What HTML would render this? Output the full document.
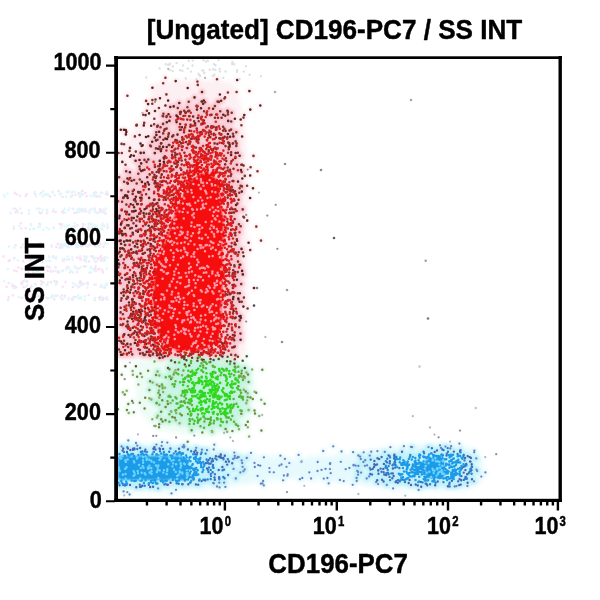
<!DOCTYPE html>
<html><head><meta charset="utf-8"><style>
html,body{margin:0;padding:0;background:#fff;width:600px;height:600px;overflow:hidden}
svg{display:block}
text{font-family:"Liberation Sans",Arial,sans-serif;font-weight:bold;fill:#000;stroke:#000;stroke-width:0.45px;stroke-linejoin:round}
</style></head><body>
<svg width="600" height="600" viewBox="0 0 600 600">
<rect width="600" height="600" fill="#fff"/>
<defs><filter id="b2" x="-20%" y="-20%" width="140%" height="140%"><feGaussianBlur stdDeviation="2.5"/></filter><filter id="b1" x="-20%" y="-20%" width="140%" height="140%"><feGaussianBlur stdDeviation="1.2"/></filter><filter id="bh" x="-5%" y="-5%" width="110%" height="110%"><feGaussianBlur stdDeviation="1.6"/></filter><filter id="b05"><feGaussianBlur stdDeviation="0.55"/></filter></defs>
<g opacity="0.55" filter="url(#b05)"><path d="M58.6 191.1h0m23.2 .1h0m.8 -.2h0m-48 1.4h0m18.2 -.2h0m15.7 -.3h0m4 -.2h0m23.1 .5h0m11 -.1h0m-92 .8h0m26.6 .2h0m37.5 0h0m6.7 -.1h0m8.5 .3h0m7.3 -.5h0m-84.6 1.5h0m10 -.2h0m8.6 0h0m47.3 .3h0m23.4 -.3h0m1.8 .3h0m-32 .4h0m-55.9 1h0m5.9 .1h0m46.8 -.4h0m14.1 .7h0m9.4 .2h0m4 .1h0m-49.9 .1h0m12.5 .3h0m8.4 -.1h0m8.9 -.1h0m17.9 -.1h0m-58.2 11.9h0m-24.2 .3h0m57.5 0h0m5.8 0h0m5.3 .3h0m10.6 -.5h0m5.3 .7h0m-18.2 .2h0m8.7 .5h0m11.9 .2h0m.1 -.2h0m1.6 -.2h0m-86.8 .9h0m35.9 .7h0m29.2 -.7h0m3.1 .7h0m9.2 -.2h0m-79 1.1h0m40.2 -.3h0m6.4 -.2h0m33.3 .2h0m4.4 -.2h0m2.5 .5h0m-80.7 .9h0m18.3 .1h0m1.5 -.4h0m5.6 .4h0m16.3 -.5h0m11.1 .2h0m2.3 -.4h0m28 0h0m.7 1.1h0m-84.7 9.5h0m10 1h0m8.4 -.4h0m.8 .4h0m19.5 -.3h0m.8 .6h0m1.5 0h0m.1 -.2h0m20.8 -.3h0m8.1 .3h0m.1 -.2h0m-30.3 .6h0m.6 .5h0m16.3 .1h0m25 0h0m-28.2 1.1h0m29.7 -.6h0m-21 .8h0m9.3 .4h0m15.5 -.2h0m-82 1.5h0m27.9 -.8h0m34.4 .3h0m19.4 .2h0m-93.7 .6h0m7.6 0h0m71.4 .5h0m4.7 -.6h0m.1 .9h0m-8.9 .3h0m2.7 -.1h0m.2 .3h0m-51 13.4h0m50.3 0h0m-51.9 .4h0m18.8 .2h0m8.9 .5h0m8.8 -.4h0m.2 .2h0m.4 -.2h0m9.4 .3h0m5 .1h0m1.8 -.1h0m8.3 -.5h0m4 .1h0m-89 1.4h0m44.9 -.8h0m6.6 .4h0m1.2 0h0m3.3 .2h0m6.6 .1h0m6.3 -.5h0m4.2 .8h0m.6 0h0m.2 -.4h0m-37.8 1.1h0m9.7 .1h0m19.7 -.1h0m.8 -.5h0m.9 -.1h0m4.9 .8h0m7.3 -.2h0m3.7 -.1h0m-77.7 1.3h0m19.9 -.3h0m2.9 -.2h0m12.5 0h0m20.2 .2h0m27 -.3h0m-43.9 1h0m-56.1 8.6h0m49.4 0h0m31.7 .1h0m6.7 0h0m1.2 -.3h0m8.8 -.2h0m-52.2 .9h0m51.3 .3h0m-85.9 .7h0m28.1 0h0m34.5 -.3h0m2.4 .7h0m.9 -.5h0m13.1 -.2h0m4.7 .6h0m5.8 .2h0m-74.1 1.1h0m1.8 -.1h0m.4 -.6h0m32.2 .6h0m4.7 -.1h0m16.7 -.2h0m12.4 -.1h0m4.3 -.3h0m-92.5 1.7h0m70.9 -.6h0m3.6 .4h0m16.5 .2h0m4 -.1h0m-96.2 .8h0m14.6 .2h0m39.3 -.7h0m-19.8 1.2h0m46.2 -.3h0m6.5 .2h0m-48.5 4.8h0m37.3 -.1h0m11.4 -.2h0m-46.5 .7h0m6.4 .4h0m11.8 -.3h0m7.6 -.1h0m-56.6 .7h0m49.8 .5h0m7.3 -.3h0m3.1 .4h0m-56.7 .7h0m10.6 .4h0m3.8 -.3h0m41.8 .1h0m16.9 -.5h0m2.9 .6h0m1.5 -.5h0m-85.2 1.8h0m13.1 -.2h0m35.6 .2h0m39.2 -.6h0m-85.5 1.3h0m20.9 .3h0m10.2 -.6h0m5.9 .4h0m4.6 0h0m4.4 -.4h0m33.1 .1h0m-44.9 .6h0m19.3 .6h0m7.1 0h0m25.6 -.5h0m.2 .7h0m-74.7 .2h0m5.1 0h0m24.5 0h0m31.8 .2h0m-66.7 8.6h0m4.2 0h0m14 -.3h0m13.1 0h0m1.8 .3h0m24.1 -.2h0m-38.5 .9h0m1.7 .3h0m7.6 0h0m6.3 -.2h0m8.3 -.3h0m-56.9 1.1h0m12.6 0h0m34.5 -.2h0m23.8 .2h0m1.3 .1h0m6.8 -.4h0m-65.7 1.3h0m13.4 0h0m12 .2h0m35.3 .1h0m5.1 -.4h0m7.9 .6h0m-54.3 .1h0m6 -.1h0m8.5 0h0m26.2 .3h0m-69.5 1.1h0m1.6 0h0m17.4 .1h0m-25 .8h0m9.6 .5h0m7.5 -.2h0m39 -.4h0m10.2 .3h0m4.8 -.5h0m1 .5h0m22.1 -.4h0m3.9 .5h0m-90.2 .8h0m16.7 -.1h0m73.7 -.1h0m-92 7.7h0m15.6 -.1h0m3.9 .1h0m1.1 -.2h0m55.1 -.2h0m-63.8 1.5h0m7.9 -.1h0m5.6 -.5h0m14.2 -.3h0m3.4 .1h0m5.9 -.1h0m3.2 .3h0m-56.3 1.3h0m22.8 -.2h0m43.3 0h0m25.9 .1h0m-78.9 .7h0m20.9 -.2h0m3.9 .2h0m33.1 -.1h0m15.5 .3h0m4.1 -.4h0m.5 .7h0m3.3 -.2h0m3 .1h0m-79.9 .7h0m15.3 -.3h0m12.8 .7h0m7.9 -.2h0m9.5 .2h0m23.3 0h0m4.9 .1h0m7.5 .1h0m-99.3 .5h0m64.8 -.4h0m21.6 .1h0m.3 .2h0m8.1 -.2h0" stroke="#f6c8ee" stroke-width="2.6" stroke-linecap="round" fill="none"/>
<path d="M43 191.2h0m25.3 0h0m-15.8 .6h0m13.9 .3h0m5.7 -.2h0m2.6 -.1h0m32.6 .6h0m-72.6 .2h0m25.7 .6h0m20.8 .3h0m15.4 -.4h0m5.9 .1h0m-95 .4h0m32.7 .5h0m5.6 -.4h0m1.8 .6h0m13.6 -.2h0m10.7 -.6h0m8.6 .3h0m13.8 .6h0m-90.5 .7h0m40.4 -.1h0m2.5 -.1h0m8.1 .5h0m4.6 -.9h0m19.9 .3h0m2.2 .2h0m-45.5 1.3h0m6.9 .1h0m6.1 -.8h0m22.6 .7h0m18.7 -.8h0m2.4 .7h0m6.7 -.3h0m.2 .2h0m-95 .6h0m61.4 0h0m-52.8 11.8h0m56.3 -.3h0m16 .3h0m-65.2 .1h0m16.5 .2h0m28 -.1h0m8.4 .8h0m6.6 -.5h0m4.3 .3h0m7.8 -.5h0m3 .4h0m11.2 -.6h0m-76.9 1.7h0m13.5 -.3h0m4.1 -.2h0m6.7 -.2h0m9.9 .7h0m4.9 0h0m9.1 0h0m.5 -.4h0m25 0h0m-55.6 1.6h0m33 -.9h0m-41.2 1.3h0m40 0h0m2.7 -.2h0m6.7 .1h0m6.8 -.1h0m10.1 .7h0m-95 .1h0m.3 .9h0m7.3 -.6h0m.1 .2h0m11 .4h0m36 -.6h0m24.3 .2h0m7.9 .2h0m.9 -.5h0m-23.4 10.6h0m14 .2h0m2.6 .4h0m11 -.3h0m4.8 .6h0m-76.1 .7h0m37.9 .1h0m16.3 -.4h0m3.5 0h0m5.6 .4h0m8.4 .1h0m-88.8 1.4h0m5.3 -.6h0m48 .1h0m29.3 .3h0m-58.4 .9h0m.9 -.5h0m.8 -.1h0m24.3 -.1h0m8.6 0h0m2.5 .7h0m13.5 .2h0m-42.2 .3h0m7.3 .2h0m7.2 .4h0m30.5 0h0m4.6 -.2h0m5 -.4h0m6.5 .1h0m-77.9 1.6h0m3.1 -.6h0m1.4 .1h0m14.5 .1h0m51.8 -.2h0m2.1 .4h0m-59.5 .6h0m23.2 0h0m.2 -.2h0m11.4 13.5h0m13.3 .2h0m14 .1h0m-44.8 .6h0m4.7 -.3h0m3.2 .6h0m4.8 -.3h0m22.6 .3h0m1.8 -.6h0m10.3 0h0m-85.2 .9h0m29 .6h0m11.5 -.6h0m1 .8h0m3.1 -.2h0m8.3 -.3h0m.5 .5h0m9.4 0h0m2.7 0h0m5.2 -.8h0m-84.6 1.8h0m54.1 -.2h0m-38.3 .9h0m42 -.3h0m1.9 .5h0m7.6 -.5h0m1.8 0h0m1.1 -.3h0m17.4 0h0m3.5 .2h0m-85.6 .9h0m47.7 .2h0m-13 8.5h0m31.1 .1h0m7.3 .1h0m-31.2 .2h0m11.4 -.2h0m4.7 .8h0m13.3 0h0m19.3 -.3h0m-68.5 .6h0m2.7 .3h0m14.9 -.2h0m30.8 .6h0m1.9 -.7h0m9 .2h0m11.6 -.1h0m-93.5 1.1h0m19.7 0h0m22.6 0h0m6.8 -.1h0m31.5 0h0m-76.6 1.6h0m11.6 .1h0m37.3 -.8h0m5.9 .3h0m21.3 -.3h0m9.1 .2h0m-66.9 .7h0m3 .3h0m7.4 .1h0m2.7 -.3h0m.9 .6h0m13.9 0h0m32.6 0h0m6.7 0h0m-17.1 .6h0m-45.3 5.2h0m27.7 .1h0m6.2 -.4h0m6.2 .3h0m5.2 -.4h0m5.1 .1h0m-59.5 1.2h0m11.3 -.3h0m7.3 .7h0m25.8 0h0m14.4 -.4h0m.6 .2h0m-83.3 1h0m21.8 -.3h0m36.1 .4h0m12.6 -.6h0m14.7 .7h0m13.7 -.7h0m-70.1 1.4h0m1.1 0h0m32.7 .2h0m-37.4 .5h0m22.7 .1h0m6.9 .5h0m9.2 0h0m22.8 -.1h0m-35 1.1h0m31.3 .1h0m-54.2 .1h0m3.4 .5h0m33.1 -.1h0m17.6 -.3h0m-86.8 8.7h0m20.8 -.2h0m23.3 1.1h0m7.1 -.5h0m27 .8h0m-40.9 .7h0m31.6 0h0m-61.1 1.1h0m73.5 -.6h0m20.6 .1h0m1.4 .3h0m-61 1.3h0m9.7 -.9h0m19.1 0h0m.3 .6h0m18.7 -.3h0m7 .2h0m6.2 -.5h0m-80.2 1.1h0m52.7 .4h0m21.7 -.4h0m3.8 .5h0m-79.4 .6h0m52.2 .6h0m-64.8 .4h0m21.8 .1h0m52.2 -.2h0m15.8 0h0m-25 7.6h0m-51.5 1.1h0m9.5 -.6h0m5 .7h0m16.4 -.8h0m27.5 .9h0m-66.3 .6h0m20.9 .4h0m2.1 -.7h0m9.7 -.2h0m1.9 .3h0m19.7 .4h0m3.3 0h0m4.8 0h0m3.3 -.8h0m17.2 .1h0m5 .5h0m-75.6 1.4h0m17.4 -.5h0m2.8 0h0m9 -.4h0m4.1 .1h0m4.4 0h0m-20.9 1.1h0m31 -.1h0m2.4 0h0m13.6 .2h0m10.4 -.1h0m.2 -.2h0m-37.4 1.1h0m16.8 .3h0m16.1 -.2h0" stroke="#c4f4fa" stroke-width="2.6" stroke-linecap="round" fill="none"/>
</g>
<path d="M172 80h50v2h-50zM157 82h74v2h-74zM152 84h82v2h-82zM151 86h85v2h-85zM150 88h86v2h-86zM151 90h86v2h-86zM151 92h86v2h-86zM151 94h87v2h-87zM150 96h89v2h-89zM149 98h90v2h-90zM148 100h92v2h-92zM147 102h93v2h-93zM147 104h94v2h-94zM146 106h95v2h-95zM146 108h96v2h-96zM145 110h97v2h-97zM144 112h98v2h-98zM144 114h99v2h-99zM143 116h100v2h-100zM143 118h100v2h-100zM142 120h102v2h-102zM140 122h104v2h-104zM138 124h106v2h-106zM137 126h107v2h-107zM135 128h110v2h-110zM134 130h111v2h-111zM132 132h113v2h-113zM131 134h114v2h-114zM130 136h115v2h-115zM128 138h118v2h-118zM126 140h120v2h-120zM124 142h122v2h-122zM122 144h124v2h-124zM120 146h126v2h-126zM118 148h128v2h-128zM118 150h129v2h-129zM118 152h129v2h-129zM118 154h129v2h-129zM118 156h129v2h-129zM118 158h129v2h-129zM118 160h129v2h-129zM118 162h129v2h-129zM118 164h129v2h-129zM118 166h129v2h-129zM118 168h129v2h-129zM118 170h129v2h-129zM118 172h129v2h-129zM118 174h130v2h-130zM118 176h130v2h-130zM118 178h130v2h-130zM118 180h130v2h-130zM118 182h130v2h-130zM118 184h130v2h-130zM118 186h130v2h-130zM118 188h130v2h-130zM118 190h130v2h-130zM118 192h130v2h-130zM118 194h130v2h-130zM118 196h130v2h-130zM118 198h130v2h-130zM118 200h130v2h-130zM118 202h130v2h-130zM118 204h130v2h-130zM118 206h130v2h-130zM118 208h130v2h-130zM118 210h130v2h-130zM118 212h130v2h-130zM118 214h130v2h-130zM118 216h130v2h-130zM118 218h130v2h-130zM118 220h130v2h-130zM118 222h130v2h-130zM118 224h130v2h-130zM118 226h130v2h-130zM118 228h130v2h-130zM118 230h130v2h-130zM118 232h130v2h-130zM118 234h130v2h-130zM118 236h130v2h-130zM118 238h130v2h-130zM118 240h130v2h-130zM118 242h130v2h-130zM118 244h130v2h-130zM118 246h130v2h-130zM118 248h130v2h-130zM118 250h130v2h-130zM118 252h130v2h-130zM118 254h130v2h-130zM118 256h130v2h-130zM118 258h130v2h-130zM118 260h130v2h-130zM118 262h130v2h-130zM118 264h130v2h-130zM118 266h130v2h-130zM118 268h130v2h-130zM118 270h130v2h-130zM118 272h130v2h-130zM118 274h130v2h-130zM118 276h130v2h-130zM118 278h130v2h-130zM118 280h130v2h-130zM118 282h130v2h-130zM118 284h130v2h-130zM118 286h130v2h-130zM118 288h130v2h-130zM118 290h130v2h-130zM118 292h130v2h-130zM118 294h130v2h-130zM118 296h130v2h-130zM118 298h130v2h-130zM118 300h130v2h-130zM118 302h130v2h-130zM118 304h130v2h-130zM118 306h130v2h-130zM118 308h130v2h-130zM118 310h130v2h-130zM118 312h129v2h-129zM118 314h129v2h-129zM118 316h129v2h-129zM118 318h129v2h-129zM118 320h129v2h-129zM118 322h129v2h-129zM118 324h129v2h-129zM118 326h129v2h-129zM118 328h129v2h-129zM118 330h129v2h-129zM118 332h129v2h-129zM118 334h129v2h-129zM118 336h129v2h-129zM118 338h129v2h-129zM118 340h128v2h-128zM118 342h128v2h-128zM118 344h128v2h-128zM118 346h128v2h-128zM118 348h128v2h-128zM118 350h128v2h-128zM118 352h127v2h-127zM118 354h126v2h-126zM118 356h123v2h-123zM118 358h116v2h-116z" fill="#fdf0f3" filter="url(#b2)"/>
<path d="M199 102h10v2h-10zM189 104h27v2h-27zM185 106h34v2h-34zM181 108h40v2h-40zM178 110h45v2h-45zM175 112h50v2h-50zM173 114h53v2h-53zM172 116h55v2h-55zM170 118h58v2h-58zM169 120h60v2h-60zM168 122h61v2h-61zM166 124h64v2h-64zM165 126h66v2h-66zM164 128h67v2h-67zM163 130h69v2h-69zM162 132h70v2h-70zM161 134h72v2h-72zM160 136h73v2h-73zM158 138h76v2h-76zM157 140h77v2h-77zM156 142h78v2h-78zM155 144h80v2h-80zM154 146h81v2h-81zM153 148h82v2h-82zM152 150h84v2h-84zM150 152h86v2h-86zM149 154h87v2h-87zM148 156h89v2h-89zM147 158h90v2h-90zM145 160h92v2h-92zM144 162h93v2h-93zM142 164h96v2h-96zM141 166h97v2h-97zM139 168h99v2h-99zM137 170h101v2h-101zM135 172h104v2h-104zM133 174h106v2h-106zM132 176h107v2h-107zM130 178h109v2h-109zM128 180h111v2h-111zM126 182h113v2h-113zM125 184h114v2h-114zM124 186h116v2h-116zM123 188h117v2h-117zM121 190h119v2h-119zM120 192h120v2h-120zM118 194h122v2h-122zM118 196h122v2h-122zM118 198h122v2h-122zM118 200h122v2h-122zM118 202h122v2h-122zM118 204h122v2h-122zM118 206h122v2h-122zM118 208h122v2h-122zM118 210h122v2h-122zM118 212h122v2h-122zM118 214h123v2h-123zM118 216h123v2h-123zM118 218h123v2h-123zM118 220h123v2h-123zM118 222h123v2h-123zM118 224h123v2h-123zM118 226h123v2h-123zM118 228h123v2h-123zM118 230h123v2h-123zM118 232h123v2h-123zM118 234h123v2h-123zM118 236h122v2h-122zM118 238h122v2h-122zM118 240h122v2h-122zM118 242h122v2h-122zM118 244h122v2h-122zM118 246h122v2h-122zM118 248h122v2h-122zM118 250h122v2h-122zM118 252h122v2h-122zM118 254h122v2h-122zM118 256h122v2h-122zM118 258h122v2h-122zM118 260h122v2h-122zM118 262h122v2h-122zM118 264h122v2h-122zM118 266h122v2h-122zM118 268h122v2h-122zM118 270h122v2h-122zM118 272h122v2h-122zM118 274h122v2h-122zM118 276h122v2h-122zM118 278h122v2h-122zM118 280h122v2h-122zM118 282h122v2h-122zM118 284h122v2h-122zM118 286h122v2h-122zM118 288h122v2h-122zM118 290h122v2h-122zM118 292h122v2h-122zM118 294h122v2h-122zM118 296h122v2h-122zM118 298h122v2h-122zM118 300h122v2h-122zM118 302h122v2h-122zM118 304h121v2h-121zM118 306h121v2h-121zM118 308h121v2h-121zM118 310h121v2h-121zM118 312h121v2h-121zM118 314h121v2h-121zM118 316h121v2h-121zM118 318h121v2h-121zM118 320h121v2h-121zM118 322h121v2h-121zM118 324h121v2h-121zM118 326h121v2h-121zM118 328h120v2h-120zM118 330h120v2h-120zM118 332h120v2h-120zM118 334h120v2h-120zM118 336h120v2h-120zM118 338h120v2h-120zM118 340h119v2h-119zM118 342h119v2h-119zM118 344h119v2h-119zM118 346h119v2h-119zM118 348h118v2h-118zM118 350h117v2h-117zM118 352h116v2h-116zM118 354h114v2h-114zM141 356h85v2h-85z" fill="#fbdde4" filter="url(#b2)"/>
<path d="M183 356h43v2h-43zM148 358h93v2h-93zM136 360h111v2h-111zM135 362h114v2h-114zM135 364h116v2h-116zM136 366h115v2h-115zM137 368h115v2h-115zM137 370h116v2h-116zM137 372h116v2h-116zM137 374h117v2h-117zM137 376h117v2h-117zM136 378h118v2h-118zM136 380h118v2h-118zM136 382h119v2h-119zM136 384h119v2h-119zM136 386h119v2h-119zM136 388h119v2h-119zM136 390h119v2h-119zM136 392h119v2h-119zM136 394h119v2h-119zM137 396h117v2h-117zM137 398h117v2h-117zM137 400h117v2h-117zM138 402h116v2h-116zM138 404h115v2h-115zM138 406h115v2h-115zM139 408h114v2h-114zM140 410h112v2h-112zM141 412h111v2h-111zM143 414h108v2h-108zM144 416h107v2h-107zM146 418h104v2h-104zM147 420h102v2h-102zM149 422h100v2h-100zM151 424h97v2h-97zM155 426h91v2h-91zM160 428h84v2h-84zM167 430h73v2h-73zM179 432h55v2h-55zM197 434h14v2h-14z" fill="#eefcf5" filter="url(#b2)"/>
<path d="M188 360h36v2h-36zM178 362h56v2h-56zM174 364h64v2h-64zM172 366h69v2h-69zM170 368h73v2h-73zM168 370h76v2h-76zM168 372h77v2h-77zM167 374h78v2h-78zM167 376h78v2h-78zM166 378h79v2h-79zM166 380h80v2h-80zM165 382h81v2h-81zM165 384h81v2h-81zM165 386h81v2h-81zM164 388h82v2h-82zM165 390h81v2h-81zM165 392h81v2h-81zM165 394h81v2h-81zM165 396h81v2h-81zM166 398h79v2h-79zM166 400h79v2h-79zM166 402h79v2h-79zM167 404h78v2h-78zM167 406h78v2h-78zM168 408h76v2h-76zM169 410h75v2h-75zM170 412h73v2h-73zM172 414h70v2h-70zM174 416h67v2h-67zM175 418h65v2h-65zM177 420h62v2h-62zM180 422h57v2h-57zM184 424h51v2h-51zM191 426h39v2h-39z" fill="#cdf6e4" filter="url(#b2)"/>
<path d="M118 444h76v2h-76zM410 444h45v2h-45zM118 446h91v2h-91zM392 446h75v2h-75zM118 448h105v2h-105zM379 448h93v2h-93zM118 450h115v2h-115zM369 450h106v2h-106zM118 452h128v2h-128zM356 452h122v2h-122zM118 454h140v2h-140zM336 454h144v2h-144zM118 456h160v2h-160zM308 456h173v2h-173zM118 458h171v2h-171zM292 458h190v2h-190zM118 460h365v2h-365zM118 462h365v2h-365zM118 464h365v2h-365zM118 466h365v2h-365zM118 468h365v2h-365zM118 470h365v2h-365zM118 472h365v2h-365zM118 474h365v2h-365zM118 476h365v2h-365zM118 478h167v2h-167zM298 478h184v2h-184zM118 480h148v2h-148zM323 480h158v2h-158zM118 482h134v2h-134zM350 482h129v2h-129zM118 484h120v2h-120zM364 484h112v2h-112zM118 486h107v2h-107zM377 486h96v2h-96zM118 488h89v2h-89zM394 488h72v2h-72zM118 490h58v2h-58z" fill="#e6fafd" filter="url(#b2)"/>
<path d="M118 450h62v2h-62zM118 452h78v2h-78zM408 452h50v2h-50zM118 454h88v2h-88zM395 454h70v2h-70zM118 456h95v2h-95zM388 456h81v2h-81zM118 458h98v2h-98zM385 458h85v2h-85zM118 460h98v2h-98zM385 460h85v2h-85zM118 462h98v2h-98zM385 462h85v2h-85zM118 464h98v2h-98zM385 464h85v2h-85zM118 466h98v2h-98zM385 466h85v2h-85zM118 468h98v2h-98zM385 468h85v2h-85zM118 470h98v2h-98zM385 470h85v2h-85zM118 472h98v2h-98zM385 472h85v2h-85zM118 474h98v2h-98zM385 474h85v2h-85zM118 476h98v2h-98zM385 476h85v2h-85zM118 478h97v2h-97zM386 478h83v2h-83zM118 480h92v2h-92zM391 480h76v2h-76zM118 482h83v2h-83zM401 482h61v2h-61zM118 484h70v2h-70zM425 484h19v2h-19z" fill="#c4f1fb" filter="url(#b2)"/>
<g filter="url(#bh)"><path d="M165.4 77.8h0m51.6 1.5h0m20.2 .7h0m-61.5 1.1h0m21.7 .4h0m-34.2 1.7h0m34.6 1.7h0m-45.4 2.8h0m35.3 .3h0m61.7 3.1h0m-12.8 .9h0m-8.7 .5h0m-61.5 1.9h0m53.5 .1h0m-92.5 1.3h0m97.7 1.6h0m-65.1 .8h0m-4.5 1.3h0m68.9 -1h0m-72 1.6h0m-6.3 .8h0m22 -.3h0m-20 3.5h0m4.2 -.4h0m13.1 1.8h0m94.9 0h0m-101.4 2.5h0m91.4 1.6h0m-103.4 1.1h0m8.1 .3h0m-6 2.4h0m-5.7 1.3h0m2.2 .4h0m98.8 -.1h0m-.8 2.6h0m-89.2 1.2h0m80.6 -.1h0m5.8 .8h0m-96.5 3.4h0m9.9 1.3h0m-17.6 1.2h0m.3 -.5h0m7 .5h0m97.6 -.1h0m-90.2 .5h0m-30.4 3.9h0m3.1 0h0m1.9 .4h0m.5 1.8h0m-.4 2.5h0m13.7 .6h0m-4.7 1.4h0m13.4 -.2h0m93.8 .3h0m-96.1 .5h0m-24.4 6.9h0m2.5 .4h0m16.4 -.8h0m2.2 1.8h0m-1 .6h0m-11.7 2h0m-.5 3h0m6.3 .7h0m-17.3 1.4h0m3.3 0h0m9.4 2.3h0m2.7 .5h0m119.6 .1h0m-123.4 .8h0m-7.8 5.2h0m3.2 2.8h0m115.8 0h0m.6 -.1h0m1.7 1h0m7 1.6h0m6.9 4h0m-12.7 4.7h0m5.4 -.4h0m-7.9 3h0m4.8 7.2h0m5.9 2.6h0m-2.9 9.7h0m-6.7 18.7h0m.6 .7h0m3.2 3.2h0m9.1 6h0m4.7 14h0m-12.4 2.1h0m1.6 7.3h0m-7.2 2.5h0m.6 3.7h0m10.4 31.8h0m-10.1 9.6h0m-.5 9h0m4.2 1.9h0m-12.2 46.8h0m2.5 1.4h0m-27.4 2.3h0m24.3 .3h0m-31.2 .7h0" stroke="#fce6eb" stroke-width="5.5" stroke-linecap="round" fill="none"/>
<path d="M202 92h0m-7.5 5.4h0m9.3 3.1h0m17.3 .2h0m-32.4 1h0m13 -.2h0m3.3 .7h0m12.6 -.6h0m1.3 .3h0m-39.6 1.1h0m23.8 .7h0m-29.4 2.7h0m23 -.5h0m.2 .5h0m.1 -.3h0m.6 .1h0m17.3 -.1h0m-44.6 .9h0m17.1 .3h0m-9.6 .7h0m23.2 .3h0m8 .1h0m4.1 .3h0m-16.1 .9h0m-12.8 1.1h0m3.8 .5h0m1 -.2h0m.2 -.2h0m14.9 .5h0m3.1 -.1h0m13 0h0m7.3 -.5h0m-47.5 1.7h0m1 -.6h0m4.3 .7h0m42.6 -.5h0m-47.2 .5h0m5.1 .1h0m5 .1h0m15.8 .3h0m25.1 -.3h0m-68.3 1h0m5.1 .6h0m11.8 -.3h0m35.9 .5h0m11.7 -.1h0m-29.4 1.1h0m8.6 -.7h0m3.1 .3h0m1.2 -.3h0m5.7 -.2h0m6.2 .2h0m-60.6 1.3h0m.5 .2h0m3.5 -.3h0m9.8 -.4h0m7 .4h0m1.7 -.3h0m3.9 .5h0m.4 0h0m3.6 .3h0m32.1 -.8h0m-58.7 1.2h0m3.7 -.1h0m7.5 -.1h0m24.1 0h0m3.9 .3h0m-27.8 .7h0m19.9 .3h0m2.9 -.3h0m.8 -.1h0m13.5 .2h0m3 -.1h0m3.6 .1h0m-43.8 1.1h0m2.6 -.3h0m1.4 .5h0m19.5 .1h0m-25.1 1h0m7.3 -.7h0m3.8 .1h0m3.1 .3h0m-21 1h0m24.7 .3h0m4.6 0h0m4.2 -.7h0m.9 .1h0m24.4 .3h0m3 .6h0m-64.4 .8h0m9.8 -.2h0m39.2 -.3h0m-20.7 1.5h0m8.2 .1h0m1.3 -.1h0m-41.5 .6h0m17 .2h0m21.2 .3h0m.4 -.7h0m.5 .2h0m-16.5 .8h0m.1 .1h0m4.8 0h0m3.3 .7h0m1.3 -.2h0m-37.5 .4h0m34.4 0h0m15.7 .7h0m3.7 -.1h0m7.3 .1h0m-61.6 .4h0m3.3 .4h0m19.1 -.2h0m2.3 .3h0m3.2 .1h0m5.3 -.6h0m15.7 .7h0m4.9 -.2h0m1 -.2h0m.7 -.2h0m.9 0h0m2.8 .4h0m6.7 -.6h0m-11.5 1.2h0m4.7 .1h0m-51.6 1.2h0m1.9 -.6h0m17.5 .7h0m12.6 -.7h0m23.1 .1h0m4.6 .1h0m-44.4 .9h0m.8 .1h0m16.2 .4h0m6 -.2h0m.4 0h0m12.5 -.3h0m.7 -.1h0m14.5 0h0m-67 1.1h0m20 -.1h0m5.4 .2h0m1.7 .2h0m3.1 .5h0m9.8 -.5h0m.5 -.1h0m4.9 -.3h0m13.7 0h0m2.4 .3h0m3.9 -.3h0m-73.2 1.7h0m2.8 -.5h0m24.9 .4h0m17.2 -.2h0m5.4 .4h0m4.1 -.6h0m25.6 .4h0m-73.1 1.2h0m5.6 -.2h0m28.5 -.6h0m2.3 0h0m2.4 .1h0m6.8 -.1h0m10.6 .8h0m-27.7 .6h0m9.4 -.4h0m.8 .5h0m3.7 -.3h0m5.7 .3h0m2.5 -.2h0m7.6 .5h0m6.5 -.3h0m5.1 -.4h0m-76.6 1.3h0m12.1 -.4h0m4.8 .8h0m4.2 -.8h0m11.2 .3h0m1.2 -.1h0m2.8 .1h0m7.8 -.3h0m8.5 .8h0m4.8 -.5h0m1.4 -.2h0m5.4 0h0m-35 1.6h0m.4 -.3h0m12 -.1h0m1.7 -.2h0m33.7 .7h0m-78.7 1.1h0m5.2 -.4h0m8.2 -.3h0m4.2 -.3h0m9.9 .9h0m4.9 .1h0m1.6 -.8h0m3.6 .4h0m1.2 -.4h0m3.6 .4h0m1.4 .2h0m6.2 -.7h0m5.7 .6h0m14.3 -.3h0m2.7 .5h0m2.7 -.7h0m-34.6 1.2h0m.6 .6h0m12 -.5h0m7.8 -.5h0m3.5 .7h0m3.2 -.4h0m1.1 0h0m-58.3 .8h0m1.6 .4h0m16.4 -.1h0m.1 .4h0m7.3 -.5h0m1 -.1h0m2.5 0h0m4.3 .7h0m14.4 -.1h0m1.6 -.3h0m5.6 -.4h0m6.9 -.1h0m.1 .1h0m-71.2 1.8h0m1.5 -.7h0m5.9 0h0m12.2 .3h0m6.8 -.2h0m14.4 -.2h0m10.1 .4h0m.3 .4h0m15.2 -.9h0m.6 .9h0m-47.9 .9h0m1.9 -.8h0m12.2 .6h0m7.3 .1h0m27.3 .1h0m11.8 .1h0m-83.4 .4h0m27.5 0h0m3.7 .7h0m2.8 -.4h0m4.2 -.3h0m7.4 .2h0m-36.8 1.4h0m.4 -.1h0m11.8 -.5h0m3.5 .2h0m.6 -.3h0m.2 0h0m3.6 .7h0m1.9 -.6h0m6.5 .5h0m.1 -.3h0m8.7 -.1h0m10.7 .4h0m.9 -.3h0m4.7 .4h0m5.1 -.6h0m2.3 .2h0m6.1 -.4h0m1.1 .5h0m3.8 .3h0m3.6 0h0m-48.5 1h0m1.7 -.7h0m27.6 .2h0m6.1 -.3h0m9.2 0h0m-63.9 1.4h0m.6 .1h0m9.4 .1h0m27.7 0h0m1.3 -.1h0m21.8 -.4h0m-79.4 .8h0m.7 .7h0m22.1 -.4h0m6 0h0m13.8 -.1h0m10.3 .4h0m22.4 0h0m10.8 -.2h0m-76.6 .7h0m3.4 .3h0m3.6 .1h0m5.3 0h0m9.8 -.3h0m.1 -.2h0m.8 0h0m9.1 .1h0m1.9 .3h0m13.5 .3h0m1.7 -.2h0m1.1 -.1h0m18.7 .2h0m1 -.5h0m-73.7 1.8h0m22 0h0m8.6 -.4h0m.5 0h0m6.3 -.1h0m2.6 -.3h0m3.6 .4h0m.9 0h0m.4 .3h0m13.9 -.6h0m.7 .4h0m2.2 .1h0m-59.6 .6h0m2.1 .5h0m1.1 -.3h0m14.2 -.3h0m24.3 .2h0m6.4 .2h0m4.8 -.3h0m2.4 .4h0m2.9 -.2h0m.2 .1h0m12.3 .1h0m-54.5 .7h0m7.7 0h0m10.1 .5h0m.7 -.2h0m.4 .2h0m8.6 -.8h0m6.9 .7h0m3.1 -.5h0m-50.9 1.3h0m5.5 -.6h0m5.1 .7h0m1 .3h0m27.7 0h0m2.7 0h0m.2 -.4h0m9.7 -.3h0m10.6 -.2h0m-30.2 1.8h0m1 -.8h0m1.7 .4h0m3.1 -.3h0m5.6 .7h0m4.1 -.8h0m3.9 .7h0m3 -.3h0m15.5 .4h0m-90.4 .5h0m3.1 -.2h0m11 .4h0m20.3 -.3h0m9.3 -.1h0m9.9 .6h0m4 .1h0m6.8 -.3h0m5.3 .1h0m6.6 -.1h0m.1 .1h0m2.9 .2h0m1.8 .1h0m6.2 -.7h0m7.7 .2h0m2.1 -.3h0m-60.5 1.5h0m2.4 -.6h0m16.7 .9h0m4.7 -.3h0m5.6 .2h0m1.2 -.5h0m8.2 .2h0m-44 .8h0m3.1 .4h0m14.2 -.5h0m.6 -.2h0m6.4 .7h0m6 -.3h0m15.4 .5h0m.9 -.2h0m2.2 .1h0m10.2 -.5h0m-66.2 1.3h0m16 -.4h0m4.3 .1h0m1.6 .2h0m3.1 -.6h0m11.3 .1h0m1.1 .3h0m2.3 -.1h0m1.3 .2h0m4.6 .2h0m1.1 -.2h0m4.5 -.3h0m7.9 0h0m15.6 .1h0m-67.3 1.2h0m1.2 .2h0m1.8 .3h0m19.9 -.6h0m2.9 -.1h0m17.3 0h0m20.1 .1h0m-71.8 .9h0m2.5 0h0m.1 0h0m5.6 .1h0m.6 .3h0m8.6 -.4h0m9.6 -.2h0m3 .1h0m6.2 -.1h0m2.2 .6h0m2.4 -.3h0m1.1 -.2h0m1.1 .1h0m4.8 -.2h0m5.9 .9h0m8.5 -.2h0m9.4 -.3h0m-71.1 .8h0m14.7 -.3h0m10.7 .2h0m14.1 .4h0m1.6 .3h0m3.7 -.8h0m13.4 -.1h0m-82.9 1.5h0m5 -.1h0m3.8 -.4h0m27.5 .9h0m3.5 -.4h0m6.1 -.2h0m8.5 -.3h0m1.1 .7h0m2.9 -.6h0m6 .1h0m3.5 .1h0m3.4 -.1h0m13.5 .1h0m8.7 0h0m-97.4 1h0m24.2 .1h0m9.1 -.2h0m8 .6h0m4.8 -.8h0m13.6 .7h0m.7 -.3h0m1 -.4h0m3.4 .1h0m.4 .8h0m7.4 -.4h0m5.8 -.4h0m6.8 .6h0m5.5 -.2h0m5.2 .4h0m-84.9 .5h0m7 0h0m10.3 0h0m4 .1h0m.2 -.3h0m1.8 .3h0m.6 -.1h0m7.5 .2h0m8.3 .2h0m.7 .2h0m7.4 -.7h0m6.5 .2h0m3.6 .5h0m1.6 -.3h0m8 .2h0m1.6 -.8h0m.7 .9h0m2.9 -1h0m-78.1 1.9h0m26.5 -.8h0m6.3 0h0m2.4 .9h0m11.7 -.9h0m8.9 -.1h0m.8 .7h0m1 -.1h0m.3 -.3h0m-39.1 1.6h0m4.3 -.4h0m10.4 -.5h0m7 1h0m4.7 -.2h0m2.4 -.7h0m.3 .5h0m7.5 -.2h0m1.2 0h0m9.3 .6h0m4.4 -.8h0m4.1 .2h0m2.2 .1h0m7.4 .4h0m5.6 -.9h0m-76 1.2h0m8.8 .2h0m14.1 .1h0m6.5 .3h0m2.7 -.3h0m4.2 .5h0m3.9 -.5h0m.7 .2h0m1.6 .3h0m4.6 -.4h0m7 -.6h0m4.8 .5h0m5.7 -.1h0m17.5 -.2h0m-97.4 1.8h0m18.4 -.3h0m1.6 -.2h0m5.5 -.1h0m2.1 -.1h0m4.5 .4h0m18.6 -.6h0m2.7 .2h0m.5 -.2h0m.2 .3h0m3 0h0m-41.7 1.1h0m8 .2h0m13.3 -.1h0m.8 -.5h0m11 .7h0m4.7 -.6h0m6.3 .5h0m1.3 .1h0m5.9 -.6h0m1.2 .3h0m4.1 -.1h0m.9 -.1h0m0 -.2h0m6.4 .9h0m-71.5 .1h0m15.2 .6h0m18 .1h0m9.5 -.7h0m5.2 .8h0m1.6 -.2h0m1.1 -.5h0m3.2 .1h0m16.5 .4h0m3.1 -.5h0m.5 .7h0m3.3 -.7h0m3.2 -.1h0m-87.8 1.7h0m9.3 0h0m10.4 -.6h0m9.9 -.1h0m1.3 0h0m.6 .3h0m2.1 .5h0m23.9 -.7h0m6.3 -.1h0m3.8 .5h0m15.7 0h0m10.3 -.3h0m-90.4 1.5h0m1.4 -.6h0m13.9 .2h0m2.2 .2h0m11.6 .1h0m9.1 -.3h0m8.8 .5h0m.2 .1h0m4.2 -.4h0m2.6 .3h0m5.8 -.4h0m2.6 -.2h0m7.9 .3h0m3 -.3h0m.5 0h0m10.7 .7h0m2.4 -.8h0m7.9 .6h0m3.1 -.2h0m-114.8 1.2h0m15.1 -.3h0m17.9 0h0m4.6 .1h0m2.7 .3h0m4.8 -.7h0m15.9 .1h0m5.8 .3h0m3.9 -.3h0m2.2 -.1h0m8.8 -.1h0m8.3 .5h0m-86.3 1.1h0m22.3 .1h0m.1 .2h0m4.4 -.5h0m2.2 -.2h0m.1 .6h0m11.2 -.6h0m13.5 .6h0m7.2 -.1h0m4.3 -.2h0m.6 .3h0m2.6 -.9h0m1.6 .4h0m1.5 -.3h0m3.6 0h0m7.7 .4h0m2.6 .4h0m2 -.1h0m7.7 0h0m.6 -.8h0m3.3 0h0m1.3 .4h0m11.3 .1h0m-64.8 1h0m8.1 .1h0m1.8 -.2h0m1 0h0m2.1 -.4h0m16.2 .1h0m0 .3h0m1.4 -.1h0m4.3 .5h0m3.6 -.4h0m4.6 .5h0m0 -.5h0m.9 .3h0m1.9 .2h0m.1 -.2h0m1.9 -.2h0m.9 -.1h0m-87.3 .8h0m11.4 .7h0m12.1 0h0m14.4 -.3h0m9.6 -.5h0m2.8 .8h0m4.9 -.9h0m4.6 .5h0m8.9 .2h0m4.5 .1h0m2 -.1h0m.5 -.2h0m8.1 -.2h0m9.1 .5h0m-76.8 .5h0m7.2 .2h0m6.6 .5h0m3.7 -.8h0m4.6 .3h0m2.2 .5h0m2.3 -1h0m2.4 .1h0m4.6 .6h0m6.2 -.6h0m7.3 .3h0m4.5 .2h0m4.8 -.2h0m2.7 .2h0m6.3 -.1h0m.3 .1h0m-63.7 1.1h0m16.1 -.6h0m3 .4h0m3.7 -.2h0m10.7 -.1h0m2.4 .1h0m6.4 -.2h0m9.9 .1h0m.4 .2h0m4.4 -.1h0m5.1 .4h0m4.6 0h0m1.5 -.7h0m3.6 .7h0m2.4 -.3h0m-111.5 1.4h0m28.1 0h0m6.2 -.1h0m.9 -.2h0m9.7 .3h0m7.6 -.7h0m3.8 0h0m.2 .1h0m9.6 .8h0m3.3 -.8h0m1.9 .6h0m11.6 -.4h0m1.4 .2h0m15.3 -.2h0m-91.2 1.6h0m2.6 -.4h0m25.1 -.6h0m.6 .5h0m5 -.4h0m6.5 .3h0m1.3 .2h0m8.7 .4h0m1.6 -.4h0m3.9 -.6h0m2 1h0m12.5 -.6h0m1.4 -.3h0m.9 .2h0m.6 -.3h0m1.3 .3h0m2.6 .5h0m5.4 -.1h0m.3 -.1h0m-70 1.4h0m37.4 -.8h0m11.9 .2h0m1.7 .4h0m.6 -.2h0m3.3 .2h0m.1 -.6h0m.7 .5h0m5 -.3h0m6.3 .1h0m.5 .4h0m3.7 -.5h0m2.5 .2h0m11.8 -.3h0m-96.5 .8h0m5.3 .4h0m18.8 -.4h0m22.8 .5h0m13.3 .3h0m5.4 .1h0m1.6 -.1h0m9.3 0h0m11.7 -.3h0m8.7 -.5h0m-94.1 1.2h0m23.6 .3h0m7.4 -.1h0m1.3 .1h0m7 -.1h0m3.4 .2h0m3.1 -.2h0m7.3 .1h0m2.3 -.3h0m8.4 -.1h0m3.7 .3h0m3.7 .1h0m7.8 .1h0m3.3 -.4h0m3.8 .5h0m1.1 .1h0m1.2 -.7h0m.6 .1h0m3 .6h0m8.9 -.4h0m.9 .1h0m-109.3 .7h0m17.8 .1h0m5.8 .4h0m7.3 -.6h0m5.3 -.2h0m1.7 .3h0m4 -.2h0m9.1 .2h0m3.3 .7h0m.5 -.9h0m1.2 .5h0m1.3 -.2h0m1.8 .6h0m7 -.8h0m5 .5h0m3.8 -.2h0m4.4 .4h0m5.1 -.5h0m4.9 .6h0m2.2 -.3h0m7.7 -.4h0m1.6 .2h0m4.5 .3h0m8.6 -.7h0m-110.8 1.2h0m27.4 .6h0m.4 -.6h0m.5 .4h0m12 0h0m2.4 -.4h0m9.3 0h0m1 .1h0m6.5 .3h0m5.2 .1h0m10.9 -.7h0m.4 .4h0m8.7 .3h0m3.6 -.5h0m1.3 -.2h0m2.4 .6h0m3.1 -.5h0m-94.5 .9h0m8.9 -.1h0m8.4 .3h0m11.7 -.2h0m1.3 0h0m19.9 .6h0m4.9 -.4h0m5 -.3h0m.5 .6h0m12.9 -.3h0m9.2 .5h0m4.3 -.7h0m2.8 .5h0m.7 .2h0m.9 .2h0m.8 -.3h0m-74.7 .9h0m3.6 -.6h0m8.7 .4h0m2.7 -.4h0m2 .8h0m10.6 .2h0m8 -.8h0m2.3 .4h0m.5 -.1h0m.3 -.1h0m10.4 -.4h0m1.2 .9h0m1.3 -.3h0m14.2 .3h0m3.5 0h0m6.3 -.6h0m.5 0h0m.2 .4h0m2.2 -.5h0m.8 0h0m2.1 -.1h0m.4 .1h0m1.6 .4h0m-85.6 1.3h0m2.2 -.4h0m11.4 .2h0m.9 -.7h0m29.6 .3h0m3.1 0h0m1.1 .5h0m9.3 -.6h0m13.4 .7h0m6 -.1h0m1.1 -.3h0m1.9 .2h0m5.4 -.6h0m12.1 .2h0m1.3 .6h0m-96.6 .7h0m10.4 -.5h0m.3 0h0m2.4 -.1h0m1.6 .6h0m8.4 0h0m3.3 -.4h0m3.7 -.2h0m6 .1h0m1.2 0h0m2.9 0h0m.4 .5h0m.1 .3h0m3.8 -.3h0m4.9 .1h0m3 0h0m13.9 -.6h0m15.5 .2h0m2.2 -.1h0m2.4 .2h0m.1 .4h0m-74.1 .6h0m10.9 .6h0m5.7 -.3h0m.5 -.7h0m1.1 .8h0m4 .1h0m4 -.8h0m.6 .7h0m2 0h0m1.3 -.7h0m3 .9h0m2 -.6h0m1.7 -.3h0m.1 .3h0m29.4 .1h0m5.3 .4h0m1.3 -.7h0m9 .5h0m-90.7 1.1h0m9.3 .1h0m.7 -.7h0m8.5 -.1h0m2.5 -.1h0m4.4 .2h0m22.2 .3h0m16.4 0h0m3.4 .4h0m.3 -.2h0m.2 -.2h0m1.7 .1h0m1.5 -.2h0m4.4 .4h0m.3 -.5h0m2.2 .5h0m-105.5 1h0m12.5 -.4h0m9.7 .2h0m14.6 .3h0m5.5 -.1h0m3.7 -.5h0m2.6 .5h0m.1 -.7h0m3.2 .1h0m3.3 .5h0m2.8 -.5h0m1.3 -.1h0m3.3 .4h0m6.1 .1h0m2.7 -.5h0m1.2 .8h0m29.7 0h0m4.9 -.5h0m1.8 -.3h0m2.5 .5h0m-100.1 1.1h0m33.5 .2h0m.7 -.1h0m5 .1h0m6.6 -.4h0m4.1 -.2h0m1.1 .3h0m.4 -.2h0m5.5 .6h0m1.3 -.8h0m1.8 .3h0m26 .2h0m11 -.6h0m1.1 .8h0m4.2 0h0m-106.8 .4h0m9.9 .2h0m1.2 .3h0m1 -.2h0m13.8 -.2h0m9.9 .1h0m2.7 0h0m3.7 -.3h0m6.8 .5h0m.3 -.4h0m8.7 -.1h0m.4 .5h0m28.3 -.6h0m2.5 .5h0m7.9 .1h0m.2 .2h0m1.3 -.4h0m.2 .3h0m6.4 0h0m8.3 -.7h0m-103 1.1h0m15.3 .6h0m9.7 .1h0m2.1 0h0m3.3 -.5h0m.2 0h0m6.5 -.2h0m2.5 .1h0m6.4 .4h0m1.8 -.4h0m5.1 .3h0m.1 -.6h0m24.5 1h0m9.6 -.8h0m13.4 0h0m-106.6 1.3h0m13.4 .3h0m11.8 -.3h0m9.6 -.5h0m6.4 .6h0m3.7 .4h0m2.8 -.7h0m10.1 0h0m26.6 .1h0m4.2 .2h0m.6 -.1h0m.8 -.4h0m7.1 .3h0m5.2 .2h0m.9 0h0m-110.3 1.1h0m16.2 -.3h0m16.9 -.3h0m8.9 .3h0m2.3 .6h0m2.2 -.5h0m1.6 -.4h0m4.5 0h0m6.4 .4h0m3.7 -.4h0m.9 .5h0m27.6 -.3h0m6.6 -.2h0m4.5 .6h0m2.2 .2h0m2 -.4h0m-107 .6h0m.9 .3h0m1.1 -.1h0m31.9 -.2h0m.1 .6h0m1.5 -.1h0m1.4 .3h0m7.3 -.7h0m10.1 .7h0m.3 -.5h0m38.1 .2h0m4.3 -.6h0m14.1 .4h0m-100.3 .8h0m27.9 .7h0m2.1 -.8h0m10.1 .2h0m3.5 -.3h0m45.2 .7h0m-101.5 .8h0m.3 -.4h0m4.2 .3h0m12.5 -.1h0m1.3 .1h0m7.6 0h0m16.2 0h0m2.9 .4h0m5.6 -.6h0m3.3 .7h0m1.8 -.2h0m1.4 .1h0m8.5 -.5h0m28.8 .2h0m1.6 -.3h0m.8 .5h0m7.7 -.6h0m-92.7 1.4h0m36.6 -.3h0m2 .7h0m2.5 -.5h0m1.4 -.2h0m3.6 .3h0m2.1 .4h0m.9 -.4h0m.4 -.2h0m3.3 .1h0m0 -.1h0m35.1 .2h0m2 .4h0m.4 0h0m5.4 -.3h0m.4 -.3h0m2.8 .6h0m-99.9 .5h0m7.5 -.2h0m12.4 .2h0m.7 -.4h0m4.4 .4h0m.1 -.2h0m4.5 .2h0m2.4 -.1h0m3.9 .5h0m3.1 0h0m5 -.3h0m40.7 .5h0m2.8 -.3h0m10.4 .1h0m6.7 -.6h0m-120.4 1.5h0m17.5 .2h0m5.1 -.8h0m35.2 .1h0m44.7 -.2h0m2.7 .9h0m1.7 -.7h0m7.8 .2h0m1.5 -.4h0m-112.3 1.2h0m49.1 .7h0m4.3 -.5h0m5.8 -.4h0m5.3 .8h0m36.3 -.2h0m8.4 .3h0m-78.7 .8h0m4.8 -.2h0m13.5 -.3h0m5.3 .6h0m5.5 -.5h0m3.3 .4h0m37.4 -.6h0m5.4 .4h0m-97.1 1.3h0m6.4 -.2h0m.9 0h0m3.3 .3h0m.4 -.4h0m8.7 -.1h0m.5 .6h0m4.2 -.2h0m1.1 -.4h0m8.6 .4h0m7.8 -.5h0m1.4 .6h0m1.2 0h0m.3 -.1h0m10.4 -.5h0m33.2 .5h0m1.8 -.7h0m2.9 .2h0m4.1 .1h0m9.5 -.3h0m-111 1h0m6.7 .4h0m15.4 .5h0m33.7 -.4h0m45.8 -.3h0m8.1 .2h0m-86.8 1.2h0m4.3 -.6h0m4.7 .3h0m9.8 -.4h0m.7 .5h0m3.9 -.3h0m3.7 -.1h0m1.6 0h0m1 -.1h0m1.4 .1h0m-51.3 1h0m5 .6h0m12.8 -.6h0m5.9 0h0m21.8 .7h0m7.8 -.1h0m39 0h0m6.1 -.2h0m-81 1.1h0m12.6 -.4h0m2.2 .1h0m8.3 -.3h0m1.6 0h0m3.5 .4h0m5 .1h0m2.2 0h0m49.5 -.2h0m-91.4 1.1h0m4.6 .3h0m8.3 .2h0m3.5 -.4h0m6 -.4h0m0 .8h0m67.8 -.2h0m2.5 0h0m2.5 .2h0m7.5 0h0m-121 .9h0m.1 -.7h0m39.8 .2h0m.2 -.1h0m4.7 .4h0m2.6 -.5h0m2.1 .7h0m4.4 0h0m6.1 -.7h0m.8 .4h0m40.3 -.3h0m.7 .3h0m2.9 -.3h0m-94.3 1.7h0m1.7 0h0m1.8 -.7h0m5.4 .3h0m9.7 -.3h0m1.7 .7h0m4.5 -.5h0m1.5 .4h0m.4 -.4h0m1.5 .1h0m5.1 -.2h0m7.6 .4h0m50.9 -.6h0m12.5 .4h0m.1 0h0m-111.4 .6h0m1.8 .3h0m28.1 .1h0m4.3 0h0m5.2 .4h0m5.8 -.3h0m12.7 -.2h0m36.7 -.2h0m5.6 .4h0m8.8 .4h0m-93.8 .2h0m3.3 .4h0m12.8 .3h0m12.9 -.8h0m1.8 .1h0m.5 .6h0m47.7 -.7h0m6.5 .4h0m3.4 .1h0m.7 -.4h0m1.7 0h0m2.1 -.2h0m-107.5 1.4h0m.5 .4h0m2.5 .2h0m9.9 -.7h0m1 -.1h0m6.3 .1h0m2.8 .1h0m.3 -.3h0m3.5 .8h0m2.6 -.8h0m3.7 .1h0m5.2 .5h0m3.9 -.1h0m7.4 -.6h0m-18.7 1.3h0m2.6 .7h0m2.1 -.2h0m4.7 -.4h0m-46.9 1h0m24.4 -.4h0m7.5 .9h0m7.5 -.1h0m1.2 -.6h0m3.7 .6h0m3.8 -.2h0m52.5 -.3h0m1.1 .3h0m10.2 .4h0m-94.1 .1h0m6.9 .3h0m4.7 -.1h0m3 .2h0m4.9 -.4h0m8.6 .5h0m1.4 .2h0m11.3 .1h0m42.9 -.6h0m3.5 -.2h0m.8 .6h0m5.1 -.6h0m-111.2 1.7h0m12.4 -.4h0m2 .1h0m17.8 0h0m.3 .2h0m9.2 -.6h0m2.5 .8h0m6.6 -.6h0m50 .4h0m-95.6 1.2h0m4.2 -.5h0m10.8 .3h0m.8 -.4h0m1.6 .1h0m6.7 .2h0m.4 .1h0m3.1 -.2h0m8.8 -.5h0m6.8 .1h0m.2 .6h0m54.3 0h0m5.2 -.1h0m3.4 -.2h0m3.8 .2h0m-107.8 .9h0m4.8 .3h0m22.1 -.8h0m2 .4h0m.8 .5h0m4.9 -.8h0m6.3 .1h0m.8 .1h0m8.8 .3h0m43.1 .2h0m.1 0h0m2.7 0h0m.6 -.4h0m.5 .1h0m6.6 0h0m-94.5 .5h0m3.4 .9h0m3.8 -.2h0m8.7 .3h0m1.2 -.7h0m1.2 .6h0m3.9 -.6h0m7.3 -.3h0m.6 .4h0m3.4 -.4h0m2.6 .1h0m1 .7h0m2.7 -.7h0m.8 0h0m.4 .4h0m42.8 .2h0m3.9 -.7h0m8.5 .6h0m-110.4 .4h0m27.6 .4h0m5.8 -.3h0m4.7 .8h0m.8 -.7h0m6.7 .3h0m7.3 -.3h0m52.2 -.1h0m5.7 .9h0m-111.7 .7h0m12.2 0h0m11.6 .2h0m1.7 -.8h0m8.5 .3h0m1 .3h0m4.1 -.3h0m1.9 -.3h0m10.1 0h0m2.5 .7h0m1.3 -.3h0m52.1 .4h0m2.4 0h0m.5 -.1h0m1.7 -.6h0m-87.4 1.7h0m9.1 -.6h0m0 .1h0m2.6 -.2h0m.3 -.1h0m4.4 .4h0m2.3 -.5h0m7.2 .7h0m3.8 -.1h0m63.7 .1h0m-117.9 .4h0m6 .6h0m1.5 .2h0m42.6 -.7h0m1.4 .7h0m49.6 -.5h0m1.7 0h0m3 .3h0m2 -.7h0m1.8 .6h0m.5 -.2h0m-94.9 1h0m6.8 .2h0m5.7 -.4h0m5.9 .3h0m1.5 -.1h0m5.4 .6h0m2.8 -.8h0m.3 .7h0m1.8 -.5h0m3.3 -.3h0m2.5 .6h0m.2 -.5h0m3.5 .5h0m55.8 -.4h0m9 .4h0m-88.7 .5h0m13.3 .6h0m4.8 -.7h0m2.1 0h0m48.2 .1h0m.4 0h0m4.3 .5h0m11.2 -.2h0m-111.7 .9h0m.3 0h0m5.3 .6h0m1.7 -.5h0m18.1 .4h0m3.6 -.8h0m9 .3h0m2.4 -.1h0m8.1 .3h0m1.4 .2h0m51.2 -.3h0m2.1 .5h0m-108 .5h0m20.8 .1h0m9.5 .1h0m3.6 -.7h0m2 .8h0m2.5 -.4h0m1 .4h0m1.4 -.3h0m60.5 -.4h0m11.7 .7h0m3.4 -.4h0m-116.2 1.4h0m18.5 -.5h0m2.8 .3h0m6.5 .1h0m1.1 -.1h0m1.5 -.3h0m4.4 .2h0m4 -.2h0m3.8 0h0m6 .2h0m6.3 -.4h0m50.1 .5h0m.5 .3h0m5.6 -.6h0m3.8 .2h0m-113.2 1h0m14.5 -.3h0m9.1 .4h0m5.1 .2h0m.5 -.1h0m13 .2h0m.2 -.6h0m56.1 .4h0m-101.1 .9h0m.6 -.2h0m1.2 .6h0m16.9 -.8h0m7.7 .3h0m5.3 -.3h0m10 0h0m10.2 .7h0m55 -.2h0m13.5 .1h0m-106.8 .6h0m29.1 0h0m5.7 0h0m3.6 .5h0m1.5 -.4h0m50.6 -.4h0m.4 .4h0m6.8 -.3h0m4.3 .4h0m.7 -.3h0m-116.4 .7h0m2.8 .2h0m2.1 .3h0m1.5 .1h0m7.5 .3h0m11 -.4h0m1.8 .1h0m5 -.5h0m8.5 .1h0m1.4 .8h0m11 -.7h0m51 -.1h0m.1 -.1h0m6.9 .9h0m1.3 -.7h0m-108.4 1.5h0m3.6 .1h0m18.7 0h0m7 -.4h0m2.1 .1h0m.1 -.5h0m8 .2h0m.4 .6h0m60.7 -.7h0m2.5 .8h0m6.1 -.9h0m3.6 .7h0m-104.6 .8h0m9.6 .2h0m.1 -.7h0m1 0h0m.3 .6h0m.3 -.3h0m8.4 -.1h0m3.3 .2h0m3.5 .3h0m7.4 -.5h0m1.4 0h0m5 .3h0m52.3 -.5h0m.6 .3h0m7.5 -.2h0m-76.8 1h0m.7 .4h0m.1 -.3h0m.9 .4h0m14 -.5h0m49.8 .7h0m8.6 -.4h0m-81.5 1.1h0m12.5 0h0m6.2 -.3h0m2.3 .4h0m64.7 .3h0m-82.4 .3h0m1.1 .5h0m2.6 -.4h0m66.2 .4h0m8.7 0h0m7.7 0h0m-110.2 1.2h0m17.1 0h0m6.2 -.6h0m14.2 .1h0m56.1 0h0m.3 -.4h0m4.1 .3h0m-105 1h0m1.1 -.4h0m7 .2h0m2.4 -.1h0m5.5 .5h0m2.3 -.3h0m2.8 .3h0m3.2 .2h0m9.6 -.3h0m4.6 .3h0m1.4 -.7h0m2.1 0h0m1.4 .1h0m.8 .5h0m5.7 -.4h0m53.3 .2h0m2 .4h0m12.3 -.7h0m-113 .9h0m9 .8h0m7.8 -.7h0m4 .4h0m10.4 -.3h0m11.5 -.2h0m4 .7h0m50.2 -.1h0m1.6 -.3h0m-74.4 1.1h0m14.7 -.2h0m5.3 0h0m.2 .2h0m52.4 -.4h0m10.9 .5h0m3.1 -.6h0m-113.7 1.2h0m15.5 -.1h0m.5 .4h0m5.5 .2h0m1 -.5h0m2.5 .7h0m4.6 -.4h0m6.7 0h0m.2 0h0m67.8 .1h0m.8 -.4h0m8.5 .5h0m.8 .3h0m-110.6 .5h0m.3 0h0m4.4 -.1h0m11.5 .3h0m16.4 -.1h0m2.1 .2h0m3.8 -.8h0m4.9 .3h0m55.1 .4h0m-88.5 1.2h0m8.4 -.2h0m7.1 0h0m1.1 -.7h0m11 .4h0m4.4 0h0m61.9 .5h0m-91.3 .8h0m5.4 -.4h0m10.5 -.3h0m3.8 .7h0m5.7 0h0m5 0h0m52.2 -.1h0m11.2 -.5h0m-110.9 1.6h0m2.2 .2h0m32.2 -.7h0m.3 .3h0m8.3 -.1h0m2.3 .3h0m1 -.4h0m54.8 .4h0m3.3 -.5h0m-104.5 .9h0m3.7 .8h0m7.2 0h0m10.9 -.5h0m7.5 .4h0m2 -.8h0m9.3 .9h0m1 -.3h0m1 -.3h0m.1 .1h0m.6 -.2h0m.9 .4h0m62.6 .2h0m5.2 -.1h0m1.5 .2h0m7.7 -.5h0m-99.5 1.3h0m5.5 -.4h0m6.6 -.1h0m77.4 .5h0m-106.4 1.2h0m2.9 0h0m.8 -.8h0m10.3 .3h0m1.3 -.1h0m9.7 .1h0m5.7 .2h0m3.3 -.1h0m1.3 .1h0m70.1 .2h0m.5 -.7h0m.7 .6h0m1.6 .1h0m-113.6 .5h0m13.8 .6h0m3 -.8h0m23.3 .3h0m.2 .5h0m2.8 -.3h0m65.6 0h0m.6 0h0m6.7 .4h0m3 -.3h0m-120.3 1.2h0m10.2 -.2h0m1 -.5h0m2.4 .4h0m4 -.4h0m8.9 0h0m5.7 .6h0m71.7 -.3h0m12.2 .1h0m-97.4 .4h0m5.4 .3h0m.7 0h0m10.5 .2h0m8 .3h0m60.4 -.1h0m.1 -.1h0m.6 -.2h0m12.8 -.3h0m-114 1.6h0m5.2 0h0m.6 -.5h0m2.8 .8h0m19.8 -.2h0m7.6 -.6h0m3.7 0h0m2.3 .4h0m58.4 -.6h0m5.4 .1h0m10.6 .2h0m-117.6 1.7h0m6.9 -.9h0m2.3 .5h0m1.2 -.2h0m17.6 -.2h0m4.3 .4h0m2.4 .2h0m3.2 -.4h0m4.8 -.4h0m63.5 .4h0m4.5 .3h0m6.5 -.4h0m-111.3 1.4h0m22.6 .1h0m.6 .2h0m8.2 -.6h0m2.2 .5h0m66.8 -.9h0m-94.8 1.2h0m9.4 .2h0m11 -.1h0m4.2 -.2h0m1.8 .1h0m2.2 .6h0m-36.5 .9h0m7.2 -.4h0m7.5 0h0m12.9 .3h0m8.1 -.4h0m.3 -.1h0m1.5 0h0m64 .5h0m6 .1h0m-113.4 .8h0m15.6 -.3h0m6.6 0h0m2.7 .3h0m1.2 .2h0m1.2 .1h0m3.4 -.1h0m4 .1h0m3.8 -.2h0m66.6 .1h0m3.7 -.3h0m-76.1 1.3h0m69.9 -.4h0m8.1 -.1h0m-85.8 1.5h0m.5 -.4h0m.2 0h0m10.6 .6h0m2.8 0h0m63.8 -.4h0m17.1 -.4h0m-114.7 1.5h0m11.1 0h0m2.4 -.2h0m3.2 -.3h0m6.7 .4h0m2.1 .1h0m5.2 -.5h0m.9 .8h0m1.9 -.4h0m.4 .4h0m2.6 -.5h0m69.7 .5h0m-110.7 .2h0m.4 .8h0m14.4 -.8h0m4.5 .7h0m3.1 -.7h0m10 .9h0m8.1 -.3h0m62.5 .3h0m5.8 -.3h0m-102.4 1.2h0m9 -.3h0m.6 .3h0m20.1 -.2h0m2.8 .2h0m.7 0h0m.9 -.8h0m61.7 0h0m2.1 .7h0m3.1 -.4h0m4.5 0h0m3.7 .5h0m5.2 -.6h0m.7 -.1h0m-105.5 1h0m2.2 .2h0m2.1 -.3h0m4.2 .2h0m4.1 -.2h0m8.3 .2h0m.3 .4h0m1.3 -.3h0m.7 .6h0m65.7 -.8h0m1.3 0h0m9.5 .8h0m-116.1 .7h0m9.4 .1h0m5.1 .2h0m5.9 -.2h0m3.1 -.4h0m17.2 .3h0m.1 -.3h0m65.5 -.2h0m14.4 .7h0m-114.5 .4h0m.1 .3h0m22 -.1h0m4.3 -.3h0m.6 .2h0m.3 0h0m6.9 0h0m65.4 .5h0m1.6 -.3h0m3.6 -.1h0m-87.6 1.4h0m1.2 -.3h0m1.9 -.1h0m1.2 .4h0m8.6 -.1h0m69.8 .1h0m5 .1h0m-99.5 .6h0m15.4 -.3h0m76.3 0h0m2.3 .1h0m2.3 -.1h0m1.1 0h0m5.8 .5h0m-91.1 1h0m.4 -.6h0m1.6 .6h0m6 -.1h0m3.8 .3h0m2.2 -.2h0m3.5 -.2h0m65.5 .1h0m17 -.3h0m-124 1.5h0m16 0h0m7 -.8h0m4.8 .3h0m76.3 -.2h0m2.6 .6h0m1.8 -.5h0m8.3 .3h0m2.8 0h0m-110.4 1.1h0m7.9 .3h0m5.1 -.4h0m5.1 -.4h0m7.7 -.1h0m.1 0h0m3.2 0h0m.8 .8h0m1.6 -.4h0m63.1 -.4h0m.2 .5h0m.3 -.1h0m6.8 -.4h0m3.6 .8h0m-112.6 .5h0m6.7 -.1h0m16.7 -.1h0m5.5 -.1h0m5.5 .6h0m.3 0h0m1.9 -.6h0m1.4 .1h0m62.1 .8h0m.5 -.5h0m2.5 .3h0m11.8 -.4h0m7.7 .5h0m-123.6 .7h0m5.9 -.2h0m7.8 .4h0m7.8 -.7h0m.1 .2h0m5.6 -.3h0m3.9 .2h0m3.9 .2h0m68.9 0h0m.3 -.4h0m5.6 .6h0m3.5 -.1h0m-96.7 .8h0m5.2 0h0m3.1 .2h0m14.2 .3h0m64.1 -.4h0m1.1 .4h0m2.5 -.3h0m1 -.2h0m2.4 .2h0m3 .3h0m.9 -.8h0m1.7 1h0m-105.2 .9h0m3.2 -.2h0m11.4 -.4h0m7.8 -.2h0m68.5 .7h0m1.2 0h0m-100.2 .5h0m7.9 -.1h0m10 .3h0m1.3 .3h0m3.3 -.6h0m5.6 .1h0m.2 .7h0m1 -.5h0m1.7 .5h0m2.5 -.4h0m66.5 -.3h0m2.5 .4h0m8.8 -.1h0m-105.9 .7h0m1.1 .4h0m2 0h0m6.7 -.7h0m6.7 .4h0m7.3 .1h0m1.1 .2h0m5.4 -.6h0m.2 .9h0m63.4 -.8h0m3.5 .4h0m-104.7 1.4h0m5.7 -.9h0m7.7 .8h0m9.6 0h0m.4 -.9h0m6.1 .3h0m8.2 -.2h0m1 .2h0m66.6 -.3h0m8.9 .5h0m2.9 -.3h0m-103.5 1.3h0m.4 .2h0m3.8 -.7h0m2.5 .2h0m6.5 .4h0m1.2 0h0m78.5 -.4h0m-97.3 1.7h0m16.4 -.2h0m6.2 -.1h0m1.6 .3h0m5 -.9h0m0 .1h0m63.2 .8h0m3.4 -.1h0m3.5 -.8h0m-108.7 1.4h0m1 .3h0m16.8 .2h0m6.3 -.4h0m1.1 .3h0m13.1 .1h0m62.4 -.3h0m1.3 -.2h0m2.6 .3h0m5.3 -.1h0m-94.7 .7h0m5.5 .5h0m.4 0h0m7.8 -.6h0m1.2 .7h0m73.6 -.9h0m1.2 .3h0m16.7 .3h0m-113.9 1.1h0m5.6 -.7h0m17.6 .1h0m2.6 .2h0m2.9 -.2h0m64.7 .5h0m5.7 0h0m6.1 -.1h0m1.5 -.1h0m-102.5 1.6h0m11.5 -.4h0m6.1 .2h0m1.6 -.2h0m74.9 .1h0m9.7 -.3h0m-108 1.1h0m4.2 .2h0m2.8 .2h0m4.2 .1h0m6 -.5h0m3.8 .1h0m.1 .3h0m3.2 -.3h0m81.8 -.1h0m-105.6 1.2h0m11.4 -.4h0m6.2 .2h0m1.7 0h0m85.8 -.1h0m-109.2 1.6h0m14.7 -.5h0m88.6 -.2h0m-96.3 .9h0m15.6 .3h0m5 .4h0m1 -.4h0m75.9 .1h0m-101.3 .6h0m8.7 .5h0m7.7 -.2h0m6 0h0m5.6 .3h0m67.5 -.7h0m.5 .6h0m5 .2h0m-104.4 .6h0m.4 .1h0m4.3 -.4h0m10.1 .2h0m6.9 0h0m3.3 .6h0m.4 -.9h0m5.6 -.1h0m1.1 .3h0m1.6 .4h0m68 -.4h0m3.4 .5h0m4.6 -.2h0m-111.9 .9h0m4.5 -.4h0m4.2 0h0m3.5 .5h0m3.4 .2h0m6.3 .1h0m4.7 -.5h0m6.9 .1h0m77.1 -.4h0m2 .3h0m.4 -.2h0m3.5 .6h0m2 0h0m-99.6 .3h0m3.5 .7h0m7.7 .1h0m2.7 -.3h0m71.6 0h0m4.3 .1h0m.6 -.5h0m-91.1 1h0m7.6 -.2h0m1.4 .8h0m2.2 0h0m3.2 0h0m68.7 .1h0m.8 -.8h0m4 .1h0m-103.7 .9h0m10.7 .3h0m6.3 .6h0m8.6 -.7h0m6 .5h0m.3 -.3h0m65.4 .4h0m4.1 -.9h0m-97.6 1.2h0m.5 .7h0m10.9 0h0m2.1 -.4h0m1.9 .1h0m12.9 -.5h0m1.1 .3h0m65 -.1h0m1.3 -.2h0m10.2 .4h0m-111.8 1.2h0m18.2 -.5h0m1.6 .6h0m11.7 -.7h0m66.1 .3h0m.5 -.1h0m1.7 .4h0m-94.9 .7h0m5.9 .1h0m.3 .2h0m13.5 .1h0m2.2 -.1h0m5.7 .2h0m0 .1h0m1 -.7h0m2.2 .6h0m.1 -.5h0m62.6 -.1h0m.4 .5h0m.1 -.3h0m12.6 .1h0m5.2 -.5h0m.1 .6h0m-106.4 .3h0m14.2 .7h0m2.3 -.5h0m74.2 0h0m5.2 .5h0m.5 -.2h0m1.6 .3h0m-109 .3h0m11.3 .2h0m10 -.1h0m3.9 -.1h0m4.7 .4h0m6 .2h0m68.7 .2h0m1.2 -.2h0m1.5 -.6h0m-94.2 1.6h0m14.7 .2h0m2 -.4h0m.1 0h0m75.2 -.3h0m5.8 .3h0m7.7 -.2h0m2.1 0h0m-112.7 .7h0m3.5 .6h0m3.2 .3h0m9.6 -.5h0m3.6 .2h0m75.9 .1h0m.1 -.5h0m1.4 .3h0m5 -.3h0m.2 .7h0m-96 .6h0m4 .1h0m7.2 0h0m3.6 -.5h0m1.1 .6h0m4.4 -.3h0m69.3 -.1h0m-98.6 1.7h0m2.7 -.1h0m2.5 -.9h0m1.3 .8h0m7.6 .1h0m4 .1h0m.3 -.7h0m.8 -.1h0m75.5 .5h0m6.1 -.6h0m4.5 .3h0m-90.8 1.4h0m.9 .1h0m13.9 -.1h0m.7 0h0m75.7 -.6h0m1 -.2h0m-108.6 1.2h0m6.9 .2h0m12.9 -.2h0m7.1 .4h0m3.5 -.2h0m1.6 .4h0m67.9 -.1h0m1.2 -.2h0m6 -.1h0m-111 .8h0m10.1 0h0m3.3 .4h0m11 .3h0m2.8 -.5h0m.2 .5h0m4.2 -.3h0m.3 -.4h0m3.5 .2h0m-29.9 .7h0m104.6 .2h0m1.1 .2h0m1.3 -.1h0m2.7 -.2h0m-111.3 1.1h0m6.6 .3h0m7.9 -.1h0m1.9 -.4h0m8.2 .2h0m2.8 .4h0m1.8 .3h0m-27.3 .3h0m9.7 -.1h0m5.9 .2h0m9.3 .3h0m82.2 -.2h0m-113 1.4h0m12.7 -.7h0m2.6 0h0m2.2 .1h0m2 .5h0m4.8 -.8h0m4.8 .3h0m5.5 .5h0m.4 .1h0m.4 0h0m69.3 -.5h0m4.6 .4h0m6.4 -.5h0m-90.5 1.5h0m1.9 -.2h0m77.9 0h0m7.4 .3h0m-110.1 .8h0m8.3 -.5h0m1.8 .5h0m1.8 0h0m2.1 -.6h0m4.1 .2h0m13.8 .3h0m.7 -.5h0m63 .7h0m4.5 -.3h0m6.8 0h0m7.1 -.5h0m-106.1 1.5h0m7.4 0h0m2.7 0h0m4.7 -.3h0m1 .2h0m1.3 -.1h0m2.9 .1h0m5.3 .1h0m2.5 0h0m.2 .3h0m62 -.6h0m1.5 .4h0m4.3 -.2h0m-96.2 1.4h0m1.3 -.6h0m.6 .3h0m2.7 .5h0m.1 -.4h0m5.3 .1h0m8.6 -.2h0m6.8 -.5h0m64.2 .2h0m2.9 .7h0m16.5 -.2h0m1.2 -.2h0m-110.9 1.5h0m15.6 -.4h0m9.1 -.1h0m4 -.3h0m.7 .3h0m65.1 -.1h0m6.4 .4h0m.3 -.6h0m1.9 0h0m2.8 .8h0m-106.9 .2h0m5.6 .7h0m1.2 -.9h0m.4 .2h0m2.4 .6h0m1.2 -.5h0m5.2 .7h0m7.6 -.8h0m2 -.2h0m1.8 .1h0m1.4 0h0m63.8 0h0m5.8 .2h0m5.4 .3h0m2.3 .1h0m6 -.2h0m-120.3 .6h0m.6 .3h0m2.9 -.1h0m8 0h0m3.6 .7h0m2 -.5h0m.4 0h0m3.1 .2h0m79.1 .1h0m3.3 -.3h0m2.9 .5h0m-88.8 .7h0m8.1 .2h0m3.6 -.1h0m3.7 -.6h0m6.6 -.1h0m65.7 .6h0m14.4 .2h0m-106.5 .8h0m6.1 -.3h0m1.6 .2h0m2.8 -.2h0m5.4 0h0m.5 .2h0m.2 0h0m.4 .3h0m1.1 -.4h0m3.7 .2h0m3.2 .3h0m59.9 -.4h0m7.1 -.2h0m.9 .5h0m-98.6 .1h0m15.4 .5h0m7.3 .2h0m1.2 .2h0m.4 -.9h0m2.6 .5h0m1 -.1h0m3.5 -.3h0m67.6 .5h0m-88 1.1h0m3.7 -.7h0m3.5 .8h0m10.5 0h0m4.9 -.3h0m58 -.4h0m1.1 .6h0m-97 .8h0m22.9 .4h0m.2 -.4h0m1.4 -.3h0m.7 .6h0m2.2 -.2h0m3.3 -.5h0m1.4 .3h0m3.7 .4h0m2.5 -.1h0m55.8 0h0m.2 -.1h0m11.5 -.1h0m2.6 .3h0m3.9 0h0m-114.8 .5h0m1.7 .3h0m5.3 -.6h0m9.7 .3h0m.7 -.2h0m8.8 -.1h0m4.3 1h0m.8 -1h0m1.3 .4h0m2.9 .2h0m.2 -.5h0m.6 .2h0m1.9 0h0m2.9 -.1h0m57.8 .5h0m.1 .1h0m4 0h0m11.5 -.3h0m-109 1.2h0m2.4 .3h0m12.3 -.2h0m14.7 -.6h0m2.9 .1h0m3.5 .3h0m60 -.2h0m2.2 0h0m.5 -.2h0m3.9 .3h0m7 .3h0m-101.2 .4h0m8.4 .8h0m.1 -.4h0m4 .1h0m7.6 0h0m1.5 .2h0m4.8 -.7h0m58.7 .5h0m19.6 0h0m-111.2 .7h0m0 -.4h0m.2 .9h0m4.7 -.6h0m3.2 -.2h0m13.9 .7h0m1.7 0h0m68.8 -.5h0m.4 .4h0m11.2 -.6h0m-103.2 1.2h0m.6 0h0m.7 -.2h0m7.7 .3h0m24.8 -.3h0m54.7 .7h0m10.1 -.3h0m4.6 -.2h0m-101.7 1.2h0m9.3 .5h0m2.1 -.7h0m9.1 .3h0m2.4 .2h0m6.2 -.2h0m1.1 -.2h0m3.5 0h0m54.2 0h0m14.1 .4h0m-97.4 1.1h0m12.1 -.2h0m5 -.4h0m6.4 .3h0m-18.9 1h0m7.8 -.4h0m.6 .4h0m2.6 .3h0m3.2 -.1h0m4.8 -.1h0m4.7 -.4h0m.8 .5h0m55.9 -.6h0m3.4 .2h0m3.1 -.3h0m8.3 .8h0m-100.7 .7h0m3 -.5h0m2.6 .5h0m.4 -.1h0m5.1 .3h0m1.8 -.6h0m2.3 .5h0m1.4 -.2h0m.8 -.4h0m.3 .3h0m2.4 .5h0m.6 .1h0m7.2 -.7h0m55.6 .7h0m-93.2 .8h0m8.5 -.6h0m10.1 .8h0m3.4 -1h0m.7 1h0m6.6 -.9h0m67.7 .8h0m19.2 -.8h0m-116.9 1.7h0m.4 -.3h0m4.6 0h0m2.8 -.1h0m5.5 -.4h0m.7 .8h0m4.4 -.7h0m.6 .8h0m21.5 -.8h0m51.7 .4h0m11.7 .1h0m5.4 -.1h0m-88.5 .9h0m16.5 -.4h0m3.2 .9h0m3.4 -.2h0m46.5 -.1h0m.4 .2h0m3.1 -.5h0m17.1 -.2h0m-111.5 1.2h0m7.2 -.1h0m3.6 .8h0m4.8 -.4h0m12.3 -.6h0m1.7 .7h0m5.4 -.1h0m2.8 -.3h0m.3 -.1h0m4 .7h0m1.2 -.7h0m.1 -.1h0m49.9 .3h0m.5 .3h0m4.7 -.7h0m4.2 .9h0m4.3 -.4h0m-111 .8h0m35.9 -.3h0m3.2 .2h0m.3 .1h0m.3 .1h0m3.9 .5h0m1.8 -.6h0m54 .4h0m7.5 -.5h0m5.7 .5h0m1.6 -.3h0m-84.8 .7h0m2.9 0h0m.5 .6h0m1.9 -.1h0m4.1 -.4h0m3.5 .2h0m9.4 .6h0m40 -1h0m5.3 .9h0m4.3 -.1h0m0 -.3h0m4.9 -.2h0m3.3 .1h0m3 .5h0m-96.1 .6h0m3.9 .3h0m6.3 0h0m.4 0h0m6.7 0h0m2.8 -.8h0m1 .2h0m13.1 0h0m39.9 .5h0m.4 -.4h0m1 -.3h0m23 .2h0m.2 .5h0m6.4 -.4h0m-121.3 1h0m4.7 0h0m17.3 .5h0m3.3 -.6h0m.7 .3h0m4.5 .4h0m.3 -.8h0m4.6 .5h0m5.4 -.3h0m.5 .6h0m9.7 -.8h0m38.5 .6h0m1.7 -.6h0m2.4 .7h0m.8 -.5h0m2.7 .7h0m.9 -.2h0m7.9 -.1h0m-104.1 .3h0m17.1 .6h0m1 -.2h0m.7 -.3h0m.5 .2h0m.2 .4h0m.9 -.3h0m2.2 -.2h0m.6 0h0m.4 .2h0m19.3 -.3h0m5.8 .2h0m48.5 .5h0m.6 -.8h0m1.5 .2h0m.1 0h0m.2 .1h0m5.3 .4h0m-104.1 1h0m13 -.2h0m13.4 .2h0m1.3 .1h0m5.3 -.8h0m2 .6h0m.5 -.2h0m.5 .3h0m8 .2h0m1.8 -.4h0m.4 .5h0m2.1 -.7h0m41.8 .2h0m1.6 -.4h0m1.6 .8h0m6.8 -.4h0m2.4 .2h0m1.8 -.3h0m1.1 .2h0m2.8 .3h0m-106.6 .3h0m3.8 .2h0m3.3 .5h0m6.6 -.5h0m7.8 .5h0m1 -.5h0m12.8 .4h0m3.6 -.5h0m43.8 -.3h0m8.8 .1h0m.9 0h0m1.2 .4h0m-91.4 1.4h0m11.4 -.1h0m.3 -.1h0m.3 -.7h0m.7 .6h0m14.6 -.4h0m15.1 .2h0m4.8 .6h0m34.6 -.4h0m4.1 -.5h0m.2 0h0m4.3 .3h0m6.5 -.3h0m3.8 -.1h0m-75.2 1.1h0m3.7 0h0m6.7 .5h0m3 .3h0m1.4 -.6h0m.6 -.1h0m2.9 -.1h0m3 .2h0m12.5 .4h0m7.6 -.1h0m5.4 .3h0m4.7 -.5h0m.8 -.3h0m2.7 .3h0m5 .2h0m7.1 .4h0m1.5 -.7h0m3.6 -.2h0m.7 .8h0m3 .1h0m7.7 0h0m-111.5 .5h0m4.9 0h0m15.8 .1h0m1 .3h0m9.1 -.6h0m1.9 -.3h0m1.7 .1h0m4.3 .7h0m2.8 -.2h0m.6 .1h0m2 -.1h0m.3 -.5h0m5.7 .3h0m4.1 -.3h0m15.8 .8h0m2.9 -.7h0m8.6 .2h0m2.4 -.3h0m15.2 .1h0m9.8 .8h0m1.8 -.4h0m-87 .6h0m11.5 .4h0m4.3 .3h0m14 -.4h0m2.8 -.1h0m7.7 .5h0m5.4 -.3h0m.1 -.2h0m4 .4h0m15.2 -.2h0m8.2 -.1h0m4.7 -.2h0m-105.9 1.7h0m12 -.6h0m7.3 .3h0m15.2 0h0m3.5 .1h0m1.3 0h0m1.4 -.1h0m3.5 -.4h0m.2 .4h0m.9 -.6h0m4.4 .1h0m2 .7h0m.1 -.1h0m9.8 -.1h0m.8 -.5h0m.1 .7h0m2.1 -.7h0m3 .1h0m4.6 -.3h0m3.4 .7h0m.9 -.7h0m6.8 .3h0m8.9 .5h0m1 -.1h0m3.2 .2h0m7.7 -.4h0m2.2 .5h0m-100.3 .8h0m14.9 -.3h0m9.2 -.5h0m6.4 1h0m2.6 -.2h0m.1 -.7h0m5.7 0h0m2.1 .3h0m1 .3h0m.4 -.4h0m3 .5h0m16.4 -.5h0m21.8 -.1h0m5.3 .5h0m6.9 .2h0m-64.4 .5h0m4.3 0h0m8.9 .4h0m.5 -.2h0m7.5 .4h0m3.5 -.2h0m10.3 -.2h0m.5 -.2h0m1.3 0h0m1 -.4h0m.2 .2h0m3.9 .2h0m5.6 .1h0m7.1 .4h0m.5 -.6h0m3.4 .7h0m13.7 -.8h0m-108.1 1.3h0m10.5 -.3h0m15.8 .2h0m2.3 0h0m.5 -.3h0m1.5 0h0m8.9 .7h0m4.5 .1h0m4.8 0h0m10.1 -.8h0m5.2 .9h0m9.6 -.8h0m1.8 0h0m2.2 .4h0m5.4 0h0m1.5 .2h0m1.6 0h0m2.6 -.5h0m1.8 .2h0m9.9 0h0m.6 .3h0m-92.6 .5h0m13.7 .3h0m14 -.2h0m3 .6h0m3.8 -.2h0m2.3 -.3h0m4.1 .3h0m.9 -.5h0m.1 .1h0m15.4 .1h0m5.5 .4h0m1.4 0h0m8 -.3h0m1.6 .3h0m4 -.5h0m1.2 .6h0m5.4 -.7h0m4.1 -.1h0m.8 0h0m4.9 .8h0m.7 -.8h0m-100.4 1.1h0m3.4 0h0m5.3 .6h0m7.9 -.8h0m5.2 .9h0m7.5 -.1h0m.3 -.8h0m5.4 .9h0m10.6 0h0m20.8 -.4h0m.1 -.5h0m1.7 .7h0m17.7 -.5h0m-88.3 1h0m1.2 0h0m4.7 -.2h0m16.5 .1h0m.7 .3h0m5 -.1h0m7.9 .4h0m1.7 -.6h0m2.5 0h0m14 -.1h0m2.5 .6h0m2.7 -.6h0m.2 .5h0m9.1 -.2h0m9 .2h0m1.1 -.4h0m2.2 0h0m.1 -.1h0m7.8 .6h0m1.4 -.4h0m8.9 .1h0m.1 .1h0m10.7 -.2h0m4.4 .2h0m-85.3 .8h0m14.5 .4h0m3 -.3h0m16 .4h0m4.6 -.3h0m.9 -.3h0m20.8 0h0m5.8 .2h0m-53.1 1.5h0m19.3 -.9h0m2.4 .9h0m15.1 -.6h0m22.9 -.3h0m-62.8 1.4h0m22.2 -.4h0m10.3 .3h0m5.7 .3h0" stroke="#f8c4d0" stroke-width="6.5" stroke-linecap="round" fill="none"/>
<path d="M191 354.4h0m-5.6 .7h0m61.3 1.2h0m-19.1 .5h0m15.1 4h0m-88.2 .7h0m-29.1 4.8h0m10.5 0h0m116.2 3.1h0m10.2 .4h0m-129.7 1.3h0m15.5 -.4h0m-7.6 2.7h0m-18.8 1.3h0m11.2 0h0m4.2 2.1h0m4.9 .3h0m-3.6 7.5h0m-11.7 6.1h0m-3.9 1.5h0m131.8 -.4h0m1.6 .9h0m-131.5 1.7h0m20.5 3.4h0m4.1 .5h0m101.1 -.7h0m2.4 1.3h0m8.4 .9h0m-129.1 1.1h0m7.7 1.9h0m-11.5 1.1h0m136.3 -.1h0m-120 4.6h0m-26.6 .8h0m8.9 .8h0m127.6 .4h0m-120.7 1.8h0m-5.1 .9h0m126.3 .5h0m4.2 2.3h0m-102.3 1.5h0m-4.6 1.9h0m95.5 2.5h0m-88.6 2.4h0m86.6 .7h0m-90.2 1.2h0m3.4 1.2h0m88.8 0h0m-8.8 1.9h0m-6.6 1.7h0m29 -.4h0m-59.1 2h0m24.8 -.8h0m22 4.7h0m-61.4 5.4h0" stroke="#e4faf0" stroke-width="5.5" stroke-linecap="round" fill="none"/>
<path d="M198.9 357.2h0m-14.7 1.9h0m34.5 0h0m-32.3 1.2h0m15.4 -.7h0m11.8 .3h0m-42.4 .6h0m19.9 .6h0m6.3 -.3h0m6.2 .4h0m.5 .1h0m22.9 0h0m3.4 .1h0m-55.4 .8h0m30.4 0h0m.1 0h0m3.9 .1h0m.8 -.4h0m-31 .7h0m11.7 .4h0m10.6 .2h0m32.9 .3h0m-27.7 .3h0m23.3 .2h0m-45.2 .5h0m4.4 1h0m13.9 -.1h0m-2.8 .5h0m12.4 -.2h0m-26.8 .9h0m27.2 0h0m1.6 .4h0m20.2 .3h0m.1 -.5h0m3.2 -.1h0m-70.2 1.2h0m35.3 -.4h0m2.6 .7h0m29.6 -.4h0m9.3 .1h0m-75.4 1.4h0m28.8 -.6h0m20.9 .3h0m2.9 -.2h0m4.4 0h0m.4 .2h0m-51.3 1.3h0m2.7 -.8h0m5.2 .9h0m13.1 -.2h0m4.9 .2h0m.3 0h0m21.7 -.8h0m3.1 .8h0m6.9 -.1h0m1.3 -.1h0m-46.4 .6h0m4 -.1h0m27.3 -.1h0m.1 .5h0m4.2 -.4h0m5.4 .4h0m12.4 -.4h0m-84.2 .8h0m33.2 .4h0m12.5 0h0m9.4 .4h0m1 -.6h0m1.4 .7h0m20.3 -.5h0m3.2 -.2h0m7.9 .7h0m-72.1 .2h0m2.1 .4h0m16.7 .4h0m1.3 -.5h0m2 -.2h0m10.1 .5h0m8.9 -.5h0m6 .1h0m20 .7h0m-67.8 .9h0m4.7 -.2h0m32.3 -.4h0m1.7 -.3h0m.2 .6h0m16.6 -.3h0m2.3 .1h0m-75.3 1.2h0m26 .1h0m6.2 0h0m3.9 .3h0m2.5 -.8h0m.4 -.1h0m16.2 .8h0m9.3 -.1h0m3.3 -.3h0m1.7 .4h0m8.5 -.2h0m13.9 -.6h0m-88.7 1h0m10.1 .8h0m.7 0h0m17.2 0h0m.4 0h0m1.9 -.1h0m2.1 -.5h0m26.1 .6h0m21.5 -.6h0m1.4 .4h0m2.9 .1h0m-77.8 1h0m24.5 -.6h0m11.4 0h0m0 .8h0m4.4 -.8h0m5.7 .3h0m.4 -.5h0m.5 .6h0m4.5 .2h0m8.8 -.4h0m.2 .1h0m3.8 -.4h0m8.8 .6h0m5.8 0h0m-72.4 .5h0m12.9 .2h0m13.8 .5h0m16.7 -.5h0m20 .4h0m6.8 -.7h0m2.1 .3h0m-73.5 1.2h0m12.4 .3h0m1.8 -.8h0m5.8 .8h0m8.1 -.3h0m.1 0h0m7.4 -.6h0m9.9 .3h0m1.2 .5h0m9.1 -.4h0m-27.9 1.6h0m.3 -.6h0m11.3 0h0m24.9 -.4h0m1.8 .9h0m.3 -.3h0m5.5 0h0m-92.9 1.1h0m25.4 .1h0m12.8 -.6h0m11.4 .8h0m.1 -.7h0m1.6 .3h0m3.6 -.1h0m2 .3h0m1.4 -.1h0m17.7 -.5h0m-46 1.6h0m2.9 -.3h0m1.2 .1h0m5.1 -.3h0m13.2 .2h0m3.5 .3h0m.6 -.5h0m5 -.1h0m1.1 .2h0m19.4 -.4h0m6.5 .7h0m10 -.1h0m-96 .5h0m39.7 .1h0m.3 .6h0m.5 -.7h0m2.5 .6h0m1.8 -.6h0m1.5 .5h0m7.4 0h0m13.8 -.2h0m7.6 .2h0m-65.8 1.3h0m10.6 -.2h0m2.2 0h0m27.6 0h0m4.4 -.2h0m2.8 -.5h0m1.3 .2h0m3.4 -.1h0m3.1 .9h0m14.2 -.5h0m.8 .4h0m1.9 -.6h0m1.3 -.2h0m-78.5 1.2h0m26.1 .2h0m11.2 .4h0m11.6 -.3h0m.6 -.1h0m.9 .2h0m3.9 -.5h0m15.5 .5h0m.2 -.6h0m3.3 .5h0m-70.9 1.2h0m3.1 -.1h0m25.3 .1h0m17.7 -.3h0m2.9 -.5h0m5.9 .4h0m1.6 .3h0m22.5 0h0m-64.2 .3h0m30 .8h0m8.6 -.7h0m5.8 .2h0m12.6 .2h0m-68.6 1.3h0m2.4 -.6h0m28.7 .4h0m.1 -.4h0m10 .3h0m8.6 0h0m2.8 .3h0m3.6 -.5h0m4.5 .6h0m9.2 -.4h0m4.6 0h0m-47.8 1.3h0m2.9 -.7h0m24.8 .8h0m.4 -.4h0m20.6 .3h0m-88.6 .7h0m9.6 .4h0m31.8 0h0m18.9 -.7h0m2.1 .3h0m.5 .1h0m.5 0h0m1.8 .3h0m3.2 -.2h0m22.4 0h0m3.6 -.4h0m-61.1 1.1h0m2.2 -.3h0m1.8 0h0m6 0h0m.6 .7h0m.7 .1h0m1.1 -.8h0m5.4 .2h0m1.7 .7h0m8.1 -.5h0m11.7 -.5h0m-58.9 1.5h0m22.3 .2h0m1.8 -.1h0m4 -.1h0m1 .4h0m1.4 -.2h0m.7 -.6h0m.6 .3h0m4.7 0h0m2.1 .2h0m9.8 0h0m4.9 -.3h0m6.6 .2h0m8.4 -.5h0m.3 .8h0m2.7 -.6h0m11.3 -.2h0m-87.3 1.3h0m24.3 .3h0m1.8 -.5h0m18.4 .4h0m2 0h0m3.4 .1h0m2.7 -.4h0m3.3 .6h0m15.7 -.5h0m.3 .4h0m.7 -.7h0m1.3 .2h0m8.8 .1h0m6.5 .4h0m-50 1.3h0m5.1 -.3h0m13 .1h0m8.8 -.7h0m2.2 .7h0m-66.8 .6h0m21.5 .5h0m4 -.7h0m15.3 .2h0m4.2 .6h0m7.8 -.8h0m.9 0h0m1.6 .6h0m25.1 .1h0m-70.8 .4h0m14.8 .6h0m7.9 -.3h0m.7 .4h0m1.7 -.4h0m1.5 .2h0m6.3 -.5h0m1.6 .5h0m1.2 -.4h0m4.8 0h0m3.7 .3h0m4.8 -.3h0m6.4 -.1h0m2.5 .6h0m.7 -.6h0m.5 .5h0m1.3 0h0m-61.4 .3h0m2.1 .3h0m4.8 .4h0m24.5 -.6h0m0 .3h0m1.7 -.1h0m3.9 -.4h0m7.6 .8h0m1.4 -.2h0m2.3 -.5h0m2.7 -.1h0m.9 1h0m1.1 -.8h0m7.9 .1h0m9.7 0h0m3.2 .1h0m.6 .2h0m4.8 -.1h0m-88.5 .6h0m17.3 .9h0m21.3 -.5h0m43.7 -.2h0m-55.4 .7h0m5.1 .5h0m8.4 .3h0m7.5 -.3h0m10.5 -.3h0m.9 .2h0m.8 .4h0m7.5 .2h0m2.8 -.8h0m.3 .3h0m3.7 -.1h0m9.4 .6h0m-91.6 .1h0m10.9 .7h0m10.4 .2h0m16.6 -.7h0m.3 .5h0m1.7 .1h0m18.4 -.8h0m15.1 .7h0m1.3 -.6h0m-58.6 1.5h0m14 .3h0m2.9 -.4h0m7.1 -.1h0m9.6 .4h0m3 -.5h0m.8 -.3h0m4.5 .4h0m.2 .2h0m3.5 .2h0m34 -.9h0m-66.6 1.6h0m3.4 -.2h0m15.6 .6h0m2.2 -.6h0m3.4 .3h0m.8 -.7h0m10.3 .9h0m-59.6 .8h0m.1 -.4h0m13.8 .3h0m14.6 0h0m2.8 -.5h0m2.4 .2h0m9 -.1h0m6.7 0h0m8 .1h0m1 .5h0m5.1 -.5h0m26.2 .4h0m-78.4 .9h0m8.7 -.5h0m1 0h0m12 -.1h0m23.1 .1h0m1.5 .3h0m.1 -.1h0m4 .4h0m3.6 .3h0m.2 -.4h0m5 .3h0m9.3 -.7h0m-77.1 1.1h0m21.4 .7h0m11.2 -.5h0m9.3 -.2h0m11.7 -.1h0m17.6 .4h0m1 -.2h0m2.5 -.3h0m-51.4 1.2h0m29.9 .1h0m17.2 .4h0m3.6 .1h0m-67.7 .7h0m15 -.4h0m6.8 .6h0m9.7 -.7h0m11.8 0h0m4.4 .9h0m1.2 -.4h0m2.5 -.4h0m.4 -.1h0m10.3 -.1h0m.3 1h0m10 -.7h0m-59.4 1.1h0m23.9 .2h0m11.9 -.3h0m3.5 0h0m0 .3h0m4.5 .3h0m8.1 -.5h0m1.8 0h0m-43.2 1h0m4 0h0m3 .1h0m4.5 -.2h0m.7 .1h0m.7 .5h0m.8 -.1h0m3.1 .1h0m1.7 -.7h0m4.1 .4h0m8.1 0h0m5 .1h0m1.3 -.3h0m-50.8 1.5h0m.9 -.5h0m21.7 0h0m2.8 .5h0m30 -.1h0m17.9 -.3h0m-77.6 1.3h0m21.9 -.5h0m1.7 .1h0m11.8 .4h0m.5 0h0m13.6 0h0m4.6 -.2h0m5.2 -.1h0m10.2 -.5h0m1.2 .5h0m-80.6 .8h0m10.3 0h0m18.7 -.2h0m16.7 .1h0m1.9 .4h0m.2 -.1h0m4.9 .1h0m6.3 -.5h0m5.6 .8h0m4.8 .1h0m-54.3 .4h0m26 .5h0m10.6 -.9h0m10.3 .8h0m.5 -.7h0m4 .7h0m-58.2 .9h0m10.7 -.5h0m8 .3h0m3.2 -.3h0m6.7 .7h0m6.6 -.8h0m8.7 .1h0m4.2 .2h0m3.5 .1h0m2.9 -.2h0m17.4 0h0m-59.6 1.4h0m9 .2h0m.4 -.4h0m26.6 -.4h0m7.8 .3h0m-67.7 .8h0m45.9 .6h0m21.8 -.7h0m6.8 .3h0m-59.9 1h0m31.2 .2h0m7.3 .3h0m15.6 -.5h0m-51.7 .9h0m22.4 -.3h0m19.7 .7h0m.5 .2h0m9 -.8h0m2.1 .2h0m.4 -.2h0m-67.7 1.6h0m28.4 -.3h0m2.8 .3h0m8.2 -.4h0m4.9 -.1h0m2.4 .4h0m2.2 -.2h0m10.6 .2h0m10.2 .4h0m-65.4 .8h0m10.3 -.1h0m22.3 -.4h0m1.2 .5h0m11.6 -.3h0m6.5 -.4h0m-54.8 1.9h0m27.3 -.5h0m4.7 -.1h0m3.3 .5h0m16.2 -.6h0m7.1 .7h0m5.6 -.1h0m-57.4 .3h0m35 -.2h0m5.8 .8h0m12.7 -.2h0m3.9 .1h0m7.2 -.5h0m-54.4 1.5h0m18.2 -.4h0m12 .2h0m3.9 .3h0m-24.3 .8h0m4.5 -.4h0m16.7 0h0m25.1 .4h0m-26.6 1h0m11.4 .4h0m15.8 -.8h0m-35.8 1.5h0m37.6 -.1h0m-34.1 1.6h0m21.6 1.3h0m-34 1.3h0m20.3 .8h0m.3 .8h0" stroke="#bef3dc" stroke-width="6.5" stroke-linecap="round" fill="none"/>
<path d="M128.3 440.5h0m33.7 1.6h0m-26 .9h0m31.3 -.4h0m292.1 1h0m-303 1h0m27.4 .5h0m30.5 -.4h0m225.7 .6h0m-302.7 .3h0m24.3 .2h0m171.6 .5h0m70.7 -.1h0m47.2 0h0m-60.7 1h0m20.6 -.3h0m-197.3 2.6h0m109.5 1.5h0m54.2 .2h0m97 -.6h0m-132.9 .9h0m11.6 .7h0m10.6 .1h0m7.5 -.6h0m103 .6h0m-239.9 .3h0m16.7 .3h0m47.6 2h0m-18.2 .8h0m77.9 -.2h0m-94.4 1.8h0m21 1.6h0m16.5 2.9h0m16.3 .2h0m23.1 -.2h0m-86.3 1.1h0m34.8 .2h0m41 0h0m-.4 .5h0m.2 .5h0m-71.9 1.1h0m23.3 -.7h0m71.9 .8h0m.2 -.5h0m-93.3 .9h0m19.1 0h0m-24.6 1.3h0m31.7 -.2h0m-17.1 1.3h0m80 -.1h0m-23.9 .9h0m4.4 .2h0m15.8 .1h0m-24.2 .7h0m-4 1.1h0m-47.9 1.1h0m4.2 .2h0m35.5 0h0m176.1 .1h0m-154.7 .8h0m-43 1.3h0m-30.1 1.4h0m26.3 -.4h0m3.5 .2h0m193.9 .9h0m-179 1.4h0m25.1 0h0m-27.5 1.2h0m11.2 -.7h0m12.7 .1h0m-40.7 1.7h0m56.8 -.3h0m-76.8 1h0m80.6 .1h0m13 -.1h0m-94.3 2.4h0m66.3 0h0m-67.8 .3h0m117.2 .4h0m-114.3 1.3h0m88.9 -.6h0m114.7 1.2h0m-250.4 .5h0m2.5 .9h0m5.9 -.5h0m167.7 1.5h0m-217.1 1.4h0m242.6 .1h0m-295 1.5h0m47.9 2h0m-41.9 1.1h0" stroke="#dff7fc" stroke-width="5.5" stroke-linecap="round" fill="none"/>
<path d="M121.6 446.5h0m5.7 .7h0m27.2 -.1h0m28.1 -.2h0m1.8 -.2h0m227.7 .4h0m16.4 0h0m17 -.5h0m-317.6 1.9h0m12.2 -.5h0m43.8 -.4h0m12.3 .2h0m235.7 .4h0m9.1 -.3h0m6.7 .2h0m-324.4 .4h0m9.9 .2h0m1.2 -.2h0m.1 .8h0m2.8 -.3h0m16.1 -.2h0m2.1 .7h0m4 -1h0m.5 .6h0m3.1 -.1h0m7.3 -.5h0m8.6 .2h0m8.9 .7h0m254.5 .1h0m7.9 -1h0m-327.7 2h0m7.8 -.5h0m2.6 -.3h0m12.4 -.1h0m50.2 .8h0m6.3 -.7h0m5.1 .5h0m230 .2h0m6.6 -.3h0m16.9 0h0m-318 1.4h0m2.6 -.1h0m14.9 -.1h0m31.2 -.1h0m268.9 0h0m-336.2 .8h0m3.1 0h0m13.8 -.1h0m1.1 -.3h0m5.1 .5h0m6.7 0h0m.2 -.2h0m10 .1h0m5.3 -.3h0m6.5 -.2h0m3.9 .5h0m14.7 0h0m7.3 .5h0m183.2 -.6h0m17.2 -.1h0m21.6 -.1h0m11.1 .2h0m13.3 -.2h0m5.9 -.1h0m6.6 .8h0m-299.4 1h0m17.3 -.1h0m1.3 -.3h0m2.2 .4h0m.5 .1h0m.6 0h0m14.2 -.7h0m226.9 .4h0m7.1 0h0m.4 .2h0m-312.2 .6h0m8.4 .3h0m3.8 -.2h0m1.4 -.1h0m9.5 -.4h0m9.9 .6h0m3.9 .2h0m.4 -.2h0m7 .1h0m10.1 -.8h0m2.8 .8h0m.8 .1h0m15.8 -.1h0m1.8 -.2h0m5.9 0h0m4.7 -.5h0m15.2 .8h0m226 -.7h0m10.8 .3h0m-329.5 .5h0m.5 .9h0m2.2 -.7h0m7.6 .4h0m2.8 -.6h0m2.6 .6h0m1.9 -.6h0m1.4 1h0m11.7 0h0m7.1 -.3h0m.3 -.6h0m.7 .2h0m13.8 .6h0m16.2 -.8h0m191.6 .8h0m5.7 0h0m.2 -.6h0m15.9 .2h0m9.3 -.4h0m.6 .5h0m8.9 -.5h0m4.1 .4h0m1.4 .4h0m6.7 -.6h0m.4 -.3h0m.6 .7h0m.6 0h0m3.7 .3h0m2.4 -.5h0m1.8 -.3h0m1.1 .7h0m1.1 -.7h0m10.7 .2h0m-340.4 1h0m1.6 0h0m5.9 -.1h0m3.2 .1h0m30.6 -.4h0m6 .1h0m1.5 .1h0m14 -.1h0m9.6 .9h0m20.2 -.3h0m4.6 -.3h0m4.3 -.2h0m10 .2h0m134.9 -.3h0m19.9 .4h0m29.5 -.3h0m14.5 .4h0m3 0h0m2 -.2h0m.7 .6h0m3 -.7h0m8.8 .5h0m6.5 0h0m1.3 -.6h0m1.3 .4h0m3.2 .1h0m4.3 -.1h0m-277.2 1h0m5.4 -.4h0m22.6 -.1h0m1.5 .7h0m18.1 -.4h0m.6 .3h0m121.4 -.6h0m21.5 .4h0m8.5 .4h0m4.4 -.1h0m1.6 -.6h0m.3 .3h0m3.8 .4h0m9.7 -.6h0m2.9 .2h0m6.7 -.1h0m3.7 -.3h0m.8 .7h0m.8 -.3h0m2.5 .1h0m.9 -.5h0m5.2 .3h0m6.4 .2h0m9.8 .1h0m20.1 -.1h0m-286.1 .4h0m.4 .9h0m2.7 -.8h0m2.6 .5h0m4.7 0h0m1.9 -.2h0m4.4 0h0m9.8 .4h0m5.2 .1h0m5.9 -.7h0m2.1 .2h0m11.4 .2h0m2.3 -.2h0m9.8 .1h0m130.7 .2h0m37.8 -.1h0m4.3 -.4h0m6.9 .4h0m3.1 -.1h0m7 .2h0m1.9 -.3h0m4 .4h0m11.3 .1h0m8 -.4h0m.8 0h0m2.5 0h0m5.8 -.1h0m5.4 .5h0m-282.1 .3h0m1.4 .3h0m2.6 .2h0m8.4 .3h0m5.8 -.5h0m11.1 .2h0m4.3 0h0m5.4 -.2h0m127.6 0h0m18.4 .1h0m8.1 -.4h0m6.8 -.2h0m2.3 0h0m1.1 .5h0m2.2 .2h0m9.2 -.4h0m2.8 .7h0m17.8 -.7h0m1.3 .5h0m5.3 -.1h0m.3 -.7h0m1.1 .7h0m.7 -.7h0m2.1 .6h0m1.1 -.2h0m3.6 .3h0m1.3 .1h0m7 -.6h0m9.1 0h0m-275.6 1.6h0m2.1 -.2h0m11 -.5h0m8.7 .4h0m8.1 -.4h0m24.9 .8h0m123.6 -.2h0m5.5 -.6h0m24.5 .7h0m8.1 -.1h0m15.3 .1h0m12.5 -.4h0m5.9 .5h0m14.3 -.3h0m7 -.3h0m6.2 .6h0m-274.1 .8h0m5.6 .1h0m17 -.3h0m15.9 .4h0m145.5 -.4h0m11.5 .2h0m4 0h0m25.6 -.4h0m8 .6h0m7.7 -.4h0m7.2 -.3h0m13.2 .1h0m5 .1h0m1.4 .1h0m12.1 .5h0m-282.5 .7h0m10.8 -.4h0m1.7 .1h0m3.1 .1h0m4.3 -.2h0m4.2 -.3h0m14.2 .2h0m3 -.1h0m134.5 .4h0m23.8 .4h0m7.3 -.2h0m5.2 0h0m4.8 -.7h0m.2 .7h0m2.7 0h0m0 .3h0m.4 -.9h0m6.9 -.1h0m5 1h0m7.9 -.7h0m.9 .3h0m2.1 0h0m2.2 .2h0m6.6 -.6h0m9.9 -.2h0m.3 0h0m5.4 .8h0m2.1 .1h0m1.7 -.1h0m1.4 .2h0m10.3 -.9h0m-272.8 1.5h0m2 -.6h0m.8 .5h0m.9 0h0m4.5 .2h0m2.2 -.2h0m24.1 .3h0m10 -.3h0m147.5 .4h0m5.5 -.9h0m6.7 .9h0m1.3 -.5h0m.3 .4h0m11.6 -.2h0m1.4 .2h0m4.6 -.2h0m17.8 -.5h0m2.8 .9h0m.3 -.4h0m.9 -.1h0m9.4 .5h0m1.2 -.9h0m2.6 0h0m-263.4 1.5h0m11.4 -.1h0m4.9 -.4h0m1.6 0h0m163.7 .7h0m2.7 .1h0m6.9 -.5h0m9.4 .5h0m8.2 -.6h0m.2 0h0m1 .3h0m.9 -.6h0m3.1 .6h0m.9 .3h0m5.2 0h0m3.1 -.1h0m1.4 -.3h0m.9 -.5h0m4.7 .5h0m5.8 -.4h0m.1 .3h0m7.4 -.3h0m6.7 .6h0m3.3 -.5h0m.1 .5h0m3 .2h0m2.8 -.8h0m11.4 .6h0m2.7 -.3h0m5.5 .4h0m-285.5 .5h0m6.1 .1h0m8.9 0h0m11.7 0h0m.1 .2h0m14.2 -.5h0m139.9 .7h0m8.5 -.2h0m16.9 .2h0m2.5 -.6h0m.6 .2h0m5.7 -.1h0m1.5 -.1h0m1.6 -.1h0m2 .8h0m2.7 -.7h0m5.1 .7h0m6.4 -.3h0m2.1 .1h0m1.8 -.5h0m5.4 .8h0m11.4 -.3h0m.3 -.1h0m.4 -.6h0m6.1 .1h0m1.2 .4h0m6.7 .1h0m9.3 0h0m1 -.5h0m.1 .6h0m-279.7 .4h0m17.5 .5h0m151.4 -.4h0m2.8 .2h0m6.5 -.1h0m20.9 0h0m2.8 .3h0m19.5 -.6h0m5.8 .7h0m2 .2h0m6.2 -.2h0m8.9 .1h0m5.2 .2h0m1.2 -.5h0m8.5 -.4h0m8.3 .7h0m.2 .2h0m7.1 -.5h0m3.4 .3h0m-276.7 .3h0m1.8 .6h0m.3 -.5h0m10.8 .4h0m1.9 .4h0m6.1 -.1h0m3.7 -.3h0m.2 -.1h0m9.4 0h0m20.2 -.2h0m131.4 .2h0m21.4 .5h0m1.8 -.6h0m10.2 0h0m5 -.1h0m2.2 -.2h0m3.7 .5h0m1.8 -.2h0m2.7 .3h0m.8 -.5h0m.5 -.1h0m4.5 .2h0m4.2 .3h0m2.6 -.2h0m4.8 .2h0m2.4 0h0m.8 .1h0m7.8 -.5h0m1 .3h0m11.2 -.3h0m8.4 -.1h0m.3 .5h0m-283.8 .7h0m.9 .6h0m2.5 -.3h0m4.5 0h0m10.8 .3h0m6.5 -.5h0m156.3 .1h0m15.7 -.4h0m1.5 .4h0m5.9 .5h0m2 -.9h0m4.5 .5h0m3.5 -.2h0m4.5 0h0m4.5 .5h0m4.1 -.8h0m3.8 .8h0m2 -.7h0m5.5 -.1h0m.6 .8h0m4.4 0h0m2.1 -.5h0m2.9 -.3h0m1.4 .6h0m5.2 -.1h0m.2 -.4h0m5.4 0h0m10.6 .2h0m1.7 .5h0m-276.1 1h0m.7 0h0m.4 -.4h0m3 -.5h0m4.2 .3h0m.5 0h0m1.6 .3h0m37.4 -.2h0m11.2 .5h0m127.9 -.5h0m8 -.3h0m2.7 .3h0m23.4 .3h0m5 -.5h0m1.9 .8h0m3.7 -1h0m3.9 .8h0m1.2 .1h0m.2 -.6h0m5.9 .3h0m1.7 .3h0m8.7 -.2h0m1.4 -.2h0m1.2 -.1h0m1.2 .3h0m.2 .2h0m2.5 -.3h0m9.3 .3h0m3.5 -.7h0m12.2 .4h0m.3 -.5h0m-277.4 1.2h0m4.4 .4h0m5.6 -.3h0m4.6 -.1h0m2.8 .1h0m8 .1h0m3.8 .2h0m1.5 -.6h0m146.6 0h0m7.6 .9h0m.1 -.4h0m9.4 -.2h0m22.9 -.1h0m3.7 .1h0m1 .2h0m1.1 .2h0m.2 -.3h0m1.5 -.4h0m14.7 .1h0m3.1 .7h0m2.6 -.9h0m8.7 .9h0m5.5 -.5h0m3.5 0h0m4.5 .1h0m4.7 .1h0m6.1 0h0m5 -.5h0m-290.4 1h0m.6 .6h0m.2 -.4h0m.1 .1h0m.8 .1h0m2.9 .5h0m3.8 -.4h0m48.9 .2h0m113.9 -.4h0m61.1 -.1h0m5.4 -.2h0m3.6 0h0m2.2 .2h0m1.4 .4h0m22.1 -.2h0m.5 -.1h0m2 .4h0m15.2 -.6h0m6.4 .4h0m-291.6 .5h0m10.4 .6h0m6.4 -.1h0m6.1 -.1h0m4.1 .2h0m27.8 .2h0m117.8 -.3h0m23.3 -.3h0m2.1 .5h0m20.4 -.7h0m2.5 .2h0m4.8 .5h0m.4 0h0m.3 -.2h0m1.1 .4h0m2.9 -.1h0m2.3 -.6h0m1.7 .2h0m1.7 -.1h0m7.3 0h0m8.5 .1h0m.9 .2h0m6.2 -.2h0m1.7 -.4h0m2.3 0h0m3.7 .8h0m7.3 -.6h0m10 0h0m-283.5 1.4h0m3.5 .1h0m4.3 -.1h0m1.4 .2h0m.5 -.8h0m.6 .2h0m164.7 -.2h0m25.2 .6h0m1.7 -.4h0m3.3 .6h0m1.5 0h0m14.4 -.1h0m2 -.2h0m5.6 -.4h0m1 .2h0m1.7 .1h0m6.3 .5h0m.6 -1h0m.6 .3h0m3.6 .2h0m1.4 .4h0m1.9 .1h0m2.4 -.5h0m5 .3h0m1.5 -.1h0m1.3 0h0m4.7 .3h0m1 -.2h0m3.5 -.7h0m4.2 .1h0m0 .3h0m.9 .1h0m7.3 -.5h0m5 .6h0m-283.5 .7h0m.7 .2h0m3.8 -.4h0m5.3 .7h0m3.2 .1h0m12.6 -.5h0m4.1 .3h0m155.4 -.3h0m8.2 -.3h0m10.2 .5h0m10.1 -.5h0m1.8 .6h0m1.7 0h0m6.2 .1h0m7.5 -.5h0m2.1 .2h0m6 -.3h0m20.4 .2h0m6.6 .3h0m1.4 .1h0m1.8 -.4h0m3.2 0h0m2.3 -.2h0m7.4 .5h0m4.4 -.5h0m-279.1 1.4h0m2.3 -.3h0m.6 0h0m1.1 0h0m31.6 .1h0m129.9 -.3h0m14.1 -.2h0m12.2 .1h0m1.9 .4h0m13.9 -.2h0m14.4 .4h0m7.3 -.6h0m8.6 .1h0m2.3 .3h0m1.4 .3h0m1.1 -.4h0m6.5 .3h0m.8 .3h0m12.1 -.1h0m1.3 -.7h0m4.1 .7h0m-271.3 .8h0m.7 .2h0m3.8 -.3h0m17.8 0h0m158.2 .3h0m24.4 -.4h0m15.9 -.3h0m3.2 .3h0m1.7 .2h0m13.5 -.2h0m4.4 -.5h0m1.8 .4h0m1.7 0h0m25.6 .2h0m-276.2 1.3h0m2.8 -.6h0m1.3 0h0m.5 .5h0m2 -.1h0m.6 .2h0m22.1 0h0m4.7 -.1h0m4.1 -.3h0m166.3 -.1h0m11.6 .6h0m1.8 -.3h0m7 -.7h0m2.1 .1h0m7.2 .2h0m5.1 -.1h0m1.5 .5h0m2.2 -.6h0m3.7 .6h0m2.9 -.2h0m0 0h0m2.6 -.5h0m.6 .8h0m8.9 -.1h0m1.4 -.2h0m3 -.4h0m.7 .4h0m.4 0h0m0 -.1h0m1.1 .3h0m12.2 -.2h0m.2 .1h0m-282 .9h0m3.5 -.4h0m.8 .2h0m4.7 0h0m.9 .4h0m25.4 -.2h0m5.4 .2h0m11.3 .3h0m120.8 -.5h0m35.7 .3h0m15 0h0m.7 -.1h0m17.3 .2h0m14.2 -.5h0m1.8 -.4h0m4.3 .4h0m.7 .6h0m4.9 -.5h0m1.5 .5h0m.4 0h0m13.5 -.4h0m-282.1 .6h0m1.4 0h0m.5 .6h0m.8 -.6h0m.8 .7h0m.2 -.8h0m5.3 .9h0m.4 -.9h0m13.8 .8h0m3 -.4h0m8.7 .2h0m147.3 -.7h0m39.9 .6h0m17.1 -.1h0m10.3 .1h0m9.5 -.5h0m5.8 .2h0m4.4 .1h0m5.9 .2h0m5.2 -.1h0m1.9 -.2h0m5.3 .5h0m-326.5 .9h0m8 0h0m1.8 .1h0m7 0h0m10.5 -.3h0m5.7 -.1h0m.8 -.2h0m19.8 .8h0m.5 -.9h0m3.8 .2h0m1.8 -.1h0m0 .7h0m9.6 -.7h0m162.4 .6h0m4.9 -.6h0m8 .4h0m8.2 -.2h0m2.4 .1h0m1.6 -.5h0m1.9 .6h0m1.1 -.5h0m4.3 .4h0m5.9 0h0m9.4 .4h0m3.2 -.1h0m19 -.3h0m14.1 .3h0m2.6 -.4h0m-342.5 1.1h0m10.4 -.4h0m2.5 .3h0m1.5 -.2h0m4.8 -.2h0m1.2 .1h0m9.4 .1h0m9.8 .3h0m4 -.4h0m1.7 0h0m.1 .2h0m9.4 -.1h0m1.2 .5h0m1.6 -.6h0m6 -.1h0m6.4 .2h0m10.3 .4h0m182 .4h0m12.8 -.5h0m3.4 .2h0m19.2 .2h0m7.8 -.8h0m5.6 .6h0m1.1 -.5h0m.9 0h0m17.5 0h0m6.3 .6h0m15.8 0h0m-347.8 .5h0m24.8 .5h0m4.5 .1h0m7.6 -.2h0m213.1 -.2h0m19.4 0h0m9.4 0h0m13.3 -.1h0m2.5 0h0m1.8 .5h0m11.6 -.9h0m3.5 0h0m5.8 .6h0m-324.9 .7h0m3.2 .2h0m5.2 .5h0m16.9 -.4h0m4.9 .2h0m4 -.4h0m3.1 .1h0m1.5 .4h0m13.1 -.7h0m6.1 .5h0m13.5 -.7h0m.4 .1h0m22.8 .4h0m.5 .3h0m5.5 -.6h0m4.8 0h0m173.7 0h0m10.9 .3h0m16.9 .5h0m10 -.7h0m14.1 0h0m17.9 -.1h0m-344.5 1.2h0m.5 .3h0m2 .2h0m30.9 -.7h0m7.9 .7h0m1 -.6h0m13.3 -.1h0m3.6 .4h0m.2 .1h0m5.8 .1h0m7.6 .1h0m219.8 .1h0m10.8 -.5h0m3.6 .3h0m19.2 -.3h0m-329.7 1.2h0m3.6 -.3h0m3.4 -.2h0m3.4 .2h0m9.8 -.3h0m9 .2h0m18.1 -.2h0m.9 .1h0m30.4 0h0m188.6 .2h0m24.2 .1h0m6.8 .4h0m9.5 -.2h0m7.9 .1h0m24 -.2h0m1.5 -.5h0m-335.7 1h0m17.3 .1h0m2.4 .1h0m303.2 .5h0m1.7 .1h0m5.1 .1h0m1.8 -.4h0m-320.2 1.1h0m3.7 -.4h0m.9 -.1h0m9.3 .3h0m2.9 -.3h0m268.1 .1h0m-263.1 1.6h0" stroke="#bff0fa" stroke-width="6.5" stroke-linecap="round" fill="none"/>
</g>
<path d="M201 174h8v2h-8zM197 176h16v2h-16zM193 178h23v2h-23zM191 180h26v2h-26zM189 182h29v2h-29zM188 184h30v2h-30zM188 186h31v2h-31zM187 188h32v2h-32zM186 190h33v2h-33zM185 192h34v2h-34zM184 194h36v2h-36zM183 196h37v2h-37zM182 198h38v2h-38zM181 200h39v2h-39zM180 202h41v2h-41zM179 204h42v2h-42zM178 206h43v2h-43zM177 208h44v2h-44zM176 210h46v2h-46zM175 212h47v2h-47zM175 214h47v2h-47zM174 216h49v2h-49zM173 218h50v2h-50zM172 220h51v2h-51zM172 222h51v2h-51zM171 224h52v2h-52zM171 226h52v2h-52zM170 228h53v2h-53zM170 230h53v2h-53zM169 232h54v2h-54zM168 234h55v2h-55zM167 236h56v2h-56zM166 238h57v2h-57zM166 240h57v2h-57zM165 242h57v2h-57zM163 244h59v2h-59zM162 246h60v2h-60zM161 248h61v2h-61zM160 250h62v2h-62zM159 252h63v2h-63zM158 254h64v2h-64zM157 256h65v2h-65zM157 258h65v2h-65zM156 260h66v2h-66zM156 262h66v2h-66zM156 264h66v2h-66zM155 266h67v2h-67zM155 268h67v2h-67zM155 270h67v2h-67zM155 272h67v2h-67zM155 274h67v2h-67zM155 276h67v2h-67zM155 278h67v2h-67zM154 280h68v2h-68zM154 282h68v2h-68zM154 284h68v2h-68zM154 286h68v2h-68zM154 288h68v2h-68zM154 290h68v2h-68zM154 292h68v2h-68zM153 294h69v2h-69zM153 296h69v2h-69zM153 298h69v2h-69zM153 300h69v2h-69zM153 302h69v2h-69zM154 304h67v2h-67zM154 306h67v2h-67zM154 308h67v2h-67zM155 310h66v2h-66zM155 312h66v2h-66zM155 314h66v2h-66zM156 316h65v2h-65zM156 318h65v2h-65zM156 320h65v2h-65zM157 322h63v2h-63zM157 324h63v2h-63zM157 326h63v2h-63zM158 328h62v2h-62zM158 330h62v2h-62zM159 332h60v2h-60zM160 334h58v2h-58zM161 336h57v2h-57zM162 338h55v2h-55zM164 340h51v2h-51zM165 342h49v2h-49zM167 344h45v2h-45zM170 346h39v2h-39zM175 348h28v2h-28z" fill="#f60a0a" filter="url(#b1)"/>
<path d="M118 456h64v2h-64zM118 458h69v2h-69zM428 458h9v2h-9zM118 460h70v2h-70zM425 460h19v2h-19zM118 462h70v2h-70zM425 462h19v2h-19zM118 464h70v2h-70zM425 464h19v2h-19zM118 466h70v2h-70zM425 466h19v2h-19zM118 468h70v2h-70zM425 468h19v2h-19zM118 470h70v2h-70zM425 470h19v2h-19zM118 472h70v2h-70zM425 472h19v2h-19zM118 474h70v2h-70zM425 474h19v2h-19zM118 476h70v2h-70zM426 476h17v2h-17zM118 478h68v2h-68z" fill="#1e9ce8" filter="url(#b1)"/>
<g filter="url(#b05)"><path d="M237.2 80h0m-61.5 1.1h0m-23.3 6.6h0m35.3 .3h0m61.7 3.1h0m-47.4 .9h0m17.9 2.5h0m-25.4 2.9h0m-34.5 .8h0m43.8 2.3h0m-35.7 .1h0m53 .1h0m-19.4 .8h0m-22.4 1.5h0m-31.2 1.1h0m55 -.4h0m-37.7 1.8h0m94.9 0h0m-86.6 .9h0m23.2 0h0m-26.6 .6h0m30.7 1.3h0m12.1 .4h0m-16.1 .9h0m53.3 0h0m-95.3 1.4h0m72.5 -.3h0m-78.5 2.7h0m36.8 -.8h0m-17.3 1.7h0m-23 .8h0m65.9 -.3h0m11.9 0h0m21 .2h0m-67.8 .6h0m16.6 .9h0m-15.4 .2h0m.2 1h0m19.9 .3h0m37.1 .7h0m5.8 .8h0m-71.3 1.4h0m34.4 -.3h0m24.4 .3h0m-61.4 1.4h0m9.8 -.2h0m18.5 1.2h0m-58.6 2.1h0m7.3 0h0m7.4 .4h0m6.5 -.1h0m24.2 1.6h0m30.8 -.4h0m3.6 1.1h0m-95.5 1.7h0m3.1 0h0m1.9 .4h0m63.7 .7h0m-63.2 1.1h0m32.8 -.1h0m-33.2 2.6h0m102 -.3h0m-88.3 .9h0m16.8 0h0m21.1 -.4h0m-29.2 1.6h0m85.1 .2h0m8.7 .1h0m-96.1 .5h0m8.7 .5h0m17.6 -1h0m57.8 .2h0m-10.7 1.5h0m-54 .4h0m1.6 .4h0m-11 1.4h0m19.6 -.4h0m-23.4 1.8h0m8.8 1.6h0m16.3 -.7h0m-36.8 .8h0m2.2 1.8h0m86.9 -.6h0m-87.9 1.2h0m21.4 1h0m3.6 .1h0m5.3 0h0m57.7 -.4h0m-99.7 1.3h0m28.1 .9h0m2.8 2.3h0m-20.2 1.8h0m3.1 -.2h0m11 .4h0m80.9 -.1h0m-104.5 2.3h0m99.9 -.4h0m-97.2 .9h0m105.7 0h0m-109.5 .9h0m33.6 1.1h0m71.6 .2h0m-95.8 2h0m8.8 -.5h0m-12.7 1.3h0m24.2 .1h0m-37.5 1h0m41.6 0h0m-22.7 1.5h0m26.5 -.8h0m-7.7 1.8h0m-20.5 2.1h0m20.1 2.2h0m-16.5 1.6h0m97.9 -.2h0m-99.7 .9h0m-11.4 1.2h0m22.4 .3h0m97.9 3h0m-103 1.8h0m-19.7 1.2h0m114.8 0h0m-110.7 2.3h0m10.3 1.1h0m5.8 .4h0m7.3 -.6h0m7 .1h0m76 -.2h0m-110.2 2h0m17.3 .2h0m11.7 -.2h0m-7.9 .9h0m8.7 1h0m.8 1h0m94.6 1.8h0m-104.1 1h0m-10.7 2.7h0m1.2 .3h0m102.4 -.7h0m-116.2 3.6h0m-.5 .4h0m.9 .3h0m1.1 -.1h0m8.8 .9h0m-12.4 .9h0m4.2 .3h0m12.5 -.1h0m1.3 .1h0m7.6 0h0m101 .1h0m-115.1 1h0m24 .9h0m-28.3 4.4h0m6.4 -.2h0m19.1 -.2h0m79.9 1.1h0m-102 2.2h0m12.4 .9h0m-1.9 1.1h0m11.8 -.2h0m-34.7 1.3h0m12.1 1.1h0m1.8 -.7h0m21.3 .2h0m2.4 1.1h0m-15.7 1.1h0m-14.4 1.4h0m9.9 -.7h0m10.4 -.2h0m-29.9 2.3h0m17.8 .7h0m-18.1 1.7h0m14.4 -.3h0m15.3 1.2h0m11.9 -.7h0m-34.1 1.5h0m120.4 .6h0m-125.9 2.6h0m24.2 1.2h0m12 -.8h0m-36.5 1h0m7.5 .8h0m7.7 .5h0m12.5 -.2h0m3.3 1h0m-27.1 1.2h0m5.3 .6h0m-8.5 2.5h0m42.2 .4h0m-26.1 .3h0m7.7 .3h0m5.3 -.3h0m-18.1 1.2h0m-10.9 .8h0m3.6 .4h0m33.8 -.4h0m-36.7 1.6h0m33.8 1.9h0m-2.1 1.7h0m-27.6 1.6h0m-7 .4h0m1.1 -.4h0m7 .2h0m2.4 -.1h0m7.8 .2h0m99.2 -.1h0m-113 .9h0m124.5 1.1h0m-127.5 1h0m16 .3h0m6.5 -.3h0m7.1 .3h0m84 .2h0m.8 .3h0m-110.6 .5h0m10 1.4h0m-12.3 2h0m32.5 -.4h0m-34.8 .6h0m10.9 .8h0m18.4 -.1h0m91.9 -.4h0m-99.5 1.3h0m-22.3 1.6h0m13.8 .6h0m3 -.8h0m6.7 2.2h0m-16.4 1.4h0m116.8 1h0m-125.5 3.8h0m22.2 -.3h0m3.9 .5h0m-9.8 2.9h0m-15.6 .5h0m.4 .8h0m120.4 .4h0m.7 -.1h0m-93.6 3.3h0m-3.7 1.1h0m2.4 .7h0m8.5 1.7h0m88.2 -.6h0m-101.8 2.2h0m14.6 1.1h0m87.9 .2h0m-109.9 .9h0m-4.7 3.9h0m-8.4 1.3h0m117.1 -.8h0m-107.9 2.7h0m-9.4 .5h0m30.9 1.7h0m-22.7 3.6h0m126.2 -.2h0m-127.1 2.7h0m8.7 .5h0m-12.1 .8h0m6.5 .6h0m104.3 .1h0m5.5 .6h0m-116.1 2.3h0m17.3 1.4h0m92.4 0h0m-93.6 .7h0m15.3 1.1h0m78 .3h0m5.2 -.5h0m.1 .6h0m-104.3 3h0m105.5 -.4h0m-110.6 .7h0m26 4.4h0m88.4 -.3h0m-98.3 1.8h0m-6 1.6h0m94.5 1h0m-100.3 .7h0m6.8 .6h0m-9.3 2.7h0m108.6 1.2h0m1.2 -.2h0m-95.3 1.1h0m90.3 .4h0m-90.9 1h0m96.1 -.5h0m-108.8 .8h0m11.7 2.1h0m-16.2 .6h0m5.3 6.3h0m-2.5 2.2h0m21.7 .8h0m-12.5 1.3h0m15.2 1.4h0m-30.4 .8h0m22 -.8h0m-22.3 1.5h0m4.6 0h0m15.8 .9h0m90.2 -.3h0m-83.2 3h0m89.2 1.2h0m-90.5 .8h0m-29 .9h0m17.1 .6h0m5.5 -.4h0m.6 0h0m-9.4 1.3h0m-11.4 .7h0m3.8 .2h0m18.7 0h0m-8.6 1.3h0m15.6 -.5h0m-8 2.7h0m89 -.3h0m-109 3.2h0m21.8 1.6h0m2.8 -.3h0m-22.7 2.2h0m-5.8 1h0m1.2 0h0m34.8 .5h0m4.2 -.6h0m59 .2h0m-55.6 1.3h0m57.7 .3h0m-62.8 1.4h0m44 2.1h0" stroke="#5a221c" stroke-width="2.6" stroke-linecap="round" fill="none"/>
<path d="M165.4 77.8h0m51.6 1.5h0m-19.6 2.2h0m-34.2 1.7h0m34.6 1.7h0m38.8 7.1h0m-8.7 .5h0m-61.5 1.9h0m-39 1.4h0m97.7 1.6h0m-69.6 2.1h0m68.9 -1h0m-72 1.6h0m-6.3 .8h0m42.6 .8h0m16.3 .5h0m12.6 -.6h0m1.3 .3h0m-66.6 1.8h0m44.4 2.2h0m.9 .3h0m17.3 -.1h0m-27.5 1.2h0m-28.5 .7h0m18.9 0h0m-30.9 2.7h0m37.3 0h0m3.8 .5h0m1.2 -.4h0m31 .4h0m-39.2 .6h0m4.3 .7h0m42.6 -.5h0m-21.3 1h0m25.1 -.3h0m-68.3 1h0m52.8 .8h0m11.7 -.1h0m-84.6 .3h0m19.4 1.4h0m.5 .2h0m3.5 -.3h0m58.5 -.3h0m-58.7 1.2h0m77 .7h0m-89.2 1.2h0m44.4 2.4h0m32.5 .3h0m-87 1.4h0m9.9 1.3h0m9 -.3h0m17 .2h0m-43.3 .8h0m48.9 -.2h0m9.5 .6h0m46.2 0h0m-33.6 1.1h0m-50.6 .4h0m3.3 .4h0m62.6 -.5h0m1.3 2.1h0m-44.4 .9h0m.8 .1h0m50.3 -.2h0m-67 1.1h0m61.5 .2h0m3.9 -.3h0m-73.2 1.7h0m80 -.1h0m-73.1 1.2h0m5.6 -.2h0m64.2 .5h0m-64.5 .9h0m4.8 .8h0m-38.4 1h0m25 .7h0m8.2 -.3h0m-10.6 2.9h0m5.9 0h0m72.2 1.7h0m-74.2 1.9h0m66.7 -.7h0m8.5 .8h0m-115 .5h0m2.5 .4h0m26.1 1.2h0m.7 .7h0m85.4 -.3h0m-76.6 .7h0m-3.7 1.8h0m4.2 .9h0m1.1 -.3h0m-31.8 1.9h0m6.3 .7h0m95.3 .8h0m-112.6 .6h0m3.3 0h0m131.7 2.9h0m-89.3 2.9h0m-19.7 1.1h0m-19 4.8h0m115.8 0h0m.6 -.1h0m-82.4 1.4h0m84.1 -.4h0m-88.7 1.4h0m95.7 .2h0m-110.7 2.1h0m18.5 .6h0m-32.2 1.4h0m33 -.3h0m98.3 .2h0m-98.6 .6h0m.1 .6h0m82.6 -.4h0m-103.3 1.7h0m18.1 2.5h0m88.4 -.3h0m-125.7 1.4h0m34.3 -.1h0m.9 -.2h0m-14.5 2.5h0m-5.7 .5h0m21.1 1.1h0m77.3 -.1h0m-108.4 .8h0m3.1 1h0m27.4 .6h0m.9 -.2h0m85.1 2.6h0m1.3 .6h0m5.2 -.7h0m-7.5 2.5h0m-118.2 2.1h0m12.5 -.4h0m24.3 .5h0m-25.4 .8h0m-4.5 .6h0m12.1 .3h0m-1.6 .6h0m100.5 0h0m-106.6 1.3h0m103.2 .1h0m-68.3 .8h0m-44.4 3.1h0m31.4 1.5h0m-18.9 1.9h0m5.1 -.8h0m93.6 -.1h0m-112.3 1.2h0m15.9 2.4h0m3.3 .3h0m-14.9 .2h0m6.7 .4h0m16.2 1.2h0m93.4 3.2h0m-110.6 2h0m26.3 -.1h0m78.1 -.3h0m-111.4 .6h0m1.8 .3h0m13.4 .8h0m19 1h0m2.5 1.6h0m-10.3 1.1h0m91.9 .3h0m.6 .7h0m-112.4 2.9h0m4.8 .2h0m17.1 .3h0m7.6 .9h0m-27.6 1.5h0m21.8 -.3h0m1.9 .8h0m81.7 .5h0m-111.9 1h0m113.7 1h0m15.6 .4h0m-124.4 1.4h0m18.2 1.2h0m10.5 -.2h0m-22.1 .8h0m-18.8 2.1h0m1.2 .6h0m-1.9 1h0m4.9 .5h0m9 .4h0m7.5 1.2h0m6.8 2.5h0m89.6 1.2h0m-86.9 .6h0m111.1 .7h0m-127.9 1.8h0m22.2 -.6h0m-18.7 1.8h0m-11.4 1.4h0m-4.8 3.2h0m34.4 -.5h0m-30.8 1.7h0m23.5 .4h0m102.7 .2h0m-100.1 .9h0m5.7 .2h0m82.9 1.1h0m-102.7 .5h0m14.6 .6h0m92.4 -.8h0m-7.4 1.1h0m-108.2 1.1h0m2.2 1.4h0m23.1 0h0m-3.2 1.4h0m-25.5 1.7h0m19 3h0m-9.4 1.4h0m17.6 .9h0m-26 .9h0m109.2 0h0m-95.3 .2h0m95.4 .9h0m-116.1 .7h0m20.4 .1h0m-14.2 .5h0m27 .1h0m-9.5 3.4h0m2 0h0m-26 1.1h0m27.3 .3h0m-18.5 1.1h0m13.8 .8h0m.1 .2h0m-7.8 2.4h0m-11.3 .6h0m5.4 1h0m3.1 .4h0m19.1 .6h0m-9 4.5h0m100.9 -.2h0m-113.9 1.1h0m106.7 -.3h0m-102.5 1.6h0m7 1h0m6.9 .5h0m-21.7 1.5h0m-2.4 3.5h0m116.5 .3h0m-94.1 1h0m-16.2 2.4h0m-5.9 1.5h0m122.3 -.6h0m-117.4 1.3h0m5.5 .6h0m-11 1.1h0m11.3 .2h0m109.4 1h0m-106.2 2.2h0m-6.3 1.4h0m12.7 1h0m91.3 -.9h0m14.4 3h0m-123 1.3h0m29.2 .7h0m-17.6 .2h0m15.2 .5h0m-28.5 3h0m15.3 .8h0m2.2 1.2h0m-6.1 2.2h0m1.2 -.9h0m97 .6h0m-86.8 2.3h0m94 0h0m-100.4 .5h0m6.4 2.4h0m-22.5 .7h0m23.1 0h0m-25.6 .8h0m114.5 .2h0m-109 1.2h0m14.7 .1h0m94.7 0h0m3.5 .9h0m-111.2 .7h0m.2 .5h0m11.9 4.6h0m14.1 .4h0m-21.3 .3h0m107.7 -.1h0m-103.6 .9h0m5.1 .1h0m90.9 .4h0m-102.6 1.7h0m99.8 .3h0m-76.3 2.1h0m-1 1.2h0m-28.8 .5h0m36.1 0h0m-19.7 1h0m17.5 1.4h0m-27.3 1.2h0m104.2 2.1h0m-106.6 .5h0m29.5 -.4h0m-38.7 2.9h0m1.5 2.5h0m22.2 1.1h0m14 -.2h0m3 .6h0m-27.5 .9h0m20.6 0h0m.3 -.8h0m-9.6 1.1h0m.7 .3h0m91.2 .3h0m.1 -.3h0m-85.3 .8h0m12.5 1.6h0m19.3 -.9h0m2.4 .9h0m53.5 -.7h0m-56.1 .8h0m16 .6h0m12.7 .9h0m24.3 .3h0" stroke="#82302a" stroke-width="2.6" stroke-linecap="round" fill="none"/>
<path d="M189 111h0m15.1 .3h0m-24.1 1.1h0m.7 .1h0m-.4 1.5h0m3.2 2h0m5.6 .2h0m.4 0h0m12.3 .5h0m-1.1 1h0m14.3 .1h0m3 -.1h0m3.6 .1h0m-34.3 1.8h0m6.8 1.6h0m9.2 2.2h0m-1.6 .3h0m.5 .2h0m-11.6 .9h0m20.9 1.5h0m-26.4 1.1h0m5.3 -.6h0m20.6 .5h0m2.6 -.4h0m2.8 .4h0m-4.8 .6h0m-46.9 1.3h0m1.9 -.6h0m30.1 0h0m19.2 1.1h0m-11.3 1.2h0m18.6 -.3h0m-39.2 1.6h0m17.2 -.2h0m9.5 -.2h0m-11.1 .8h0m9.2 0h0m10.6 .8h0m-5.6 .5h0m7.6 .5h0m-12.4 1h0m4.8 -.5h0m-31.6 2.5h0m6.5 -.7h0m21.7 .5h0m14.3 -.3h0m2.7 .5h0m-31.9 .5h0m.6 .6h0m19.8 -1h0m6.7 .3h0m1.1 0h0m-40.2 1.5h0m7.3 -.5h0m1 -.1h0m6.8 .7h0m21.6 -.8h0m6.9 -.1h0m-44.7 1.3h0m14.4 -.2h0m-19.8 .9h0m46.8 .8h0m-44.1 .5h0m6.5 .3h0m4.2 -.3h0m7.4 .2h0m-16.7 1.4h0m1.9 -.6h0m6.5 .5h0m.1 -.3h0m25 .4h0m7.4 -.4h0m7.2 .1h0m3.8 .3h0m-44.9 1h0m29.3 -.5h0m15.3 -.3h0m-63.9 1.4h0m.6 .1h0m37.1 .1h0m-27.5 .6h0m46.5 .3h0m-43.7 .6h0m.9 -.2h0m11 .4h0m35 .2h0m-41.6 .9h0m8.9 -.4h0m4.9 .7h0m13.9 -.6h0m-39.3 1h0m37.9 .5h0m2.9 -.2h0m.2 .1h0m12.3 .1h0m-20.1 1.1h0m3.1 -.5h0m-39.3 1.7h0m32.1 .9h0m4.1 -.8h0m-33.6 1.2h0m9.3 -.1h0m53.4 0h0m-60.5 1.5h0m38.8 -.1h0m-44 .8h0m3.1 .4h0m-10.3 .9h0m10.4 1.3h0m-9.1 .3h0m59.7 .5h0m-40.5 1.5h0m-8.5 1.5h0m4.8 -.8h0m44.6 .5h0m5.2 .4h0m-84.9 .5h0m21.5 -.2h0m9.9 .4h0m-1.6 1.4h0m20.6 -1h0m-32.7 1.5h0m10.4 -.5h0m7 1h0m36.1 -.5h0m7.4 .4h0m-27.9 1.1h0m39.6 -.8h0m-65.3 1.5h0m21.3 -.4h0m.5 -.2h0m-17.2 1.5h0m.8 -.5h0m50.7 1h0m-4.5 1.5h0m10.3 -.3h0m-89 .9h0m27.7 .5h0m9.1 -.3h0m46.3 .6h0m2.4 -.8h0m-66.2 1.4h0m7.5 -.4h0m-14.6 1.3h0m20.1 1h0m-27.1 1.4h0m12.1 0h0m69.4 -.1h0m-76.8 .5h0m7.2 .2h0m58.2 0h0m-44.3 1h0m55.1 -.1h0m-100.5 2.2h0m25.1 -.6h0m.6 .5h0m5 -.4h0m6.5 .3h0m58.4 1.7h0m-63.1 1.4h0m70.8 .1h0m-67.4 .5h0m9.1 .2h0m-20.1 1h0m-18.3 .7h0m8.6 1.6h0m15 -.6h0m66.8 .2h0m-81.8 1.3h0m11.4 .2h0m-1 .4h0m.3 0h0m4 .5h0m67.1 -.3h0m4.6 .1h0m.1 .4h0m-4.9 2h0m3.5 .3h0m2.5 .5h0m-3.1 .5h0m1.1 .8h0m4.2 0h0m-1.6 .9h0m-79.4 1h0m15.1 -.4h0m-23.1 1.4h0m26 .7h0m58 .4h0m6.1 .5h0m-72.4 1.5h0m1.5 .5h0m8.5 -.2h0m53.9 -.1h0m-93.7 2.3h0m19.9 0h0m5.2 -.2h0m6.9 .1h0m72.6 -.1h0m-86 3.5h0m4.8 -.2h0m13.5 -.3h0m56.9 .3h0m-76.9 1.5h0m86.5 -.9h0m-83.8 2h0m-.8 1h0m6.3 1.1h0m-6.2 1.7h0m9.5 -.8h0m67.8 .6h0m2.5 0h0m2.5 .2h0m-68.7 .7h0m-25.5 .9h0m17.8 -.1h0m75.3 1.6h0m-4.2 .2h0m1.7 0h0m2.1 -.2h0m-87.3 1.3h0m2.8 .1h0m3.8 .5h0m13.5 .5h0m-22.5 .6h0m.3 1.4h0m12.6 -.3h0m-25.2 1.3h0m19.8 .1h0m.3 .2h0m-11.5 .6h0m8.3 .3h0m86 0h0m-80.9 .4h0m14 .2h0m-27.9 1.7h0m18.8 -.6h0m68.7 .8h0m5.7 .9h0m-.1 .2h0m-78.3 1.1h0m0 .1h0m0 2.1h0m10.7 1.3h0m-40.7 .6h0m25.4 .5h0m3.7 .1h0m2 .8h0m80.5 -.4h0m-116.2 1.4h0m27.8 -.1h0m11 -.4h0m72.3 0h0m-94.9 .9h0m9.1 .4h0m5.1 .2h0m.5 -.1h0m10.9 1.7h0m72.9 .2h0m.7 -.3h0m-.1 2.5h0m-93.9 .3h0m90 .1h0m-79.8 3.6h0m-7.9 1.2h0m-3 .6h0m3.2 .2h0m4.3 1.7h0m-7.1 2.2h0m2.2 1h0m8.2 -.7h0m-14 1.7h0m5.4 -.4h0m10.5 -.3h0m77.9 .1h0m-.8 4.7h0m-2.1 .8h0m7.3 .4h0m-117.3 .9h0m10.2 -.2h0m1 -.5h0m15.3 0h0m-7.8 .8h0m5.4 .3h0m-20.9 1.4h0m8.6 .3h0m19.8 -.2h0m-29.6 1.2h0m11.5 1.2h0m-.7 1.1h0m14.2 1.5h0m3.4 -.1h0m89.2 1.4h0m-101.2 1.3h0m3.2 -.3h0m-5.2 2.8h0m95.9 -.5h0m-88.8 2h0m-.1 2.5h0m91.4 .9h0m-99.1 2.1h0m100.8 -.3h0m2.8 0h0m-81.3 .5h0m72.8 0h0m3.6 .8h0m-83.7 .2h0m-29.9 1.5h0m5.9 -.2h0m107.4 .1h0m-96.7 .8h0m5.2 0h0m91.4 .5h0m2.6 .2h0m-90.6 .3h0m-4.8 1.2h0m4.6 -.3h0m-7.3 .8h0m14 .5h0m-25.4 .6h0m17.3 .8h0m-9 .8h0m3.8 -.7h0m2.5 .2h0m88.2 .8h0m-93.5 2.3h0m-1.9 .7h0m99.6 .5h0m-83.4 1.3h0m-17.6 .9h0m101.4 .7h0m-102.2 1.8h0m12.6 1.3h0m6 0h0m-25.4 1.1h0m25 -.5h0m79.7 .7h0m-85.4 1.1h0m-3 .2h0m85.5 .5h0m4.3 .1h0m.6 -.5h0m-3.2 1h0m-99.4 2.7h0m13.4 .9h0m-9 .7h0m.3 .2h0m95.2 1h0m-1.1 1h0m4.5 1.5h0m-91.8 1.4h0m-6.5 1.2h0m12.7 -.6h0m86.5 1h0m-107.6 1h0m6.9 .2h0m-10.8 .8h0m10.1 0h0m11.3 3.2h0m-21.5 1.5h0m29.1 -.6h0m5.9 .6h0m80.7 -.6h0m-3.3 1.6h0m-101.8 .3h0m1.8 .5h0m8 -.4h0m5.6 1.1h0m1.3 -.1h0m2.9 .1h0m-20.4 1.4h0m1.3 -.6h0m-3 2h0m7.2 0h0m2.4 .6h0m1.2 -.5h0m16.6 -.2h0m78.7 .6h0m-97.2 .8h0m0 1.2h0m12.2 .9h0m-6.9 .9h0m8.9 -.5h0m-5.7 2.9h0m2.3 -.1h0m10.6 0h0m70 -.3h0m-101.3 .5h0m10.4 .1h0m-9.5 1.9h0m14.3 .6h0m-15 .4h0m23.7 .8h0m75.8 .7h0m-87.8 1.5h0m2.1 -.7h0m90.6 .5h0m-97.4 1.1h0m15.6 1h0m-16.5 .7h0m3 -.5h0m9.9 .1h0m3.7 .3h0m-3.6 1.5h0m-23.4 .8h0m14 0h0m89.9 -.2h0m-66.6 .4h0m-9.9 1h0m7.5 1.3h0m73.1 1.6h0m-96.1 .6h0m10.2 .3h0m9.9 -.8h0m78.4 .2h0m.2 .5h0m-114.9 .6h0m22 .5h0m3.4 .6h0m81.3 .3h0m-104.1 1h0m100.1 -.2h0m2.4 .2h0m-87.3 2.1h0m85.5 -.7h0m-67.7 1h0m77.3 1.9h0m-85.2 .2h0m-8.7 1.5h0m15.2 0h0m3.5 .1h0m11.7 -.6h0m56.6 .8h0m-85.4 .5h0m9.2 -.5h0m7.3 1.4h0m55.1 -.1h0m-51.5 1.5h0m38.2 -.2h0m8.5 .2h0m14.3 -.3h0m-92 .8h0m40.9 .5h0m23.3 .1h0m8 -.3h0m6.8 .4h0m15.2 0h0m.7 -.8h0m-83.8 .9h0m5.2 .9h0m13.2 0h0m10.6 0h0m40.3 -.7h0m-60.2 1.1h0m28.6 .3h0m2.7 -.6h0m21.6 .1h0m.1 -.1h0m28.9 .2h0m-47.4 1.5h0m15.8 .5h0m-7.4 1h0" stroke="#8a2a24" stroke-width="2.6" stroke-linecap="round" fill="none"/>
<path d="M197 106.1h0m12 2.3h0m-1.8 2.8h0m-16.4 1.5h0m7.7 2.8h0m8.6 -.7h0m3.1 .3h0m6.9 -.5h0m-31.9 1.1h0m-15 1.1h0m35.5 .2h0m-4.2 .6h0m-23.7 1.3h0m2.6 -.3h0m1.4 .5h0m19.5 .1h0m-25.1 1h0m7.3 -.7h0m6.9 .4h0m12.5 .6h0m12.9 1.3h0m-11.2 1.5h0m-3.3 1.1h0m-15.5 .4h0m8.1 .7h0m-1.8 .2h0m26.7 .7h0m-39.2 .6h0m26.5 .5h0m5.9 -.4h0m-27.9 2.2h0m35.7 -.6h0m-22.8 1.5h0m6 -.2h0m.4 0h0m13.2 -.4h0m-32.5 1h0m7.1 .4h0m3.1 .5h0m9.8 -.5h0m5.4 -.4h0m-2.9 1.8h0m-9.3 .2h0m4.7 .1h0m-10.3 1.3h0m9.4 -.4h0m.8 .5h0m3.7 -.3h0m5.7 .3h0m-22.6 .8h0m1.2 -.1h0m2.8 .1h0m7.8 -.3h0m14.7 .1h0m5.4 0h0m-35 1.6h0m.4 -.3h0m1.1 1.5h0m5.2 -.4h0m4.8 0h0m-13.7 1.8h0m10.9 -.2h0m20.3 .3h0m12.6 -.4h0m-4.8 .9h0m.6 .9h0m-47.9 .9h0m-1.9 1.5h0m3.5 .2h0m21.6 -.1h0m25.2 .7h0m-44.7 1.6h0m-5.8 .6h0m19.8 -.1h0m10.3 .4h0m-21.2 .4h0m9.9 .1h0m17.1 .4h0m-30.9 1.4h0m39.7 -.2h0m-43.4 1.7h0m7.7 0h0m10.1 .5h0m-25.7 .1h0m5.1 .7h0m31.4 .3h0m20.5 -.9h0m-30.2 1.8h0m1 -.8h0m.1 1.7h0m22.7 -.2h0m4.8 .4h0m6.2 -.7h0m-21.3 1.6h0m-16.7 .2h0m6.4 .7h0m22.3 0h0m2.2 .1h0m-4.8 .3h0m7.9 0h0m-51.7 1.3h0m1.2 .2h0m24.6 -.4h0m37.4 .1h0m-69.2 .9h0m5.6 .1h0m9.2 -.1h0m30.4 -.2h0m-32.6 .9h0m43.5 0h0m-43.1 1.5h0m45 -.2h0m8.7 0h0m-12.2 1.4h0m-67.2 .7h0m14.3 .1h0m2 0h0m34.6 .5h0m1.6 -.3h0m-32.1 .4h0m15.1 1.5h0m41.7 -.6h0m-76 1.2h0m8.8 .2h0m-5.7 1.3h0m7.1 -.3h0m2.1 -.1h0m-4.2 1.4h0m-15.6 .4h0m15.2 .6h0m18 .1h0m9.5 -.7h0m34.5 .1h0m-75.3 1.6h0m24.3 .1h0m-12.9 .7h0m77.3 .2h0m-85.7 2h0m31.5 .1h0m42 -.9h0m3.3 0h0m1.3 .4h0m-4.7 1h0m-3.5 .9h0m2.5 1.7h0m3.6 .7h0m-52.8 .4h0m-46.6 3h0m24.1 0h0m7.4 1.9h0m18.1 1h0m46.5 -.5h0m4.5 .3h0m-59.5 .5h0m-12.3 2.1h0m67 -.2h0m4.1 .4h0m-85.6 1.3h0m2.2 .7h0m23.1 0h0m60.9 -.4h0m-71.6 1.2h0m71.6 .5h0m-71.1 1h0m9.2 -.8h0m-23.8 1.5h0m20.1 .2h0m2.6 1.1h0m.7 -.1h0m-12.8 .6h0m11.7 1.5h0m1.6 .1h0m6.4 .6h0m61.1 0h0m-93.2 .8h0m16.9 -.3h0m64.7 0h0m8.7 .4h0m-73.1 .6h0m1.6 .5h0m1.4 .3h0m68.7 2.7h0m3.2 .3h0m-92.4 .3h0m90.4 .6h0m-113.7 .9h0m114.7 -.3h0m-91.2 3.1h0m8.7 -.1h0m77.5 0h0m-79.4 1.6h0m-19.4 1.1h0m17.8 0h0m80.6 .4h0m-87.5 1.9h0m-18.2 .7h0m39.8 .2h0m7.5 -.2h0m-18.4 1.1h0m1.7 .7h0m7.9 -.4h0m5.1 -.2h0m71 .2h0m-80 2.4h0m-30.2 .5h0m.5 .4h0m13.4 -.6h0m17 1.1h0m2.6 .7h0m-.7 .8h0m72.5 .2h0m-79.5 .5h0m-27.5 2.4h0m4.2 -.5h0m10.8 .3h0m2.4 -.3h0m25.8 -.3h0m63.1 .3h0m-75.1 1h0m12.8 -.1h0m-24.9 1.4h0m11.1 .2h0m11.2 -.9h0m66.7 .6h0m-110.4 .4h0m27.6 .4h0m5.8 -.3h0m-10.5 1.8h0m86.1 -.1h0m-.6 1.8h0m-87.6 1h0m13.1 -.2h0m75.6 -.1h0m4.6 1.2h0m-82.7 .6h0m9 .3h0m-42.8 1.1h0m20.8 .1h0m17.6 -.2h0m74.6 .4h0m-91.5 .8h0m7.6 0h0m5.9 -.1h0m80.1 0h0m-115.8 2.1h0m120.4 .2h0m-93.8 1.8h0m-19.6 1.3h0m18.7 0h0m7 -.4h0m-21.1 1.1h0m9.6 .2h0m1.4 -.1h0m.3 -.3h0m87.1 3.4h0m-93.5 1.8h0m9.3 1h0m86.8 1h0m3.1 -.6h0m-8.6 1.2h0m-96.6 1.2h0m22 3.6h0m80.7 .7h0m1.5 .2h0m-2.3 .8h0m-106.4 1.2h0m2.9 0h0m.8 -.8h0m102.9 .6h0m1.6 .1h0m-4.3 .8h0m-97 1h0m102.5 0h0m3.5 1.7h0m-110.7 .8h0m3.5 .3h0m17.6 -.2h0m82.7 .5h0m6.5 -.4h0m-111.3 1.4h0m12.4 1.6h0m-5 .9h0m10 2.1h0m-20.4 1.3h0m104.3 1.1h0m-93.4 .9h0m9.1 .7h0m-15.5 1.5h0m5.1 .2h0m106.2 -.1h0m-114.4 .7h0m21.4 1.3h0m-16.1 .7h0m11.1 1.5h0m85.5 .2h0m-99.3 1.4h0m7.9 .3h0m-15 .4h0m23.4 -.2h0m91.5 .2h0m-6.1 1.2h0m.4 .9h0m3.9 -.5h0m-103.5 1.9h0m-.2 .3h0m11.3 .6h0m92.1 -.2h0m1 1.9h0m-86.2 1.1h0m-27.2 2.1h0m16.8 .2h0m6.3 -.4h0m-3 1.3h0m94.6 1.6h0m-108 1.1h0m7 .4h0m14.1 0h0m85 -.4h0m-94.2 .8h0m7.9 .2h0m-18.9 3.7h0m10.1 .2h0m94.9 .2h0m-107.4 .5h0m7.7 .5h0m3.4 .2h0m97 -.4h0m-82.5 1.5h0m-11.9 .3h0m-5.1 1.2h0m4.5 1.5h0m15.2 2.1h0m-7.9 .7h0m85.7 1.8h0m-99.4 1.1h0m3.2 .3h0m89.1 -.2h0m6.7 .2h0m-105 2.1h0m5.2 -1h0m95.6 .1h0m4.5 .3h0m-97.7 3.2h0m13.8 -.2h0m-21.7 .7h0m105.7 .4h0m1.3 -.1h0m2.7 -.2h0m-109.4 2.1h0m9.4 .9h0m2.2 .1h0m87.2 .1h0m-77.6 1.2h0m77.9 0h0m-90.8 1.1h0m2.1 -.6h0m100 -.1h0m-96 1.5h0m4.7 -.3h0m-13.3 1.3h0m2.7 .5h0m-5.3 1h0m100.9 -.2h0m.3 -.6h0m1.9 0h0m-112.3 1.9h0m.6 .3h0m2.9 -.1h0m14 .2h0m-4.8 2.2h0m7.7 -.1h0m6.8 2.6h0m83.9 .6h0m3.9 0h0m-113.1 .8h0m15 -.3h0m18.2 .9h0m73 .3h0m-94.2 .7h0m97.6 .9h0m-103.2 1.2h0m1.3 -.2h0m7.7 .3h0m94.2 -.1h0m-85 2.4h0m.3 .5h0m.6 .4h0m78.5 -.5h0m8.3 .8h0m-89.6 .9h0m-13.7 1.6h0m-8.3 1.9h0m10.8 .7h0m18.8 -.3h0m73.1 .2h0m-106.7 .4h0m112.6 .4h0m1.6 -.3h0m-81.4 1.3h0m73.4 -.4h0m-85.9 1.5h0m5.2 .4h0m.7 .3h0m4.5 .4h0m-10.6 .5h0m.7 -.3h0m.7 .6h0m.9 -.3h0m78.9 -.2h0m-72.1 1.5h0m6.6 -.7h0m72.4 .6h0m2.8 .3h0m-92.9 .5h0m-11.5 1.5h0m12 -.9h0m23.9 1.6h0m65.5 .4h0m-103.8 .5h0m99.1 -.3h0m-91.4 2.2h0m84.4 .5h0m-57.3 .9h0m62.7 .1h0m7.8 .3h0m-97.6 1h0m18.1 .2h0m2 -.3h0m13.4 .8h0m48.9 .4h0m4.1 -.1h0m-94 1.1h0m3.5 .8h0m48.3 0h0m34.7 .6h0m10.4 -.2h0m-52.7 .9h0m20.6 .1h0m.9 -.3h0m20.8 0h0m5.8 .2h0" stroke="#d42424" stroke-width="2.6" stroke-linecap="round" fill="none"/>
<path d="M198 135.9h0m1.7 -.2h0m-6.2 1h0m5 .6h0m6.2 -.7h0m3.4 1.4h0m4.9 1.3h0m-6.1 .7h0m.3 .4h0m-18 .7h0m7.3 .1h0m-13.1 1.3h0m-5.9 .2h0m31.5 .6h0m.9 -.3h0m9.8 -.2h0m-29.9 .9h0m18 1.4h0m-.6 2.1h0m2.8 -.3h0m-23.4 1.1h0m6.8 -.1h0m6.2 .1h0m.9 0h0m15 .1h0m-15.7 .8h0m6.4 .2h0m4.8 -.3h0m-18.2 1.4h0m.4 .2h0m8.6 -.8h0m-1.6 1.9h0m2.9 -.4h0m9.7 -.3h0m-16.9 1.2h0m3.1 -.3h0m13.6 .6h0m3 -.3h0m-17.3 1.4h0m6.8 -.3h0m5.3 .1h0m6.7 0h0m2.9 .2h0m-40.3 .2h0m16.7 .9h0m4.7 -.3h0m6.8 -.3h0m-18.5 .9h0m13 .2h0m15.4 .5h0m-36.9 .3h0m4.3 .1h0m1.6 .2h0m3.1 -.6h0m11.3 .1h0m1.1 .3h0m2.3 -.1h0m1.3 .2h0m4.6 .2h0m1.1 -.2h0m-16.4 .9h0m20.2 -.1h0m-42.9 1.4h0m18.2 -.6h0m3 .1h0m6.2 -.1h0m2.2 .6h0m2.4 -.3h0m1.1 -.2h0m1.1 .1h0m10.7 .7h0m-27.8 .2h0m15.7 .7h0m3.7 -.8h0m-33.2 1.8h0m18.1 -.9h0m1.1 .7h0m2.9 -.6h0m6 .1h0m3.5 .1h0m3.4 -.1h0m-41.9 1h0m26.4 .5h0m.7 -.3h0m1 -.4h0m3.4 .1h0m.4 .8h0m7.4 -.4h0m5.8 -.4h0m-43.5 1.3h0m15.8 .4h0m.7 .2h0m7.4 -.7h0m6.5 .2h0m13.2 .4h0m1.6 -.8h0m.7 .9h0m2.9 -1h0m-31.2 1.1h0m10.7 .5h0m.3 -.3h0m-12.7 1.5h0m2.4 -.7h0m9 .3h0m9.3 .6h0m4.4 -.8h0m4.1 .2h0m-37.9 1.1h0m6.5 .3h0m2.7 -.3h0m4.2 .5h0m3.9 -.5h0m6.9 .1h0m7 -.6h0m10.5 .4h0m-29.2 .7h0m3.4 .3h0m3 0h0m-8.6 1.4h0m4.7 -.6h0m6.3 .5h0m12.5 -.3h0m.9 -.1h0m6.4 .7h0m-23.6 .9h0m22.4 -.2h0m3.1 -.5h0m.5 .7h0m-51.7 .2h0m1.3 0h0m.6 .3h0m26 -.2h0m6.3 -.1h0m3.8 .5h0m-17.4 1.3h0m.2 .1h0m12.6 -.5h0m2.6 -.2h0m7.9 .3h0m3 -.3h0m-49.9 1.6h0m20.7 -.6h0m5.8 .3h0m3.9 -.3h0m2.2 -.1h0m8.8 -.1h0m8.3 .5h0m-46 .7h0m25 .3h0m9.9 -.5h0m12.3 .7h0m7.7 0h0m-40.2 .8h0m1.8 -.2h0m1 0h0m2.1 -.4h0m16.2 .1h0m0 .3h0m1.4 -.1h0m7.9 .1h0m4.6 .5h0m0 -.5h0m.9 .3h0m1.9 .2h0m.1 -.2h0m1.9 -.2h0m-48.5 1.1h0m9.6 -.5h0m2.8 .8h0m-20.4 1.1h0m3.7 -.8h0m4.6 .3h0m2.2 .5h0m2.3 -1h0m2.4 .1h0m4.6 .6h0m6.2 -.6h0m25.9 .5h0m-47.6 .5h0m6.7 .2h0m19.5 -.2h0m10.3 .3h0m4.4 -.1h0m5.1 .4h0m4.6 0h0m-59.1 1.1h0m7.6 -.7h0m4 .1h0m9.6 .8h0m3.3 -.8h0m1.9 .6h0m28.3 -.4h0m-50.1 1.2h0m8.7 .4h0m1.6 -.4h0m3.9 -.6h0m2 1h0m14.8 -.7h0m1.9 0h0m8 .4h0m-32.3 .5h0m13.6 .6h0m.6 -.2h0m3.3 .2h0m30.6 -.5h0m-49.6 1.3h0m13.3 .3h0m28 -.3h0m-53.1 1h0m7 -.1h0m3.4 .2h0m3.1 -.2h0m9.6 -.2h0m12.1 .2h0m18.6 .3h0m1.1 .1h0m1.8 -.6h0m3 .6h0m-44.7 .2h0m1.2 .5h0m1.3 -.2h0m1.8 .6h0m30.2 0h0m9.9 -.7h0m-55.8 1.4h0m11.7 -.4h0m1 .1h0m11.7 .4h0m10.9 -.7h0m12.7 .2h0m1.3 -.2h0m2.4 .6h0m3.1 -.5h0m-64.2 .9h0m19.9 .6h0m4.9 -.4h0m5.5 .3h0m30.8 .4h0m-56.9 .8h0m10.6 .2h0m10.3 -.4h0m12.4 .3h0m26 -.2h0m2.2 -.5h0m2.9 -.1h0m-39.5 1.2h0m32.9 .5h0m1.1 -.3h0m1.9 .2h0m5.4 -.6h0m-56.8 1.1h0m3.7 -.2h0m6 .1h0m1.2 0h0m2.9 0h0m.4 .5h0m.1 .3h0m-17.4 1.1h0m5.7 -.3h0m.5 -.7h0m1.1 .8h0m4 .1h0m6.6 -.1h0m1.3 -.7h0m36.2 .4h0m6.6 -.3h0m-71.7 1h0m11 -.2h0m4.4 .2h0m45.7 .2h0m4.4 .4h0m.3 -.5h0m-57.3 1h0m2.6 .5h0m.1 -.7h0m3.2 .1h0m3.3 .5h0m2.8 -.5h0m4.6 .3h0m39.7 .4h0m4.9 -.5h0m-56.6 1.5h0m6.6 -.4h0m-14.5 1h0m2.7 0h0m3.7 -.3h0m6.8 .5h0m.3 -.4h0m9.1 .4h0m38.7 0h0m.2 .2h0m1.3 -.4h0m.2 .3h0m-63.3 1.1h0m5.6 -.5h0m6.5 -.2h0m8.9 .5h0m1.8 -.4h0m39.3 -.1h0m-68 1.3h0m19.7 .5h0m2.8 -.7h0m42.3 -.2h0m7.1 .3h0m-59.9 1.6h0m3.8 -.9h0m4.5 0h0m10.1 0h0m39.6 .6h0m-68.8 1h0m10.2 -.5h0m10.4 .2h0m42.4 -.4h0m-56.2 1.1h0m58.8 .6h0m-56.5 1.1h0m10.7 -.1h0m1.4 .1h0m-8.7 .4h0m2 .7h0m49.3 -.4h0m2 .4h0m.4 0h0m5.8 -.6h0m-67.5 1.1h0m6.3 .4h0m3.1 0h0m48.5 -.1h0m1.9 1.2h0m1.7 -.7h0m-53.9 1.7h0m4.3 -.5h0m47.4 .2h0m8.4 .3h0m-55.1 .9h0m5.5 -.5h0m-26.6 1.5h0m9.7 0h0m10.4 .1h0m45.7 -.8h0m2.9 .2h0m4.2 1h0m-69.7 1.1h0m9.8 -.4h0m.7 .5h0m3.9 -.3h0m3.7 -.1h0m1.6 0h0m2.4 0h0m-19.1 2.2h0m8.3 -.3h0m5.1 .4h0m56.7 -.1h0m-69 1.6h0m-.6 .3h0m9.4 .6h0m52.3 -.3h0m2.9 -.3h0m-53.4 1.5h0m50.9 -.6h0m-68.9 1.4h0m9.5 .4h0m5.8 -.3h0m55 0h0m-56 .5h0m1.8 .1h0m.5 .6h0m54.2 -.3h0m3.4 .1h0m-73.6 .5h0m8.9 .6h0m-4.3 1.5h0m3.7 .6h0m3.8 -.2h0m-18.7 .7h0m16.5 .3h0m1.4 .2h0m57.7 -.7h0m.8 .6h0m5.1 -.6h0m-69.5 1h0m2.5 .8h0m-11.4 .6h0m75.3 .1h0m-70.9 1.3h0m4.9 -.8h0m69.5 .4h0m-78.6 1.5h0m21.2 -.2h0m2.7 -.7h0m-15.9 1.8h0m7.5 -.4h0m-21 .6h0m9.5 .6h0m4.1 -.3h0m1.9 -.3h0m66 .8h0m2.4 0h0m-68.8 .6h0m2.3 -.5h0m7.2 .7h0m1.1 1.2h0m51.3 -.5h0m3 .3h0m2 -.7h0m2.3 .4h0m-69.6 1.6h0m2.8 -.8h0m2.1 .2h0m3.3 -.3h0m.4 1h0m55 .6h0m-60.1 .6h0m62.8 .7h0m-68.6 .8h0m61.9 -.7h0m-70.7 1.2h0m12.2 0h0m62.9 .6h0m-64.7 1.3h0m65.2 .5h0m-58.5 .7h0m5.1 .1h0m50.6 -.4h0m7.2 .1h0m-86.5 1.3h0m6.8 -.4h0m9.9 .9h0m62.1 -.9h0m6.9 .9h0m1.3 -.7h0m-77 1.3h0m.1 -.5h0m71.6 .9h0m6.1 -.9h0m-81.3 1.2h0m3.3 .2h0m3.5 .3h0m7.4 -.5h0m-10 .9h0m.7 .4h0m.1 -.3h0m73.3 .2h0m-69 1.1h0m73.2 .4h0m-82.4 .3h0m13.6 1.2h0m56.1 0h0m-66.7 1h0m8.1 -.4h0m2.2 .6h0m59 -.2h0m2 .4h0m-83.9 .3h0m22 1.1h0m-20.3 1.4h0m3.5 .2h0m11.3 -.4h0m.2 0h0m-.1 1.1h0m5.9 -.6h0m-13 1.7h0m12.1 -.3h0m66.3 .5h0m-71.6 .8h0m5.7 0h0m57.2 -.1h0m-56.7 .8h0m61.4 -.2h0m-82.7 1.2h0m19.8 .2h0m1 -.3h0m64.2 .5h0m-88 1.6h0m1.3 -.1h0m90.6 -.2h0m-8.8 3.5h0m-.2 .4h0m5.4 .1h0m-.8 1.3h0m-77.7 1.4h0m77.8 -.8h0m-85.4 1.4h0m11 -.1h0m-.7 1.3h0m79.9 .1h0m-88.5 .8h0m83.9 -.1h0m-76.1 1.3h0m78 -.5h0m-85.3 1.1h0m13.6 .6h0m-10.4 .6h0m2.1 .1h0m5.2 -.5h0m3.2 .8h0m72.3 0h0m-91.4 .9h0m3.1 -.7h0m85 1.3h0m-91.4 .8h0m2.2 .2h0m10.4 -.3h0m77.6 .1h0m-73.1 2.2h0m72.3 .5h0m1.6 -.3h0m3.6 -.1h0m-84.5 1h0m79.6 .4h0m5 .1h0m-5.5 .4h0m2.3 -.1h0m1.1 0h0m-84.9 .9h0m13.6 .6h0m69 -.1h0m-79.2 .7h0m78.9 .4h0m-2.7 .8h0m1.2 1.2h0m-76.9 .2h0m76.7 .4h0m.3 -.4h0m-79.3 1.5h0m82.9 -.2h0m-74.8 .8h0m69.7 .7h0m-71.9 1.2h0m74.2 -.3h0m-80.6 .7h0m8.4 .3h0m72.5 -.1h0m-91.3 1.3h0m10 -.9h0m81.9 0h0m-91.7 1.5h0m92.9 -.3h0m-80.9 1.5h0m79.4 .1h0m-80 1h0m76.8 -.4h0m2.6 .3h0m5.3 -.1h0m-81 .6h0m74.8 -.2h0m1.2 .3h0m1.9 1.3h0m-83.4 1h0m7.7 0h0m74.9 .1h0m-81.1 .8h0m3.8 .1h0m-9.9 1.9h0m88.6 -.2h0m-80.7 1.2h0m5 .4h0m76.9 -.3h0m-5.3 1.1h0m5 .2h0m-82.7 .5h0m80 -.1h0m6.7 .8h0m-84.8 1.9h0m1.4 .8h0m74.9 -.7h0m-82.7 1.9h0m84.4 -1h0m-82.2 1.6h0m80.3 -.5h0m-70.1 1h0m-6.9 1.7h0m82.2 .7h0m1.6 .3h0m-87.7 .4h0m3.9 -.1h0m79.4 .8h0m2.7 -.8h0m-77.5 1.4h0m75.3 -.3h0m-80.8 1.2h0m79.6 -.2h0m1.4 .3h0m-79.6 1.1h0m78.4 -.3h0m-84.5 1.6h0m4 .1h0m.3 -.7h0m76.3 .4h0m-80.2 1.1h0m14.8 0h0m-11.4 .4h0m80.1 .5h0m1.2 -.2h0m6 -.1h0m-.9 1.9h0m-99.6 1.3h0m9.8 -.5h0m8.2 .2h0m-4.3 1.7h0m11.1 .9h0m73.9 -.1h0m-84.1 1h0m77.2 .7h0m6.8 0h0m-9 .7h0m1.5 .4h0m4.3 -.2h0m-91.5 1.2h0m13.9 -.1h0m75.2 .9h0m-2.9 .7h0m5.8 .2h0m-91.5 1.7h0m5.5 -.3h0m79.1 .1h0m6.2 .2h0m-77.1 .8h0m76 -.1h0m-76.2 .7h0m1.1 .5h0m1.1 -.4h0m73.9 -.1h0m.9 .5h0m-75.9 .8h0m1.2 .2h0m3 -.4h0m4.5 -.4h0m67.6 .5h0m-88 1.1h0m3.7 -.7h0m14 .8h0m64 -.1h0m-69.6 .9h0m3.3 -.5h0m-7 .9h0m4.3 1h0m.8 -1h0m1.3 .4h0m70.4 .4h0m-1.7 .6h0m2.2 0h0m.5 -.2h0m-81.9 1.8h0m4.1 -.3h0m9.1 .2h0m-20 .2h0m13.9 .7h0m70.5 -.5h0m-91 1h0m21.4 1.3h0m2.9 2.2h0m69.6 -.4h0m-83.7 1.2h0m9.6 .1h0m2.2 -.6h0m.3 .3h0m-8.8 1.6h0m10.7 -.9h0m67.7 .8h0m-78.7 1h0m74.9 .4h0m-78.8 1.3h0m22.5 -.4h0m60.4 -.2h0m-63.4 1.2h0m60.3 .5h0m7.5 -.5h0m-77.5 .9h0m71.9 .7h0m0 -.3h0m8.2 -.1h0m-82.5 1.4h0m10.5 -.6h0m-1.9 1.4h0m59 -.3h0m2.7 .7h0m8.8 -.3h0m-61.2 .4h0m54.9 -.1h0m1.6 .2h0m.2 .1h0m-71.1 1.5h0m7.8 -.4h0m8.5 .5h0m60.3 -.5h0m-81.2 1.5h0m13.8 -.1h0m3.6 -.5h0m52.6 -.2h0m.9 0h0m1.2 .4h0m-78.7 1.1h0m69.1 0h0m18.9 -.6h0m-75.2 1.1h0m13.4 .8h0m4.9 -.8h0m36.7 .3h0m13.6 -.1h0m3.6 -.2h0m.7 .8h0m-80.1 .7h0m10.1 -.3h0m1.9 -.3h0m6 .8h0m5.4 -.2h0m-8.9 1h0m4.3 .3h0m29.9 -.3h0m19.3 0h0m8.2 -.1h0m4.7 -.2h0m-66.6 1.5h0m1.4 -.1h0m3.5 -.4h0m.2 .4h0m7.3 .2h0m.1 -.1h0m31.5 -.5h0m8.9 .5h0m1 -.1h0m10.9 -.2h0m-67.6 1.5h0m2.7 -.9h0m5.7 0h0m2.1 .3h0m1 .3h0m41.6 -.5h0m5.3 .5h0m-53.2 .7h0m8.9 .4h0m.5 -.2h0m23.1 -.2h0m1.2 -.2h0m3.9 .2h0m12.7 .5h0m3.9 .1h0m-45.6 .9h0m15.3 .1h0m9.6 -.8h0m1.8 0h0m7.6 .4h0m1.5 .2h0m4.2 -.5h0m1.8 .2h0m10.5 .3h0m-58.1 1h0m2.3 -.3h0m5 -.2h0m.1 .1h0m15.4 .1h0m5.5 .4h0m11 0h0m4 -.5h0m11.5 -.2h0m-28.4 1.4h0m.1 -.5h0m1.7 .7h0m-32.9 .4h0m21.9 .4h0m9.1 -.2h0m9 .2h0m1.1 -.4h0m11.5 .1h0" stroke="#dc1e1e" stroke-width="2.6" stroke-linecap="round" fill="none"/>
<path d="M203.7 159.1h0m-5.9 4.1h0m-1.2 .7h0m-.9 1.3h0m18 -.2h0m-13.4 2.3h0m5.9 -.6h0m1.2 .3h0m5 -.4h0m-15.6 1.6h0m1.1 -.5h0m3.2 .1h0m-6.6 2.3h0m2.6 .3h0m19.8 -.6h0m-26 2.5h0m4.9 .1h0m2.6 -.9h0m1.6 .4h0m1.5 -.3h0m11.3 .4h0m2.6 .4h0m-3.7 .9h0m-18.2 .2h0m4.6 .5h0m8.9 .2h0m4.5 .1h0m2 -.1h0m.5 -.2h0m-12.5 .9h0m4.5 .2h0m4.8 -.2h0m2.7 .2h0m-23.6 .6h0m2.4 .1h0m16.3 -.1h0m-6.6 1.2h0m1.4 .2h0m-6.1 .8h0m1.4 -.3h0m1.5 -.1h0m3.9 .8h0m5.7 -.2h0m-20.7 .8h0m5.7 -.2h0m.7 .5h0m5 -.3h0m6.3 .1h0m.5 .4h0m3.7 -.5h0m2.5 .2h0m-19.1 1.4h0m1.6 -.1h0m9.3 0h0m-20.6 .7h0m10.7 -.4h0m7.4 .4h0m7.8 .1h0m3.3 -.4h0m6.1 -.1h0m-29.8 1h0m5 .5h0m3.8 -.2h0m4.4 .4h0m5.1 -.5h0m7.1 .3h0m-28.9 1h0m16.5 -.2h0m8.7 .3h0m-24 .2h0m13.4 .3h0m9.2 .5h0m4.3 -.7h0m2.8 .5h0m.7 .2h0m1.7 -.1h0m-39.1 .5h0m2.8 .3h0m.3 -.1h0m10.4 -.4h0m2.5 .6h0m14.2 .3h0m3.5 0h0m6.3 -.6h0m.5 0h0m-31.1 1h0m1.1 .5h0m9.3 -.6h0m13.4 .7h0m-24.3 .7h0m4.9 .1h0m3 0h0m13.9 -.6h0m-27.7 1h0m.6 .7h0m6.3 .2h0m2 -.6h0m1.7 -.3h0m.1 .3h0m1.9 1.1h0m16.4 0h0m3.4 .4h0m.3 -.2h0m.2 -.2h0m1.7 .1h0m-37.8 .5h0m9.4 .5h0m2.7 -.5h0m1.2 .8h0m-11.3 .4h0m1.1 .3h0m.4 -.2h0m5.5 .6h0m1.3 -.8h0m1.8 .3h0m26 .2h0m-32.5 .5h0m28.7 -.1h0m2.5 .5h0m-39.1 .7h0m13.3 .3h0m.1 -.6h0m24.5 1h0m-25.8 .3h0m26.6 .1h0m4.2 .2h0m.6 -.1h0m-37.3 1h0m4.6 .1h0m27.6 -.3h0m-37.4 1.6h0m38.4 -.3h0m-41.8 .7h0m3.5 -.3h0m-2.4 1.9h0m11.7 -.6h0m28.8 .2h0m1.6 -.3h0m.8 .5h0m-43.9 .7h0m1.4 -.2h0m3.6 .3h0m2.1 .4h0m.9 -.4h0m.4 -.2h0m3.3 .1h0m0 -.1h0m-9.8 1.2h0m40.7 .5h0m-42.7 .2h0m44.7 -.2h0m-39.4 1h0m5.3 .8h0m-1.6 .9h0m37.4 -.6h0m-49.8 1.2h0m1.4 .6h0m1.5 -.1h0m10.4 -.5h0m33.2 .5h0m-36.9 .8h0m-3.2 .4h0m-4.4 1.8h0m7.8 -.1h0m39 0h0m-50.2 .3h0m8.5 .5h0m2.2 0h0m-6.3 2.3h0m6.1 -.7h0m.8 .4h0m40.3 -.3h0m-39.8 2.2h0m36.7 -.2h0m-.4 .9h0m-50.9 1.5h0m7.4 -.6h0m44.4 2.3h0m1.1 .3h0m-43.1 1.3h0m42.9 -.6h0m-51 1h0m50 .4h0m-52.2 1h0m54.3 0h0m-44.9 .9h0m43.1 .2h0m.1 0h0m2.7 0h0m.6 -.4h0m.5 .1h0m-57.8 .9h0m3.4 -.4h0m2.6 .1h0m4.5 0h0m.4 .4h0m42.8 .2h0m3.9 -.7h0m-49 1.2h0m-2.7 .9h0m2.5 .7h0m1.3 -.3h0m-1 1.1h0m-4.1 .6h0m51 .2h0m-57.5 1.5h0m7.6 -.2h0m.2 -.5h0m3.5 .5h0m-3.7 .4h0m48.2 .1h0m.4 0h0m-47.7 1.4h0m1.4 .2h0m51.2 -.3h0m-57.1 2h0m6.3 -.4h0m50.1 .5h0m-60.9 .7h0m56.1 .4h0m-49.2 1.2h0m.1 1h0m52.5 -.4h0m-52 .8h0m51 -.1h0m-60.6 1.1h0m.4 .6h0m60.7 -.7h0m-57.1 1.1h0m5 .3h0m52.3 -.5h0m.6 .3h0m-53.6 .8h0m49.8 .7h0m-54.2 .4h0m2.3 .4h0m52.2 1.1h0m.1 .3h0m4.1 .3h0m-66.5 1.4h0m1.4 -.7h0m3.5 .1h0m6.5 .1h0m-2.7 .8h0m4 .7h0m50.2 -.1h0m1.6 -.3h0m-54.4 .9h0m.2 .2h0m52.4 -.4h0m4.6 1.5h0m-65.8 1.2h0m8.7 -.5h0m55.1 .4h0m-56.5 .7h0m1 1.3h0m-2.2 1h0m1 -.4h0m54.8 .4h0m-60.6 1.2h0m2.1 -.5h0m.6 -.2h0m.9 .4h0m-10.4 .6h0m5 1.3h0m1.3 .1h0m-.6 .8h0m.2 .5h0m2.8 -.3h0m59.5 .9h0m-68.6 1h0m8 .3h0m60.4 -.1h0m.7 -.3h0m-65.2 .8h0m3.7 0h0m2.3 .4h0m-8.5 1.2h0m3.2 -.4h0m4.8 -.4h0m-5.4 1.4h0m2.2 .5h0m-3.4 .2h0m1.8 .1h0m2.2 .6h0m-.8 .4h0m.3 -.1h0m1.5 0h0m64 .5h0m-72.7 1.2h0m3.8 -.2h0m66.6 .1h0m-2.5 .6h0m-66.4 1.6h0m66.6 -.4h0m-66 1.4h0m1.9 -.4h0m3 -.1h0m-.5 1.3h0m62.5 .3h0m-66.9 .7h0m2.8 .2h0m.7 0h0m.9 -.8h0m61.7 0h0m2.1 .7h0m-67.4 .5h0m.3 .4h0m1.3 -.3h0m.7 .6h0m65.7 -.8h0m-64.6 1.5h0m.1 -.3h0m65.5 -.2h0m-73.7 1h0m7.8 .2h0m-4.1 1.4h0m67 .5h0m-71.6 1.4h0m9.5 -.1h0m62.6 .6h0m-69.1 .9h0m.1 0h0m4 .8h0m1.6 -.4h0m63.1 -.4h0m.5 .4h0m-67.8 1.2h0m2.2 -.6h0m1.4 .1h0m62.1 .8h0m.5 -.5h0m-70.5 .7h0m3.9 .2h0m4.1 1.4h0m64.1 -.4h0m1.1 .4h0m2.5 -.3h0m-5.3 1.3h0m-70.9 .5h0m1.2 .2h0m1.7 .5h0m2.5 -.4h0m66.5 -.3h0m-64.3 .8h0m.2 .9h0m63.4 -.8h0m-63.5 .9h0m1 .2h0m-11.9 1.3h0m5 1h0m1.6 .3h0m5 -.9h0m0 .1h0m63.2 .8h0m-63.5 1h0m62.4 -.3h0m-70.6 1.3h0m3.4 .4h0m2.9 -.2h0m64.7 .5h0m-69.1 2h0m.7 2.9h0m2.6 1.3h0m67.5 -.7h0m-73.9 1.9h0m6 -1h0m1.1 .3h0m1.6 .4h0m-9.3 .7h0m6.9 .1h0m-.7 1.1h0m-3.4 1.2h0m3.2 0h0m68.7 .1h0m-73.3 .4h0m6 .5h0m.3 -.3h0m65.4 .4h0m-65.2 .2h0m1.1 .3h0m65 -.1h0m-2.7 1.1h0m.5 -.1h0m1.7 .4h0m-73 1h0m5.7 .2h0m3.2 0h0m.1 -.5h0m62.6 -.1h0m.4 .5h0m.1 -.3h0m-72 .7h0m74.2 0h0m-71.8 1.3h0m6 .2h0m-8.1 1.2h0m2.1 -.4h0m-2 1.1h0m1.4 .5h0m1.1 .6h0m4.4 -.3h0m.7 2.4h0m-5 .8h0m5.1 .2h0m-8.5 1.1h0m4.2 -.3h0m.3 -.4h0m3.5 .2h0m-4.1 2.3h0m3.2 2.1h0m-.4 1.8h0m.7 -.5h0m63 .7h0m-62.4 .7h0m2.5 0h0m.2 .3h0m-3 .2h0m64.2 .2h0m2.9 .7h0m-68.5 .6h0m4 -.3h0m.7 .3h0m-6.8 .7h0m2 -.2h0m3.2 .1h0m66 1.4h0m-70.5 .7h0m6.6 -.1h0m-10 1.5h0m5.4 .1h0m3.2 .3h0m59.9 -.4h0m-62.7 .8h0m5.7 1.1h0m58 -.4h0m-63.8 1.3h0m6.2 .3h0m55.8 0h0m.2 -.1h0m-61.3 1h0m.2 -.5h0m.6 .2h0m1.9 0h0m2.9 -.1h0m57.8 .5h0m.1 .1h0m-61.2 .5h0m3.5 .3h0m-7.5 1.1h0m6.3 -.5h0m58.7 .5h0m1.3 1h0m-58.2 .4h0m54.7 .7h0m-64.1 1h0m6.2 -.2h0m1.1 -.2h0m3.5 0h0m54.2 0h0m-59.8 1.2h0m.1 1.1h0m4.7 -.4h0m.8 .5h0m55.9 -.6h0m-58 1.1h0m55.6 .7h0m-53.4 1.1h0m51.7 .4h0m-51.7 1.4h0m3.4 -.2h0m46.5 -.1h0m.4 .2h0m-56.3 .8h0m2.8 -.3h0m4.3 .6h0m1.2 -.7h0m.1 -.1h0m49.9 .3h0m.5 .3h0m-61.9 .3h0m3.8 .4h0m3.9 .5h0m1.8 -.6h0m-6.6 .9h0m3.5 .2h0m9.4 .6h0m40 -1h0m5.3 .9h0m-46.4 .3h0m39.9 .5h0m.4 -.4h0m1 -.3h0m-50.4 1.9h0m9.7 -.8h0m38.5 .6h0m1.7 -.6h0m2.4 .7h0m4.4 0h0m-47.5 .5h0m48.5 .5h0m-61.4 .8h0m10.8 -.1h0m.4 .5h0m2.1 -.7h0m41.8 .2h0m1.6 -.4h0m1.6 .8h0m-9 .1h0m-38.1 1.4h0m4.8 .6h0m38.7 -.9h0m.2 0h0m4.3 .3h0m-50.1 .9h0m.6 -.1h0m5.9 .1h0m12.5 .4h0m7.6 -.1h0m5.4 .3h0m4.7 -.5h0m.8 -.3h0m7.7 .5h0m7.1 .4h0m-53.5 .6h0m.6 .1h0m2.3 -.6h0m5.7 .3h0m4.1 -.3h0m15.8 .8h0m2.9 -.7h0m8.6 .2h0m2.4 -.3h0m-30.4 1.4h0m2.8 -.1h0m7.7 .5h0m5.5 -.5h0m4 .4h0m-32.5 .3h0m16.3 .6h0m.8 -.5h0m.1 .7h0m2.1 -.7h0m3 .1h0m4.6 -.3h0m3.4 .7h0m.9 -.7h0m-28.1 1.3h0m3 .5h0m16.4 -.5h0m-9.2 1.7h0m3.5 -.2h0m10.3 -.2h0m.5 -.2h0m2.3 -.4h0m9.7 .5h0m-24.5 .6h0" stroke="#f00c0c" stroke-width="2.6" stroke-linecap="round" fill="none"/>
<path d="M196.9 178.5h0m4 .5h0m0 1.2h0m8.8 -.3h0m-8.4 2.6h0m1.7 .2h0m4 .4h0m-13.6 1h0m18.3 -.2h0m-13 1h0m16.5 .3h0m-11.6 .5h0m8.5 -.1h0m-11.6 2.9h0m.3 .5h0m-9.5 1.1h0m13.9 .6h0m6.9 .7h0m-24.4 .3h0m18.2 .3h0m9.5 .2h0m-23.6 .6h0m14.6 .6h0m-13 3.7h0m17.2 .1h0m-26.3 1.3h0m16.3 -1h0m6.9 .6h0m11.7 -.4h0m-2.6 1h0m-18.4 2.1h0m4 -.2h0m-19.3 2.9h0m12.4 -.8h0m-8.3 1.2h0m.9 .5h0m1.4 -.6h0m14 .5h0m2.8 -.6h0m-3.4 1.2h0m-12.5 .7h0m12.7 1.7h0m15 -.4h0m-13.7 1.2h0m8.5 -.6h0m-29 1.2h0m8.4 .4h0m8.9 0h0m-8.2 .6h0m4.2 -.2h0m12.9 .3h0m5.9 .5h0m2.6 .7h0m-39 .6h0m3.3 .4h0m31.2 -.1h0m-26.2 .7h0m6.1 .9h0m-1.5 1.7h0m20.7 .6h0m4.4 .1h0m-33.6 2.6h0m10.1 -.9h0m-17.7 1.7h0m38.6 -.7h0m.9 .8h0m-41.5 .4h0m45.2 1.6h0m-13.7 .6h0m6.1 -.4h0m-37.5 1.8h0m17.3 -.8h0m5.8 2.7h0m2.2 -.1h0m-8.4 .9h0m20.2 -.5h0m-34 1.8h0m4.1 0h0m13 -.4h0m19.3 -.2h0m-40.8 1.3h0m1.4 .3h0m27.8 -.7h0m11.6 .1h0m-14.3 1.5h0m10.6 -.6h0m6.7 .4h0m-36.1 2.3h0m37.4 -.2h0m-30.4 .9h0m11.6 -.1h0m12.5 0h0m5.7 -.1h0m4 .1h0m-46.6 1.2h0m7.9 -.7h0m10.2 .7h0m5.6 -.1h0m-16.6 .7h0m31.9 .3h0m-34.5 1h0m.7 -.1h0m7.4 -.4h0m18.2 .1h0m-14.3 1.4h0m22.9 .3h0m-44.6 .2h0m15.5 .8h0m22.8 .1h0m-31.5 .8h0m10.7 0h0m12 -.3h0m2.9 .4h0m-.3 .4h0m-33.6 1.9h0m3.4 .2h0m19 0h0m20.2 .5h0m-40.9 .5h0m.6 -.2h0m14.2 .5h0m26.8 .1h0m8.4 -.5h0m-45.7 .8h0m7 .3h0m32.2 0h0m8.5 -.3h0m-44.6 .9h0m11 .4h0m-16 .9h0m22.1 -.2h0m5.5 .7h0m1.2 .1h0m4.4 0h0m1.3 -.4h0m11.7 -.3h0m-9 .9h0m3.3 1.9h0m-28.7 .3h0m16.6 .3h0m2.5 -.5h0m-41 1.5h0m22.3 .2h0m13 -.4h0m13.6 -.1h0m-40.2 1.5h0m5.8 -.8h0m39.1 .6h0m-37.9 .6h0m3 -.2h0m24.1 .8h0m-41 .2h0m21.7 .5h0m8.6 .3h0m25.2 -.1h0m.2 -.1h0m-59.5 .9h0m13.3 0h0m14 -.1h0m-24.2 1.2h0m30.3 -.1h0m25.2 .1h0m-31.6 .9h0m-29 1.1h0m33.2 .4h0m17.7 -.1h0m3.6 -.3h0m-38.9 .8h0m9.3 -.3h0m11.2 .1h0m25.6 .5h0m-54.1 .7h0m15.1 .1h0m-15.6 1.7h0m1.6 .4h0m6.4 0h0m24 -.3h0m-38 2h0m.1 .4h0m6.7 -.3h0m32.2 .3h0m.2 0h0m-9.5 1.3h0m-27.9 .4h0m8.9 1.3h0m7.9 -.5h0m19.1 .3h0m-34.6 .7h0m44.8 .3h0m-51 1.1h0m7.8 -.5h0m1.5 .3h0m25.2 0h0m17.6 .2h0m-19.2 1.3h0m12.7 -.7h0m1.7 .1h0m1.4 .6h0m-28.9 .4h0m23.9 -.2h0m21 .6h0m-60 .9h0m1 0h0m59.9 -.5h0m-47.5 1.8h0m-10.6 .4h0m25.2 .6h0m.1 -.1h0m2.9 -.7h0m14.4 .9h0m6.1 -.9h0m-44.3 1.4h0m10.6 0h0m7 .1h0m18.1 -.3h0m2.4 -.2h0m6.1 .9h0m5.3 -.7h0m-51.1 .7h0m.5 .2h0m7.3 1.1h0m20.9 .5h0m23.2 -.2h0m.1 -.2h0m-31.8 1.6h0m12 -.1h0m10.3 -.2h0m6.8 -.6h0m3.1 .1h0m-18.1 1.3h0m-21.4 .7h0m1.7 -.1h0m-18.5 1.2h0m10.7 0h0m15.7 1.2h0m4.9 -.1h0m3.9 .2h0m5.2 .2h0m-31.2 1.1h0m45.3 -.7h0m-39.9 1.3h0m11.9 .2h0m27.8 -.6h0m-36.6 1.7h0m15.3 0h0m18.9 0h0m6.1 -.7h0m0 1h0m-50.9 1.1h0m19.4 .8h0m25.9 -.1h0m1.9 -.4h0m-59.3 .5h0m12.1 .7h0m17.9 0h0m20.8 -.1h0m-23 .8h0m-9.6 .9h0m19.6 -.3h0m14.4 .2h0m4.5 0h0m-7.7 1.5h0m-39.6 1.2h0m33.8 -.1h0m-8.9 .5h0m15.8 .4h0m4.6 .2h0m7 -.2h0m-47.1 .5h0m29.7 -.1h0m3.8 .8h0m-27.3 1h0m10.7 -.7h0m-27.5 1.5h0m10 .2h0m16.2 -.2h0m25.7 -.6h0m-50.3 1.2h0m30.5 .2h0m27.1 .3h0m-26.7 .6h0m-16.2 1.2h0m1 -.3h0m-14.5 .8h0m10.8 .1h0m8.3 .2h0m-22.5 1.6h0m3.3 -.3h0m15.9 -.1h0m37.9 -.1h0m2.6 0h0m-64.7 1.3h0m20.5 .1h0m22.3 0h0m1.8 -.5h0m16.4 -.4h0m-45.5 2h0m1.8 -.1h0m5.8 .7h0m5.3 -.2h0m15.7 1h0m-6.4 .7h0m18.9 .7h0m-28.2 .7h0m3.1 .1h0m28.6 .3h0m-58.2 .9h0m11.4 -.7h0m24.3 .3h0m9.8 -.3h0m7.3 .7h0m-13.8 .4h0m4.9 -.2h0m5.3 .4h0m-46.9 1.3h0m9.5 -.7h0m2.2 .4h0m11.9 .5h0m26 -.4h0m-34.8 .9h0m45.7 .5h0m-62.9 .9h0m7 -.1h0m9.5 -.6h0m20.1 .5h0m14.8 -.4h0m-20.2 1.6h0m-20.5 .5h0m18 .5h0m1.2 0h0m22 -.1h0m2 -.5h0m.4 .1h0m-38.7 1.1h0m6.1 -.2h0m7 .7h0m30.1 -.4h0m-53.4 .8h0m-5.5 1.6h0m29.6 -.5h0m3.5 -.2h0m14.5 .2h0m8.8 .4h0m-41.1 .8h0m28 -.3h0m-30.3 1.7h0m22.7 -.2h0m22.9 .1h0m-56.9 .7h0m12.2 .2h0m19.6 -.2h0m2.8 .4h0m21.7 -.1h0m3 -.2h0m-41.3 .7h0m37.5 -.2h0m-57.3 1.7h0m4.6 -.4h0m20.4 .4h0m1.6 -.1h0m3.7 -.7h0m7.4 .6h0m5.4 -.7h0m4.8 .8h0m8.5 -.1h0m-57 .4h0m2.1 .7h0m31.8 .2h0m20.1 -.3h0m-28.8 1h0m7.8 .2h0m.9 -.2h0m6.3 0h0m2.6 .3h0m18.4 1h0m-2 .5h0m-40.7 1.1h0m27.7 .7h0m-27.1 1.1h0m24.6 .1h0m5.4 -.4h0m6.6 .7h0m-53.1 .4h0m35.6 .3h0m2.8 -.4h0m16.7 .7h0m-31.4 .2h0m1 .8h0m23.3 -.3h0m5.7 .4h0m1.9 -.3h0m-39.5 .8h0m8.1 -.3h0m.9 .6h0m1.2 -.6h0m-4.7 1.6h0m7.5 -.4h0m6 0h0m-26.4 .9h0m9.6 .4h0m.7 .4h0m21.8 -.9h0m6.5 .9h0m-22.6 .4h0m1.2 1.1h0m4.5 -.1h0m22.6 -.2h0m-38.3 1.1h0m24.5 .4h0m-32.6 .3h0m24.8 .7h0m.6 .3h0m6.3 -.1h0m-34 1h0m1 -.3h0m3.7 .3h0m42.3 -.6h0m-36.1 2.2h0m29.1 0h0m-36 1.5h0m28.4 .4h0m13.4 -.3h0m2.8 .4h0m-44.9 1.3h0m-.2 .8h0m26.4 -.4h0m1.8 0h0m6.9 .2h0m-9.6 1h0m11.5 1.2h0m-25.4 1.4h0m12.7 -.3h0m6.3 -.3h0m10.7 .1h0m-11.8 1.4h0" stroke="#ff9aa8" stroke-width="2.5" stroke-linecap="round" fill="none"/>
<path d="M191 354.4h0m-5.6 .7h0m61.3 1.2h0m-19.1 .5h0m-43.4 2.3h0m34.5 0h0m-32.3 1.2h0m15.4 -.7h0m11.8 .3h0m-42.4 .6h0m26.2 .3h0m6.2 .4h0m23.4 .1h0m3.4 .1h0m12.3 -.6h0m-67.7 1.4h0m35.2 -.3h0m24.2 1.6h0m-49.6 1h0m4.4 1h0m-63.8 .8h0m10.5 0h0m99.1 .5h0m-67 1.1h0m76.8 0h0" stroke="#5e4a26" stroke-width="2.5" stroke-linecap="round" fill="none"/>
<path d="M169.4 369.3h0m8.8 .2h0m84.1 .3h0m-114.2 .9h0m-7.6 2.7h0m100.9 .1h0m-119.7 1.2h0m34.4 .4h0m91.9 -.5h0m-4.4 1.7h0m-106.5 .5h0m107.5 .4h0m-73.6 1.9h0m-20.9 2.1h0m98.5 .9h0m-89.2 4.2h0m79 -.1h0m-89 3.8h0m96.3 1.5h0m10.5 1.2h0m-131.5 1.7h0m35.2 .5h0m-14.7 2.9h0m105.2 -.2h0m2.4 1.3h0m-90.5 1.4h0m-30.2 .6h0m49.4 .6h0m-41.7 1.3h0m16.8 .4h0m-28.3 .7h0m39.6 .2h0m96.7 -.3h0m-99 3.3h0m-21 1.3h0m-26.6 .8h0m8.9 .8h0m127.6 .4h0m-120.7 1.8h0m27.3 -.4h0m80.2 2h0m13.7 -.2h0m-73.3 1.6h0m-9.3 1.7h0m2.4 .9h0m-13.6 1.4h0m4.3 1.1h0m-2.9 1.2h0m85.2 .3h0m-88.6 2.4h0m86.6 .7h0m-86.8 2.4h0m66.6 1.7h0m-34 1.3h0m40.8 .6h0m29 -.4h0m-59.1 2h0m-14.6 9.3h0" stroke="#74843e" stroke-width="2.5" stroke-linecap="round" fill="none"/>
<path d="M252.1 369.4h0m-76.6 .9h0m-42.9 .8h0m24.9 .4h0m88.9 .9h0m-72.1 .2h0m-41.4 2.1h0m49.2 .5h0m-22.8 .4h0m-17.3 1.5h0m30.2 .6h0m70.2 -.1h0m2.1 .3h0m-91.9 4.7h0m-14.2 2h0m18.6 .2h0m5.5 1.4h0m2.5 1.5h0m-6 2.7h0m84.8 -.6h0m-117.1 .9h0m-3.9 1.5h0m40.3 -.2h0m91.5 -.2h0m-7 1.4h0m-98.3 5.1h0m9.9 -.7h0m-7.8 2h0m109.8 .2h0m-14.1 .7h0m-76.6 2.6h0m75.8 .1h0m-87 1.6h0m89.3 5.2h0m-77.6 1.3h0m.4 .5h0m-42.7 1.3h0m47.5 -.2h0m-18.4 2.8h0m101.4 .2h0m-102.3 1.5h0m-4.6 1.9h0m23.5 .9h0m3.8 3h0m56.1 .9h0m-80.1 2h0m92.2 1.2h0m-8.8 1.9h0m-27.1 1.9h0m.3 .8h0m14.9 -.2h0m22 4.7h0" stroke="#98a866" stroke-width="2.5" stroke-linecap="round" fill="none"/>
<path d="M198.9 357.2h0m-7.8 3.9h0m13 .2h0m-49.6 .2h0m50.9 .7h0m.1 0h0m3.9 .1h0m-30.2 .3h0m11.7 .4h0m10.6 .2h0m5.2 .6h0m23.3 .2h0m-26.9 1.4h0m-2.8 .5h0m12.4 -.2h0m-26.8 .9h0m27.2 0h0m1.6 .4h0m20.2 .3h0m3.3 -.6h0m-34.9 .8h0m2.6 .7h0m29.6 -.4h0m-9.1 1h0m.4 .2h0m-43.4 1.4h0m40 -.8h0m11.3 .6h0m7 .5h0m-51 1.2h0m12.5 0h0m9.4 .4h0m2.4 .1h0m23.5 -.7h0m-62.1 1.3h0m20 -.3h0m19 0h0m6 .1h0m-47.8 1.6h0m4.7 -.2h0m34 -.7h0m19.1 .4h0m-43.1 1.3h0m6.4 -.5h0m29.2 .3h0m1.7 .4h0m8.5 -.2h0m-64.7 1.2h0m.7 0h0m17.2 0h0m.4 0h0m1.9 -.1h0m2.1 -.5h0m26.1 .6h0m21.5 -.6h0m1.4 .4h0m-74.9 1.1h0m35.9 -.6h0m24.5 .3h0m12.6 .2h0m-3.2 1.1h0m-50.4 .3h0m52.3 1.5h0m5.5 0h0m-67.5 1.2h0m12.8 -.6h0m-5.3 1.3h0m1.2 .1h0m8.1 .6h0m-30.4 1.7h0m10.6 -.2h0m2.2 0h0m59.5 -.4h0m-60 2.7h0m-11.6 1.8h0m26.7 1h0m48.7 0h0m-47.2 1.1h0m49.4 -.2h0m-57.5 .7h0m2.2 -.3h0m46.8 1.7h0m-73.3 .5h0m26.1 -.2h0m47.8 .1h0m8.8 .1h0m-59.7 2.6h0m4 -.7h0m54.9 .7h0m-70.8 .4h0m14.8 .6h0m-15.8 .2h0m2.1 .3h0m4.8 .4h0m63.7 -.5h0m3.2 .1h0m.6 .2h0m4.8 -.1h0m-71.2 1.5h0m65 -.7h0m-55.4 .7h0m47.5 .4h0m9.4 .6h0m-70.3 1h0m16.6 -.7h0m-21.8 1.4h0m16.9 -.1h0m7.1 -.1h0m-11 1.1h0m3.4 -.2h0m-27.2 .9h0m28.4 .3h0m2.8 -.5h0m2.4 .2h0m-13.7 .8h0m1 0h0m12 -.1h0m46.8 .2h0m-55.7 1.8h0m11.2 -.5h0m42.1 -.4h0m-.7 1.8h0m-52.7 .3h0m6.8 .6h0m40.6 .2h0m-49.4 .4h0m10.5 1h0m-13.8 1.5h0m.9 -.5h0m54.5 .4h0m-37.8 .5h0m47.6 -.3h0m1.2 .5h0m-51.6 .6h0m30 0h0m10.4 .9h0m-61.1 1.7h0m10.7 -.5h0m8 .3h0m9.9 .4h0m19.5 -.5h0m-26.8 1.5h0m.4 -.4h0m34.4 .6h0m6.8 .3h0m-28.7 1.2h0m7.3 .3h0m15.6 -.5h0m-9.6 1.3h0m9.5 -.6h0m2.1 .2h0m.4 -.2h0m-39.3 1.3h0m2.8 .3h0m8.2 -.4h0m4.9 -.1h0m2.4 .4h0m2.2 -.2h0m10.6 .2h0m10.2 .4h0m-32.8 .3h0m1.2 .5h0m11.6 -.3h0m6.5 -.4h0m-27.5 1.4h0m8 .4h0m16.2 -.6h0m7.1 .7h0m5.6 -.1h0m-57.4 .3h0m35 -.2h0m5.8 .8h0m16.6 -.1h0m7.2 -.5h0m-36.2 1.1h0m12 .2h0m3.9 .3h0m-24.3 .8h0m4.5 -.4h0m16.7 0h0m-1.5 1.4h0m11.4 .4h0m15.8 -.8h0m-35.8 1.5h0m37.6 -.1h0m-34.1 1.6h0" stroke="#58b438" stroke-width="2.5" stroke-linecap="round" fill="none"/>
<path d="M198.2 368.7h0m20.9 .3h0m2.9 -.2h0m-25.5 1.4h0m4.9 .2h0m.3 0h0m24.8 0h0m6.9 -.1h0m-45.1 .5h0m4 -.1h0m27.3 -.1h0m.1 .5h0m4.2 -.4h0m5.4 .4h0m-15.7 .6h0m21.7 .2h0m-42.2 1.5h0m1.3 -.5h0m12.1 .3h0m4.1 .6h0m1.9 .3h0m16.6 -.3h0m-36.9 1.7h0m2.9 -.9h0m16.2 .8h0m9.3 -.1h0m-30.3 1.4h0m11.4 .8h0m4.4 -.8h0m5.7 .3h0m.4 -.5h0m.5 .6h0m4.5 .2h0m8.8 -.4h0m4 -.3h0m-44.9 1.3h0m13.8 .5h0m16.7 -.5h0m-32.2 1.5h0m7.6 0h0m8.1 -.3h0m.1 0h0m7.4 -.6h0m9.9 .3h0m1.2 .5h0m9.1 -.4h0m-27.9 1.6h0m.3 -.6h0m11.3 0h0m24.9 -.4h0m1.8 .9h0m-37.5 1.1h0m.1 -.7h0m1.6 .3h0m3.6 -.1h0m2 .3h0m1.4 -.1h0m17.7 -.5h0m-46 1.6h0m9.2 -.5h0m13.2 .2h0m3.5 .3h0m.6 -.5h0m5 -.1h0m1.1 .2h0m19.4 -.4h0m6.5 .7h0m-46 1.1h0m.5 -.7h0m2.5 .6h0m1.8 -.6h0m1.5 .5h0m7.4 0h0m13.8 -.2h0m7.6 .2h0m-25.4 1.1h0m4.4 -.2h0m2.8 -.5h0m1.3 .2h0m3.4 -.1h0m3.1 .9h0m14.2 -.5h0m.8 .4h0m3.2 -.8h0m-52.4 1.4h0m11.2 .4h0m11.6 -.3h0m.6 -.1h0m.9 .2h0m3.9 -.5h0m15.5 .5h0m.2 -.6h0m3.3 .5h0m-42.5 1.2h0m17.7 -.3h0m2.9 -.5h0m5.9 .4h0m1.6 .3h0m-11.7 1.1h0m8.6 -.7h0m5.8 .2h0m12.6 .2h0m-37.5 1.1h0m.1 -.4h0m10 .3h0m8.6 0h0m2.8 .3h0m3.6 -.5h0m4.5 .6h0m9.2 -.4h0m4.6 0h0m-44.9 .6h0m24.8 .8h0m.4 -.4h0m-7.7 .7h0m2.1 .3h0m.5 .1h0m.5 0h0m1.8 .3h0m3.2 -.2h0m-31.1 .4h0m6 0h0m.6 .7h0m.7 .1h0m1.1 -.8h0m5.4 .2h0m1.7 .7h0m8.1 -.5h0m11.7 -.5h0m-36.6 1.7h0m1.8 -.1h0m4 -.1h0m1 .4h0m1.4 -.2h0m.7 -.6h0m.6 .3h0m4.7 0h0m2.1 .2h0m9.8 0h0m4.9 -.3h0m6.6 .2h0m8.4 -.5h0m3 .2h0m-51.7 1.4h0m20.2 -.1h0m2 0h0m3.4 .1h0m2.7 -.4h0m3.3 .6h0m15.7 -.5h0m.3 .4h0m.7 -.7h0m-33.4 2h0m5.1 -.3h0m13 .1h0m8.8 -.7h0m2.2 .7h0m-26 .6h0m4.2 .6h0m7.8 -.8h0m.9 0h0m1.6 .6h0m-23 .8h0m.7 .4h0m1.7 -.4h0m1.5 .2h0m6.3 -.5h0m1.6 .5h0m1.2 -.4h0m4.8 0h0m3.7 .3h0m4.8 -.3h0m6.4 -.1h0m2.5 .6h0m.7 -.6h0m.5 .5h0m1.3 0h0m-30 .4h0m0 .3h0m1.7 -.1h0m3.9 -.4h0m7.6 .8h0m1.4 -.2h0m2.3 -.5h0m2.7 -.1h0m.9 1h0m1.1 -.8h0m7.9 .1h0m-31.6 1.2h0m-6.6 1h0m8.4 .3h0m7.5 -.3h0m10.5 -.3h0m.9 .2h0m.8 .4h0m7.5 .2h0m2.8 -.8h0m.3 .3h0m-40.3 1.3h0m1.7 .1h0m18.4 -.8h0m15.1 .7h0m1.3 -.6h0m-25 1.7h0m3 -.5h0m.8 -.3h0m4.5 .4h0m.2 .2h0m3.5 .2h0m-13.6 1.1h0m2.2 -.6h0m3.4 .3h0m.8 -.7h0m10.3 .9h0m-16.9 .3h0m6.7 0h0m8 .1h0m1 .5h0m5.1 -.5h0m-7.4 .8h0m1.5 .3h0m.1 -.1h0m4 .4h0m3.6 .3h0m.2 -.4h0m5 .3h0m-25.9 .4h0m11.7 -.1h0m17.6 .4h0m1 -.2h0m-48.9 .9h0m29.9 .1h0m17.2 .4h0m-32.6 .3h0m11.8 0h0m4.4 .9h0m1.2 -.4h0m2.5 -.4h0m.4 -.1h0m10.3 -.1h0m10.3 .3h0m-35.5 1.3h0m11.9 -.3h0m3.5 0h0m0 .3h0m4.5 .3h0m8.1 -.5h0m1.8 0h0m-39.2 1h0m3 .1h0m4.5 -.2h0m.7 .1h0m.7 .5h0m.8 -.1h0m3.1 .1h0m1.7 -.7h0m4.1 .4h0m8.1 0h0m5 .1h0m1.3 -.3h0m-28.2 1h0m2.8 .5h0m-6.1 .5h0m11.8 .4h0m.5 0h0m13.6 0h0m4.6 -.2h0m5.2 -.1h0m-23.5 .7h0m1.9 .4h0m.2 -.1h0m4.9 .1h0m11.9 .3h0m-23.5 1h0m10.6 -.9h0m10.3 .8h0m.5 -.7h0m4 .7h0m-36.3 .4h0m13.3 -.1h0m8.7 .1h0m7.7 .3h0m2.9 -.2h0m-6.2 .8h0m7.8 .3h0m-21.8 1.4h0m-6.5 1.2h0m20.2 .9h0m-22.8 2.5h0m28.3 1.2h0" stroke="#2ed81a" stroke-width="2.6" stroke-linecap="round" fill="none"/>
<path d="M128.3 440.5h0m33.7 1.6h0m-26 .9h0m31.3 -.4h0m292.1 1h0m-303 1h0m27.4 .5h0m30.5 -.4h0m225.7 .6h0m-302.7 .3h0m24.3 .2h0m171.6 .5h0m70.7 -.1h0m47.2 0h0m-329.5 .3h0m61 .4h0m1.8 -.2h0m206 .5h0m20.6 -.3h0m1.1 .2h0m16.4 0h0m17 -.5h0m-261.6 1h0m12.3 .2h0m244.8 .1h0m-227.3 1.6h0m236.6 -1h0m-248.4 1.2h0m5.1 .5h0m116.2 .8h0m54.2 .2h0m97 -.6h0m-132.9 .9h0m11.6 .7h0m10.6 .1h0m7.5 -.6h0m13.6 .2h0m89.4 .4h0m-239.9 .3h0m16.7 .3h0m47.6 2h0m-63.8 1h0m45.6 -.2h0m77.9 -.2h0m11.4 .1h0m-131.6 1.3h0m.6 .3h0m25.2 .1h0m96.2 -.7h0m-125.4 1.5h0m2.3 -.2h0m9.8 .1h0m229.5 .4h0m-243.1 .6h0m51.7 -.1h0m75.9 .1h0m-119.2 1.4h0m123.6 -.2h0m-63.8 1.6h0m16.3 .2h0m23.1 -.2h0m22.6 .2h0m-121.2 1h0m12.3 -.1h0m34.8 .2h0m41 0h0m-.4 .5h0m.2 .5h0m-71.9 1.1h0m23.3 -.7h0m71.9 .8h0m.2 -.5h0m13.5 .5h0m-106.8 .4h0m19.1 0h0m76.2 0h0m2.8 .2h0m6.5 -.1h0m-122.3 1h0m12.2 .2h0m31.7 -.2h0m-17.1 1.3h0m80 -.1h0m20.4 0h0m-136.3 .9h0m11.2 .5h0m80.8 -.5h0m4.4 .2h0m15.8 .1h0m-24.2 .7h0m155 -.3h0m-233.1 1.7h0m74.1 -.3h0m39.8 -.1h0m119.9 .2h0m-236.8 1.3h0m29.2 -.3h0m4.2 .2h0m35.5 0h0m48.9 -.2h0m127.2 .3h0m-154.7 .8h0m30.4 -.6h0m-73.4 1.9h0m70.3 .2h0m-100.4 1.2h0m26.3 -.4h0m3.5 .2h0m81.8 .7h0m112.1 .2h0m-245.5 1.9h0m66.5 -.5h0m25.1 0h0m29.2 0h0m-56.7 1.2h0m11.2 -.7h0m12.7 .1h0m42.9 -.1h0m-83.6 1.8h0m56.8 -.3h0m-76.8 1h0m80.6 .1h0m13 -.1h0m117.3 .3h0m-97.8 .7h0m-162.9 1h0m.5 .3h0m5.5 -.6h0m4.8 0h0m38.3 .7h0m66.3 0h0m-67.8 .3h0m117.2 .4h0m-114.3 1.3h0m88.9 -.6h0m34.1 .1h0m67.9 1.6h0m1.8 -.4h0m10.9 -.1h0m-250.4 .5h0m2.5 .9h0m5.9 -.5h0m-67.3 1.5h0m235 0h0m-217.1 1.4h0m242.6 .1h0m-295 1.5h0m47.9 2h0m-41.9 1.1h0" stroke="#6680c4" stroke-width="2.3" stroke-linecap="round" fill="none"/>
<path d="M154.5 447.1h0m-26.6 1.4h0m12.2 -.5h0m-16.8 .5h0m9.9 .2h0m1.2 -.2h0m.1 .8h0m18.9 -.5h0m2.1 .7h0m4 -1h0m.5 .6h0m3.1 -.1h0m15.9 -.3h0m8.9 .7h0m254.5 .1h0m-319.8 1h0m7.8 -.5h0m2.6 -.3h0m12.4 -.1h0m50.2 .8h0m241.4 0h0m23.5 -.3h0m-315.4 1.3h0m315 -.2h0m-333.1 .8h0m26.9 -.1h0m21.8 -.4h0m18.6 .5h0m207.7 -.2h0m21.6 -.1h0m11.1 .2h0m19.2 -.3h0m-271.5 1.9h0m14.8 -.7h0m-2.2 1.3h0m25.8 .3h0m167.7 1h0m5.7 0h0m.2 -.6h0m52.2 .7h0m17.1 -.6h0m-247.8 1.3h0m4.6 -.3h0m4.3 -.2h0m242.9 .4h0m-249.2 .5h0m1.5 .7h0m161.6 -.3h0m12.9 .3h0m75.2 -.2h0m-248.5 .6h0m2.1 .2h0m154.2 .3h0m87.6 -.2h0m5.8 -.1h0m-258.5 1.1h0m166.8 .1h0m-170.6 .9h0m162.1 -.4h0m-141.8 1.8h0m145.5 -.4h0m15.5 .2h0m80.2 .3h0m-270 .4h0m11.6 -.4h0m14.2 .2h0m3 -.1h0m241.6 0h0m-269.1 1.4h0m4.5 .2h0m26.3 .1h0m157.5 .1h0m5.5 -.9h0m8 .4h0m-194.2 .7h0m1.6 0h0m163.7 .7h0m2.7 .1h0m6.9 -.5h0m82.3 0h0m5.5 .4h0m-244.5 .3h0m148.4 .5h0m-162.6 1.9h0m9.4 0h0m151.6 0h0m89.4 -.3h0m8.4 -.1h0m-264.8 1.8h0m185.9 .1h0m6.5 -.4h0m62.4 .3h0m-89.2 .5h0m8 -.3h0m2.7 .3h0m-164.6 1.1h0m5.3 -.4h0m146.6 0h0m7.6 .9h0m.1 -.4h0m87.1 0h0m6.1 0h0m-258.9 2.1h0m171 .1h0m86 -.5h0m-76.8 1.6h0m70.9 -.8h0m-93.4 1.4h0m8.2 -.3h0m10.2 .5h0m78.5 .1h0m-82.9 .3h0m1.9 .4h0m13.9 -.2h0m-6.5 1.2h0m67.8 .1h0m-246.9 1.3h0m4.7 -.1h0m246.4 -.3h0m-246.5 1h0m5.4 .2h0m167.8 .1h0m-198.8 1.2h0m266.1 -.4h0m7.1 -.3h0m5.3 .5h0m-266.8 1.1h0m9.6 -.7h0m162.4 .6h0m4.9 -.6h0m20.2 -.2h0m7.3 .5h0m51.6 .3h0m-259.6 .8h0m182 .4h0m16.2 -.3h0m52.1 -.5h0m-56.3 1.3h0m25.2 -.1h0m16.9 -.4h0m-267.2 1.2h0m227.3 0h0m10.9 .3h0m58.9 -.3h0m-344 1.5h0m40.8 .2h0m17.9 -.3h0m6 .2h0m7.6 .1h0m219.8 .1h0m10.8 -.5h0m-306.9 1.2h0m3.6 -.3h0m6.8 0h0m36.9 -.3h0m.9 .1h0m243.2 .3h0m6.8 .4h0m9.5 -.2h0m7.9 .1h0m24 -.2h0m1.5 -.5h0m-318.4 1.1h0m305.6 .6h0m1.7 .1h0m-313.3 .8h0m3.7 -.4h0m.9 -.1h0m9.3 .3h0m2.9 -.3h0m268.1 .1h0" stroke="#4a62b4" stroke-width="2.4" stroke-linecap="round" fill="none"/>
<path d="M127.3 447.2h0m304.6 1h0m15.8 -.1h0m-310.4 .9h0m33.1 -.5h0m273.2 1.6h0m-301.1 1.4h0m17.5 -.2h0m31.2 -.1h0m-67.3 .8h0m16.9 -.1h0m1.1 -.3h0m27.3 .1h0m10.4 .3h0m22 .5h0m246.4 -.8h0m12.5 .7h0m-36.4 .8h0m-223.2 .9h0m4.7 -.5h0m241.2 .1h0m10.8 .3h0m-260.7 .6h0m213.4 .4h0m-20.7 1h0m73.8 .2h0m-73.3 1.2h0m6 -.7h0m.3 .3h0m-186.3 1.3h0m5.2 .1h0m-8.7 1.1h0m16.9 -.3h0m4.3 0h0m159.5 -.5h0m6.8 -.2h0m2.3 0h0m-179.7 1.1h0m178.5 .7h0m69.3 .1h0m-251.5 .6h0m172.9 .2h0m-178.4 .6h0m179.7 .6h0m7.3 -.2h0m-186.4 .8h0m185.2 1.4h0m-180.4 .5h0m.1 .2h0m179.5 .2h0m2.5 -.6h0m.6 .2h0m69.7 .2h0m1 -.5h0m.1 .6h0m-80.6 .6h0m2.8 .3h0m76.3 .2h0m-255.8 1.1h0m3.7 -.3h0m182.6 .4h0m76.7 -.4h0m-258.6 .8h0m172 -.3h0m1.5 .4h0m7.9 -.4h0m75.5 1.5h0m.3 -.5h0m-262.8 1.2h0m2.8 .1h0m11.8 .3h0m165.2 -.3h0m83.1 .8h0m-262.3 1.3h0m173 -.2h0m4.8 1.4h0m1.7 -.4h0m3.3 .6h0m77.4 -.2h0m-257.9 .8h0m4.1 .3h0m256.7 -.5h0m-243.5 1.2h0m144 -.5h0m-161.1 1.6h0m12.3 .9h0m166.3 -.1h0m76.2 .2h0m.8 1h0m-258.9 1.3h0m3 -.4h0m8.7 .2h0m245.4 -.2h0m-265.7 1.5h0m4.3 -.7h0m1.8 -.1h0m184.9 .4h0m8.2 -.2h0m5.9 .2h0m59.6 -.2h0m-67.4 1.1h0m61.8 .3h0m-53.2 .7h0m17.6 .4h0m20.9 -.3h0m-266.9 1.1h0m13.5 -.7h0m.4 .1h0m235.1 .9h0m10 -.7h0m14.1 0h0m-324.1 1.6h0m53.1 -.7h0m3.8 .5h0m247.6 .1h0m19.2 -.3h0m-322.7 .7h0m13.2 -.1h0m9 .2h0m49.4 -.1h0m-73.2 .9h0m19.7 .2h0" stroke="#2a80d0" stroke-width="2.4" stroke-linecap="round" fill="none"/>
<path d="M147 452.1h0m6.7 0h0m10.2 -.1h0m-2.8 1.4h0m17.3 -.1h0m1.3 -.3h0m2.2 .4h0m1.1 .1h0m248.2 -.3h0m.4 .2h0m-312.2 .6h0m8.4 .3h0m3.8 -.2h0m1.4 -.1h0m9.5 -.4h0m9.9 .6h0m3.9 .2h0m.4 -.2h0m7 .1h0m10.1 -.8h0m2.8 .8h0m.8 .1h0m15.8 -.1h0m-65.1 .2h0m.5 .9h0m2.2 -.7h0m7.6 .4h0m2.8 -.6h0m2.6 .6h0m1.9 -.6h0m1.4 1h0m11.7 0h0m7.1 -.3h0m.3 -.6h0m.7 .2h0m13.8 .6h0m238.9 -.8h0m.6 .5h0m8.9 -.5h0m4.1 .4h0m1.4 .4h0m6.7 -.6h0m.4 -.3h0m.6 .7h0m.6 0h0m6.1 -.2h0m1.8 -.3h0m1.1 .7h0m1.1 -.7h0m-329.7 1.2h0m1.6 0h0m5.9 -.1h0m3.2 .1h0m30.6 -.4h0m6 .1h0m1.5 .1h0m14 -.1h0m9.6 .9h0m223.4 -.8h0m14.5 .4h0m3 0h0m2 -.2h0m.7 .6h0m3 -.7h0m8.8 .5h0m6.5 0h0m1.3 -.6h0m1.3 .4h0m-269.7 1h0m5.4 -.4h0m204.3 .7h0m9.7 -.6h0m2.9 .2h0m6.7 -.1h0m3.7 -.3h0m.8 .7h0m.8 -.3h0m2.5 .1h0m.9 -.5h0m5.2 .3h0m6.4 .2h0m9.8 .1h0m-266 .3h0m.4 .9h0m2.7 -.8h0m2.6 .5h0m4.7 0h0m1.9 -.2h0m4.4 0h0m215 .2h0m4.3 -.4h0m6.9 .4h0m3.1 -.1h0m7 .2h0m1.9 -.3h0m4 .4h0m11.3 .1h0m8 -.4h0m.8 0h0m-268.4 .7h0m1.4 .3h0m2.6 .2h0m199.3 -.2h0m2.2 .2h0m9.2 -.4h0m2.8 .7h0m17.8 -.7h0m1.3 .5h0m5.3 -.1h0m.3 -.7h0m1.1 .7h0m.7 -.7h0m2.1 .6h0m1.1 -.2h0m3.6 .3h0m1.3 .1h0m7 -.6h0m9.1 0h0m-275.6 1.6h0m2.1 -.2h0m11 -.5h0m203.4 .6h0m15.3 .1h0m12.5 -.4h0m5.9 .5h0m14.3 -.3h0m7 -.3h0m-267.9 1.4h0m5.6 .1h0m219.5 -.5h0m8 .6h0m7.7 -.4h0m7.2 -.3h0m13.2 .1h0m5 .1h0m1.4 .1h0m-270.4 1.2h0m10.8 -.4h0m4.8 .2h0m196.5 .2h0m4.8 -.7h0m.2 .7h0m2.7 0h0m0 .3h0m.4 -.9h0m6.9 -.1h0m5 1h0m7.9 -.7h0m.9 .3h0m2.1 0h0m2.2 .2h0m6.6 -.6h0m9.9 -.2h0m.3 0h0m5.4 .8h0m2.1 .1h0m1.7 -.1h0m1.4 .2h0m-262.5 .6h0m2 -.6h0m.8 .5h0m201.4 .4h0m1.6 -.1h0m11.6 -.2h0m1.4 .2h0m4.6 -.2h0m17.8 -.5h0m2.8 .9h0m.3 -.4h0m.9 -.1h0m9.4 .5h0m1.2 -.9h0m2.6 0h0m-263.4 1.5h0m11.4 -.1h0m197.4 -.2h0m.2 0h0m1 .3h0m.9 -.6h0m3.1 .6h0m.9 .3h0m5.2 0h0m3.1 -.1h0m1.4 -.3h0m.9 -.5h0m4.7 .5h0m5.8 -.4h0m.1 .3h0m7.4 -.3h0m6.7 .6h0m3.3 -.5h0m.1 .5h0m3 .2h0m2.8 -.8h0m11.4 .6h0m-277.3 .6h0m6.1 .1h0m8.9 0h0m200.1 -.1h0m1.5 -.1h0m1.6 -.1h0m2 .8h0m2.7 -.7h0m5.1 .7h0m6.4 -.3h0m2.1 .1h0m1.8 -.5h0m5.4 .8h0m11.4 -.3h0m.3 -.1h0m.4 -.6h0m6.1 .1h0m1.2 .4h0m6.7 .1h0m-269.3 .5h0m17.5 .5h0m203.9 -.6h0m5.8 .7h0m2 .2h0m6.2 -.2h0m8.9 .1h0m5.2 .2h0m1.2 -.5h0m8.5 -.4h0m8.3 .7h0m.2 .2h0m7.1 -.5h0m-273.3 .6h0m1.8 .6h0m.3 -.5h0m10.8 .4h0m1.9 .4h0m194.2 -.6h0m10.2 0h0m5 -.1h0m2.2 -.2h0m3.7 .5h0m1.8 -.2h0m2.7 .3h0m.8 -.5h0m.5 -.1h0m4.5 .2h0m4.2 .3h0m2.6 -.2h0m4.8 .2h0m2.4 0h0m.8 .1h0m7.8 -.5h0m1 .3h0m-263.9 .8h0m.9 .6h0m2.5 -.3h0m4.5 0h0m206.7 -.2h0m4.5 0h0m4.5 .5h0m4.1 -.8h0m3.8 .8h0m2 -.7h0m5.5 -.1h0m.6 .8h0m4.4 0h0m2.1 -.5h0m2.9 -.3h0m1.4 .6h0m5.2 -.1h0m.2 -.4h0m5.4 0h0m10.6 .2h0m-274.4 1.5h0m.7 0h0m.4 -.4h0m3 -.5h0m4.2 .3h0m.5 0h0m1.6 .3h0m210.6 .1h0m5 -.5h0m1.9 .8h0m3.7 -1h0m3.9 .8h0m1.2 .1h0m.2 -.6h0m5.9 .3h0m1.7 .3h0m8.7 -.2h0m1.4 -.2h0m1.2 -.1h0m1.2 .3h0m.2 .2h0m2.5 -.3h0m9.3 .3h0m3.5 -.7h0m-264.9 1.1h0m4.4 .4h0m5.6 -.3h0m207.3 -.1h0m3.7 .1h0m1 .2h0m1.1 .2h0m.2 -.3h0m1.5 -.4h0m14.7 .1h0m3.1 .7h0m2.6 -.9h0m8.7 .9h0m5.5 -.5h0m3.5 0h0m4.5 .1h0m-274.6 .6h0m.6 .6h0m.2 -.4h0m.1 .1h0m.8 .1h0m2.9 .5h0m3.8 -.4h0m223.9 -.3h0m5.4 -.2h0m3.6 0h0m2.2 .2h0m1.4 .4h0m22.1 -.2h0m.5 -.1h0m2 .4h0m-270 .3h0m10.4 .6h0m6.4 -.1h0m201.6 -.5h0m2.5 .2h0m4.8 .5h0m.4 0h0m.3 -.2h0m1.1 .4h0m2.9 -.1h0m2.3 -.6h0m1.7 .2h0m1.7 -.1h0m7.3 0h0m8.5 .1h0m.9 .2h0m6.2 -.2h0m1.7 -.4h0m2.3 0h0m3.7 .8h0m7.3 -.6h0m-273.5 1.4h0m3.5 .1h0m4.3 -.1h0m1.4 .2h0m.5 -.8h0m.6 .2h0m210.8 .5h0m2 -.2h0m5.6 -.4h0m1 .2h0m1.7 .1h0m6.3 .5h0m.6 -1h0m.6 .3h0m3.6 .2h0m1.4 .4h0m1.9 .1h0m2.4 -.5h0m5 .3h0m1.5 -.1h0m1.3 0h0m4.7 .3h0m1 -.2h0m3.5 -.7h0m4.2 .1h0m0 .3h0m.9 .1h0m-271.2 .8h0m.7 .2h0m3.8 -.4h0m5.3 .7h0m3.2 .1h0m200.6 -.8h0m1.8 .6h0m1.7 0h0m6.2 .1h0m7.5 -.5h0m2.1 .2h0m6 -.3h0m20.4 .2h0m6.6 .3h0m1.4 .1h0m1.8 -.4h0m3.2 0h0m2.3 -.2h0m-267.3 1.4h0m2.3 -.3h0m.6 0h0m1.1 0h0m218 .3h0m7.3 -.6h0m8.6 .1h0m2.3 .3h0m1.4 .3h0m1.1 -.4h0m6.5 .3h0m.8 .3h0m12.1 -.1h0m1.3 -.7h0m4.1 .7h0m-271.3 .8h0m.7 .2h0m3.8 -.3h0m216.3 -.4h0m3.2 .3h0m1.7 .2h0m13.5 -.2h0m4.4 -.5h0m1.8 .4h0m1.7 0h0m-250.6 1.5h0m2.8 -.6h0m1.3 0h0m.5 .5h0m2 -.1h0m.6 .2h0m208.8 .1h0m1.8 -.3h0m7 -.7h0m2.1 .1h0m7.2 .2h0m5.1 -.1h0m1.5 .5h0m2.2 -.6h0m3.7 .6h0m2.9 -.2h0m0 0h0m2.6 -.5h0m.6 .8h0m8.9 -.1h0m1.4 -.2h0m3 -.4h0m.7 .4h0m.4 0h0m0 -.1h0m1.1 .3h0m-269.6 .8h0m3.5 -.4h0m.8 .2h0m4.7 0h0m.9 .4h0m213.6 .1h0m.7 -.1h0m17.3 .2h0m14.2 -.5h0m1.8 -.4h0m4.3 .4h0m.7 .6h0m4.9 -.5h0m1.5 .5h0m.4 0h0m-268.6 .2h0m1.4 0h0m.5 .6h0m.8 -.6h0m.8 .7h0m.2 -.8h0m5.7 0h0m212.7 .5h0m17.1 -.1h0m10.3 .1h0m9.5 -.5h0m5.8 .2h0m4.4 .1h0m-308.2 1.3h0m8 0h0m1.8 .1h0m7 0h0m10.5 -.3h0m5.7 -.1h0m.8 -.2h0m20.3 -.1h0m201.1 .4h0m4.6 -.4h0m10.2 .4h0m9.4 .4h0m3.2 -.1h0m19 -.3h0m-325.8 1h0m10.4 -.4h0m2.5 .3h0m1.5 -.2h0m4.8 -.2h0m1.2 .1h0m9.4 .1h0m9.8 .3h0m4 -.4h0m1.7 0h0m.1 .2h0m9.4 -.1h0m1.2 .5h0m1.6 -.6h0m6 -.1h0m6.4 .2h0m227.7 .7h0m7.8 -.8h0m5.6 .6h0m1.1 -.5h0m.9 0h0m-308.2 1.1h0m24.8 .5h0m4.5 .1h0m7.6 -.2h0m255.2 -.3h0m15.9 -.4h0m-315.6 1.3h0m3.2 .2h0m5.2 .5h0m16.9 -.4h0m4.9 .2h0m4 -.4h0m3.1 .1h0m1.5 .4h0m-34.3 .5h0m33.4 -.2h0m8.9 .1h0" stroke="#1a9ae8" stroke-width="2.5" stroke-linecap="round" fill="none"/>
<path d="M122.5 456.1h0m36.7 .3h0m20.6 -.2h0m-59.5 1.2h0m11.1 -.9h0m5.9 .9h0m5.7 -.4h0m2.6 -.5h0m23.6 .6h0m-8.4 .7h0m8.6 .5h0m266.1 -.1h0m-314.9 .4h0m.7 0h0m15.7 -.1h0m9.9 .2h0m13.5 .1h0m9.5 -.1h0m17.9 .3h0m-62.4 1.3h0m2.3 -.8h0m15.4 .8h0m3.5 -.4h0m2.6 -.2h0m10.3 .2h0m4.9 .3h0m9.3 -.2h0m5.6 .2h0m253.6 0h0m-299 .9h0m17.3 -.4h0m20.3 0h0m261 -.1h0m3.3 .6h0m1.7 .1h0m5.4 0h0m-317.1 .6h0m8.5 .5h0m17.3 -.8h0m2.4 .8h0m285.4 -.5h0m-296.3 .8h0m30 .7h0m7.8 -.3h0m3.2 .3h0m244.5 -.2h0m-260.3 1h0m7.8 0h0m4.4 -.5h0m4.4 .6h0m-45.8 .6h0m16.8 .5h0m2.5 0h0m22.8 .1h0m258.2 -.9h0m-296.6 1.5h0m6.6 -.5h0m8.2 .5h0m14.8 .3h0m8.7 -.4h0m244.5 -.1h0m16.8 -.2h0m-315.8 1.5h0m21.4 .3h0m-29.1 .1h0m21.9 .5h0m2.7 -.4h0m5.7 .4h0m2.1 -.1h0m6.3 -.4h0m22.9 .1h0m257.3 .6h0m2.4 -.6h0m-315 1.1h0m22.9 -.1h0m19.2 .6h0m265.2 -.7h0m4.3 .2h0m.5 .4h0m-318.4 .7h0m.7 .5h0m38.3 -.5h0m1.8 .5h0m4.3 -.3h0m10 -.3h0m12.9 .3h0m246.2 .2h0m8.5 -.2h0m-321.9 1h0m14 0h0m4 -.1h0m13.8 0h0m15.6 .1h0m12.6 .1h0m254.7 -.4h0m-277.5 1.2h0m18.9 -.1h0m4.1 .5h0m0 -.3h0m2.3 .3h0m247.2 -.6h0m10.3 -.1h0m1.9 0h0m.2 .5h0m-307.4 .5h0m3.6 .6h0m3.7 -.5h0m3 .5h0m5 -.8h0m13.6 .1h0m19.1 .9h0m4.4 -.5h0m239.9 -.3h0m7 .4h0m4.7 -.5h0m-312.9 1.4h0m26.1 -.2h0m15.1 .2h0m20.1 .4h0m251.3 -.5h0m4.1 -.1h0m1.7 0h0m-321 .9h0m11.8 .1h0m10.8 -.2h0m33.2 .2h0m-45.1 1.1h0m43.6 0h0m10.4 -.1h0m248.9 -.2h0m-5.3 1.3h0m-291 1.5h0m18.1 -.4h0m28.5 -.3h0m-67.3 1.4h0m6.2 -.4h0m14.2 .4h0m37.3 -.2h0m-6.4 .6h0" stroke="#6cd4ff" stroke-width="2.4" stroke-linecap="round" fill="none"/>
<path d="M155.1 101.8h0m92.6 67.8h0m28 35.2h0m-29.5 10.1h0m21.1 .7h0m10.1 33.2h0m-31.2 72.8h0m-121.5 57.6h0m8.5 23.7h0m21.1 23h0m305.7 4.7h0m-306.8 5.3h0m3.1 -.1h0m38 -.2h0m-18.2 1.9h0m262.5 -.2h0m57.6 16.9h0m-368.9 38h0m159.7 -.1h0" stroke="#8e8e96" stroke-width="2.3" stroke-linecap="round" fill="none"/>
<path d="M168.3 69h0m36.8 8.9h0m-62.7 34.9h0m116.5 79.8h0m6.5 144.4h0m-135.5 25.6h0m132.3 52.4h0m150.6 1.2h0m17.2 11.3h0m-205.9 5.5h0m-86.2 1.4h0m296.6 .2h0m-204.2 2.9h0m2.6 3.5h0m217.2 .6h0m35.1 15.5h0m-183.5 3.8h0m2.6 24.9h0m54.1 8.2h0m-234.2 1.4h0m281.1 .3h0" stroke="#b4b6bc" stroke-width="2.3" stroke-linecap="round" fill="none"/>
<path d="M203.5 60.2h0m15.1 .1h0m-29.9 .4h0m4 -.1h0m15.1 .1h0m-1.8 .9h0m26.4 .5h0m-55.8 .9h0m-10.8 1.3h0m3.9 .2h0m.4 -.9h0m43.9 .5h0m18.2 -.1h0m1.9 .3h0m-65.8 .4h0m14.7 .7h0m32.5 -.2h0m-42.8 1.2h0m19.8 -.9h0m53.5 .7h0m-86.4 2.2h0m28.1 .2h0m25.4 .7h0m6.5 -.4h0m-49.2 1.2h0m9.6 .1h0m22.2 .2h0m7.5 -.7h0m5.7 0h0m21.8 .5h0m-64.5 .9h0m9.7 -.3h0m21 -.3h0m16.5 .9h0m5.6 .1h0m-34.6 .1h0m46.1 .1h0m6.9 -.1h0m-39.7 1.4h0m-5.6 .7h0m.8 1.3h0m15 -.3h0m35.2 0h0m-49.6 1.3h0m12.8 -.1h0m48.2 .4h0m-114.8 1.2h0m39.6 1h0m37.5 -.7h0m-26.8 1.5h0m43 -.4h0" stroke="#dde1e1" stroke-width="2.4" stroke-linecap="round" fill="none"/>
<path d="M411 100h0" stroke="#a8a8a8" stroke-width="2.6" stroke-linecap="round"/><path d="M321 170h0" stroke="#8a8a8a" stroke-width="2.6" stroke-linecap="round"/><path d="M334 238h0" stroke="#606060" stroke-width="2.6" stroke-linecap="round"/><path d="M425.7 260.7h0" stroke="#a0a0a0" stroke-width="2.6" stroke-linecap="round"/><path d="M428 318.5h0" stroke="#7a7a7a" stroke-width="2.6" stroke-linecap="round"/><path d="M419.5 366.6h0" stroke="#c8c8c8" stroke-width="2.6" stroke-linecap="round"/><path d="M475.8 408h0" stroke="#b8d0b0" stroke-width="2.6" stroke-linecap="round"/><path d="M287 290h0" stroke="#a0a0a0" stroke-width="2.6" stroke-linecap="round"/><path d="M282 342h0" stroke="#909090" stroke-width="2.6" stroke-linecap="round"/><path d="M254 305.6h0" stroke="#505050" stroke-width="2.6" stroke-linecap="round"/><path d="M257 288h0" stroke="#808080" stroke-width="2.6" stroke-linecap="round"/><path d="M285 164h0" stroke="#909090" stroke-width="2.6" stroke-linecap="round"/><path d="M275 92h0" stroke="#b0b0b0" stroke-width="2.6" stroke-linecap="round"/></g>
<rect x="114.2" y="56" width="3.8" height="446" fill="#000"/>
<rect x="558.5" y="56" width="3.4" height="446" fill="#000"/>
<rect x="114.2" y="56.3" width="447.7" height="2.7" fill="#000"/>
<rect x="114.2" y="498.8" width="447.7" height="3.2" fill="#000"/>
<path d="M106 501.20H115 M110.3 457.64H115 M106 414.08H115 M110.3 370.52H115 M106 326.96H115 M110.3 283.40H115 M106 239.84H115 M110.3 196.28H115 M106 152.72H115 M110.3 109.16H115 M106 65.60H115" stroke="#000" stroke-width="2.1" fill="none"/>
<path d="M146.96 501V505.5 M166.60 501V505.5 M180.53 501V505.5 M191.34 501V505.5 M200.16 501V505.5 M207.63 501V505.5 M214.09 501V505.5 M219.80 501V505.5 M258.59 501V505.5 M278.29 501V505.5 M292.27 501V505.5 M303.11 501V505.5 M311.98 501V505.5 M319.47 501V505.5 M325.96 501V505.5 M331.68 501V505.5 M370.27 501V505.5 M389.86 501V505.5 M403.75 501V505.5 M414.53 501V505.5 M423.33 501V505.5 M430.77 501V505.5 M437.22 501V505.5 M442.91 501V505.5 M481.08 501V505.5 M500.44 501V505.5 M514.17 501V505.5 M524.82 501V505.5 M533.52 501V505.5 M540.88 501V505.5 M547.25 501V505.5 M552.87 501V505.5 M224.90 501V510.5 M336.80 501V510.5 M448.00 501V510.5 M557.90 501V510.5" stroke="#000" stroke-width="2.4" fill="none"/>
<text transform="translate(146.83,38.59) scale(0.944,1)" font-size="27.66">[Ungated] CD196-PC7 / SS INT</text>
<text transform="translate(268.36,573.12) scale(0.919,1)" font-size="28.17">CD196-PC7</text>
<text transform="translate(44.12,320.98) rotate(-90) scale(0.928,1)" font-size="27.89">SS INT</text>
<text transform="translate(53.49,70.01) scale(0.910,1)" font-size="23.80">1000</text>
<text transform="translate(64.50,157.96) scale(0.910,1)" font-size="23.80">800</text>
<text transform="translate(64.80,244.96) scale(0.910,1)" font-size="23.80">600</text>
<text transform="translate(64.80,333.31) scale(0.910,1)" font-size="23.80">400</text>
<text transform="translate(64.80,419.86) scale(0.910,1)" font-size="23.80">200</text>
<text transform="translate(89.75,507.86) scale(0.910,1)" font-size="23.80">0</text>
<text transform="translate(199.48,534.35) scale(0.890,1)" font-size="24.20">10</text>
<text transform="translate(224.73,526.20) scale(0.800,1)" font-size="14.20">0</text>
<text transform="translate(312.83,534.35) scale(0.890,1)" font-size="24.20">10</text>
<text transform="translate(338.05,526.20) scale(0.800,1)" font-size="14.20">1</text>
<text transform="translate(427.08,534.35) scale(0.890,1)" font-size="24.20">10</text>
<text transform="translate(452.13,526.27) scale(0.800,1)" font-size="14.20">2</text>
<text transform="translate(534.58,534.35) scale(0.890,1)" font-size="24.20">10</text>
<text transform="translate(559.43,526.20) scale(0.800,1)" font-size="14.20">3</text>
</svg>
</body></html>
